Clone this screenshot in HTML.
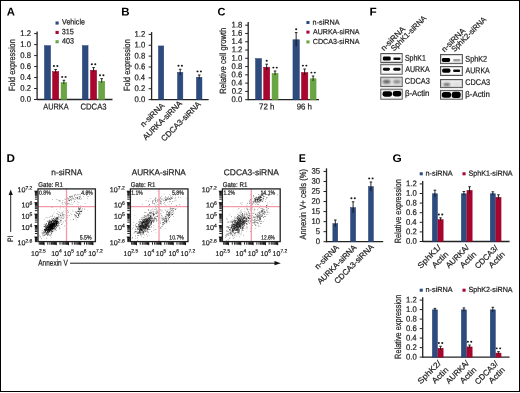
<!DOCTYPE html>
<html><head><meta charset="utf-8"><style>
html,body{margin:0;padding:0;background:#fff;}
svg{display:block;font-family:"Liberation Sans", sans-serif;will-change:transform;text-rendering:geometricPrecision;}
text:not([font-weight]){stroke:#1e1e1e;stroke-width:0.22px;}
</style></head><body>
<svg width="520" height="393" viewBox="0 0 520 393">
<rect width="520" height="393" fill="#fff"/>
<rect x="0.5" y="0.5" width="519" height="391" fill="none" stroke="#000" stroke-width="1"/>
<text x="6.72" y="15.40" font-size="11.2" font-weight="bold" textLength="8.18" lengthAdjust="spacingAndGlyphs" transform="rotate(0.05 6.72 15.40)" fill="#000">A</text>
<rect x="55.50" y="21.50" width="3.20" height="3.10" fill="#2e4b7e"/>
<text x="62.07" y="24.50" font-size="7.8" textLength="22.84" lengthAdjust="spacingAndGlyphs" transform="rotate(0.05 62.07 24.50)" fill="#1e1e1e">Vehicle</text>
<rect x="55.50" y="30.90" width="3.20" height="3.10" fill="#a8052f"/>
<text x="61.82" y="34.20" font-size="7.8" textLength="12.08" lengthAdjust="spacingAndGlyphs" transform="rotate(0.05 61.82 34.20)" fill="#1e1e1e">315</text>
<rect x="55.50" y="40.20" width="3.20" height="3.10" fill="#6aa545"/>
<text x="61.94" y="43.60" font-size="7.8" textLength="11.98" lengthAdjust="spacingAndGlyphs" transform="rotate(0.05 61.94 43.60)" fill="#1e1e1e">403</text>
<line x1="37.10" y1="31.50" x2="37.10" y2="100.10" stroke="#222" stroke-width="1.3"/>
<line x1="34.10" y1="99.50" x2="37.10" y2="99.50" stroke="#222" stroke-width="1.0"/>
<text x="20.29" y="101.85" font-size="8.2" textLength="10.72" lengthAdjust="spacingAndGlyphs" transform="rotate(0.05 20.29 101.85)" fill="#1e1e1e">0.0</text>
<line x1="34.10" y1="88.52" x2="37.10" y2="88.52" stroke="#222" stroke-width="1.0"/>
<text x="20.37" y="90.87" font-size="8.2" textLength="10.72" lengthAdjust="spacingAndGlyphs" transform="rotate(0.05 20.37 90.87)" fill="#1e1e1e">0.2</text>
<line x1="34.10" y1="77.54" x2="37.10" y2="77.54" stroke="#222" stroke-width="1.0"/>
<text x="20.21" y="79.89" font-size="8.2" textLength="10.72" lengthAdjust="spacingAndGlyphs" transform="rotate(0.05 20.21 79.89)" fill="#1e1e1e">0.4</text>
<line x1="34.10" y1="66.56" x2="37.10" y2="66.56" stroke="#222" stroke-width="1.0"/>
<text x="20.32" y="68.91" font-size="8.2" textLength="10.72" lengthAdjust="spacingAndGlyphs" transform="rotate(0.05 20.32 68.91)" fill="#1e1e1e">0.6</text>
<line x1="34.10" y1="55.58" x2="37.10" y2="55.58" stroke="#222" stroke-width="1.0"/>
<text x="20.32" y="57.93" font-size="8.2" textLength="10.72" lengthAdjust="spacingAndGlyphs" transform="rotate(0.05 20.32 57.93)" fill="#1e1e1e">0.8</text>
<line x1="34.10" y1="44.60" x2="37.10" y2="44.60" stroke="#222" stroke-width="1.0"/>
<text x="20.29" y="46.95" font-size="8.2" textLength="10.72" lengthAdjust="spacingAndGlyphs" transform="rotate(0.05 20.29 46.95)" fill="#1e1e1e">1.0</text>
<line x1="34.10" y1="33.62" x2="37.10" y2="33.62" stroke="#222" stroke-width="1.0"/>
<text x="20.37" y="35.97" font-size="8.2" textLength="10.72" lengthAdjust="spacingAndGlyphs" transform="rotate(0.05 20.37 35.97)" fill="#1e1e1e">1.2</text>
<line x1="37.10" y1="99.50" x2="112.50" y2="99.50" stroke="#222" stroke-width="1.3"/>
<rect x="44.45" y="45.65" width="6.10" height="53.85" fill="#2e4b7e" stroke="#223f76" stroke-width="0.5"/>
<rect x="52.55" y="71.62" width="6.20" height="27.88" fill="#a8052f" stroke="#9a0024" stroke-width="0.5"/>
<line x1="55.65" y1="69.47" x2="55.65" y2="72.87" stroke="#111" stroke-width="0.9"/>
<line x1="54.35" y1="69.47" x2="56.95" y2="69.47" stroke="#111" stroke-width="0.9"/>
<ellipse cx="53.95" cy="66.07" rx="1.05" ry="0.95" fill="#1a1a1a"/>
<ellipse cx="57.35" cy="66.07" rx="1.05" ry="0.95" fill="#1a1a1a"/>
<rect x="61.05" y="82.71" width="5.70" height="16.79" fill="#6aa545" stroke="#5a9c33" stroke-width="0.5"/>
<line x1="63.90" y1="80.29" x2="63.90" y2="83.96" stroke="#111" stroke-width="0.9"/>
<line x1="62.60" y1="80.29" x2="65.20" y2="80.29" stroke="#111" stroke-width="0.9"/>
<ellipse cx="62.20" cy="76.89" rx="1.05" ry="0.95" fill="#1a1a1a"/>
<ellipse cx="65.60" cy="76.89" rx="1.05" ry="0.95" fill="#1a1a1a"/>
<rect x="82.35" y="45.65" width="5.70" height="53.85" fill="#2e4b7e" stroke="#223f76" stroke-width="0.5"/>
<rect x="90.45" y="70.27" width="6.20" height="29.23" fill="#a8052f" stroke="#9a0024" stroke-width="0.5"/>
<line x1="93.55" y1="67.58" x2="93.55" y2="71.52" stroke="#111" stroke-width="0.9"/>
<line x1="92.25" y1="67.58" x2="94.85" y2="67.58" stroke="#111" stroke-width="0.9"/>
<ellipse cx="91.85" cy="64.18" rx="1.05" ry="0.95" fill="#1a1a1a"/>
<ellipse cx="95.25" cy="64.18" rx="1.05" ry="0.95" fill="#1a1a1a"/>
<rect x="98.65" y="81.36" width="6.10" height="18.14" fill="#6aa545" stroke="#5a9c33" stroke-width="0.5"/>
<line x1="101.70" y1="78.67" x2="101.70" y2="82.61" stroke="#111" stroke-width="0.9"/>
<line x1="100.40" y1="78.67" x2="103.00" y2="78.67" stroke="#111" stroke-width="0.9"/>
<ellipse cx="100.00" cy="75.27" rx="1.05" ry="0.95" fill="#1a1a1a"/>
<ellipse cx="103.40" cy="75.27" rx="1.05" ry="0.95" fill="#1a1a1a"/>
<text x="43.29" y="109.50" font-size="8.5" textLength="25.33" lengthAdjust="spacingAndGlyphs" transform="rotate(0.05 43.29 109.50)" fill="#1e1e1e">AURKA</text>
<text x="80.51" y="109.50" font-size="8.5" textLength="26.03" lengthAdjust="spacingAndGlyphs" transform="rotate(0.05 80.51 109.50)" fill="#1e1e1e">CDCA3</text>
<text x="14.90" y="91.10" font-size="9.0" textLength="51.88" lengthAdjust="spacingAndGlyphs" transform="rotate(-90 14.90 91.10)" fill="#1e1e1e">Fold expression</text>
<text x="121.23" y="15.40" font-size="11.2" font-weight="bold" textLength="8.29" lengthAdjust="spacingAndGlyphs" transform="rotate(0.05 121.23 15.40)" fill="#000">B</text>
<line x1="151.60" y1="32.10" x2="151.60" y2="100.20" stroke="#222" stroke-width="1.3"/>
<line x1="148.60" y1="99.60" x2="151.60" y2="99.60" stroke="#222" stroke-width="1.0"/>
<text x="134.49" y="101.95" font-size="8.2" textLength="10.72" lengthAdjust="spacingAndGlyphs" transform="rotate(0.05 134.49 101.95)" fill="#1e1e1e">0.0</text>
<line x1="148.60" y1="88.73" x2="151.60" y2="88.73" stroke="#222" stroke-width="1.0"/>
<text x="134.57" y="91.08" font-size="8.2" textLength="10.72" lengthAdjust="spacingAndGlyphs" transform="rotate(0.05 134.57 91.08)" fill="#1e1e1e">0.2</text>
<line x1="148.60" y1="77.86" x2="151.60" y2="77.86" stroke="#222" stroke-width="1.0"/>
<text x="134.41" y="80.21" font-size="8.2" textLength="10.72" lengthAdjust="spacingAndGlyphs" transform="rotate(0.05 134.41 80.21)" fill="#1e1e1e">0.4</text>
<line x1="148.60" y1="66.99" x2="151.60" y2="66.99" stroke="#222" stroke-width="1.0"/>
<text x="134.52" y="69.34" font-size="8.2" textLength="10.72" lengthAdjust="spacingAndGlyphs" transform="rotate(0.05 134.52 69.34)" fill="#1e1e1e">0.6</text>
<line x1="148.60" y1="56.12" x2="151.60" y2="56.12" stroke="#222" stroke-width="1.0"/>
<text x="134.52" y="58.47" font-size="8.2" textLength="10.72" lengthAdjust="spacingAndGlyphs" transform="rotate(0.05 134.52 58.47)" fill="#1e1e1e">0.8</text>
<line x1="148.60" y1="45.25" x2="151.60" y2="45.25" stroke="#222" stroke-width="1.0"/>
<text x="134.49" y="47.60" font-size="8.2" textLength="10.72" lengthAdjust="spacingAndGlyphs" transform="rotate(0.05 134.49 47.60)" fill="#1e1e1e">1.0</text>
<line x1="148.60" y1="34.38" x2="151.60" y2="34.38" stroke="#222" stroke-width="1.0"/>
<text x="134.57" y="36.73" font-size="8.2" textLength="10.72" lengthAdjust="spacingAndGlyphs" transform="rotate(0.05 134.57 36.73)" fill="#1e1e1e">1.2</text>
<line x1="151.60" y1="99.60" x2="208.70" y2="99.60" stroke="#222" stroke-width="1.3"/>
<rect x="158.45" y="45.95" width="5.30" height="53.65" fill="#2e4b7e" stroke="#223f76" stroke-width="0.5"/>
<rect x="177.55" y="72.35" width="5.30" height="27.25" fill="#2e4b7e" stroke="#223f76" stroke-width="0.5"/>
<line x1="180.20" y1="69.30" x2="180.20" y2="75.00" stroke="#111" stroke-width="0.9"/>
<line x1="178.90" y1="69.30" x2="181.50" y2="69.30" stroke="#111" stroke-width="0.9"/>
<ellipse cx="178.50" cy="65.70" rx="1.05" ry="0.95" fill="#1a1a1a"/>
<ellipse cx="181.90" cy="65.70" rx="1.05" ry="0.95" fill="#1a1a1a"/>
<rect x="196.45" y="77.35" width="5.50" height="22.25" fill="#2e4b7e" stroke="#223f76" stroke-width="0.5"/>
<line x1="199.20" y1="75.00" x2="199.20" y2="79.00" stroke="#111" stroke-width="0.9"/>
<line x1="197.90" y1="75.00" x2="200.50" y2="75.00" stroke="#111" stroke-width="0.9"/>
<ellipse cx="197.50" cy="71.40" rx="1.05" ry="0.95" fill="#1a1a1a"/>
<ellipse cx="200.90" cy="71.40" rx="1.05" ry="0.95" fill="#1a1a1a"/>
<text x="129.90" y="91.10" font-size="9.0" textLength="51.88" lengthAdjust="spacingAndGlyphs" transform="rotate(-90 129.90 91.10)" fill="#1e1e1e">Fold expression</text>
<text x="143.62" y="127.48" font-size="8.0" textLength="30.26" lengthAdjust="spacingAndGlyphs" transform="rotate(-45 143.62 127.48)" fill="#1e1e1e">n-siRNA</text>
<text x="145.99" y="140.51" font-size="8.0" textLength="51.53" lengthAdjust="spacingAndGlyphs" transform="rotate(-45 145.99 140.51)" fill="#1e1e1e">AURKA-siRNA</text>
<text x="164.31" y="141.79" font-size="8.0" textLength="52.42" lengthAdjust="spacingAndGlyphs" transform="rotate(-45 164.31 141.79)" fill="#1e1e1e">CDCA3-siRNA</text>
<text x="217.55" y="15.40" font-size="11.2" font-weight="bold" textLength="7.95" lengthAdjust="spacingAndGlyphs" transform="rotate(0.05 217.55 15.40)" fill="#000">C</text>
<line x1="248.20" y1="22.00" x2="248.20" y2="100.30" stroke="#222" stroke-width="1.3"/>
<line x1="245.20" y1="99.70" x2="248.20" y2="99.70" stroke="#222" stroke-width="1.0"/>
<text x="231.59" y="102.05" font-size="8.2" textLength="10.72" lengthAdjust="spacingAndGlyphs" transform="rotate(0.05 231.59 102.05)" fill="#1e1e1e">0.0</text>
<line x1="245.20" y1="91.42" x2="248.20" y2="91.42" stroke="#222" stroke-width="1.0"/>
<text x="231.67" y="93.77" font-size="8.2" textLength="10.72" lengthAdjust="spacingAndGlyphs" transform="rotate(0.05 231.67 93.77)" fill="#1e1e1e">0.2</text>
<line x1="245.20" y1="83.14" x2="248.20" y2="83.14" stroke="#222" stroke-width="1.0"/>
<text x="231.51" y="85.49" font-size="8.2" textLength="10.72" lengthAdjust="spacingAndGlyphs" transform="rotate(0.05 231.51 85.49)" fill="#1e1e1e">0.4</text>
<line x1="245.20" y1="74.86" x2="248.20" y2="74.86" stroke="#222" stroke-width="1.0"/>
<text x="231.62" y="77.21" font-size="8.2" textLength="10.72" lengthAdjust="spacingAndGlyphs" transform="rotate(0.05 231.62 77.21)" fill="#1e1e1e">0.6</text>
<line x1="245.20" y1="66.58" x2="248.20" y2="66.58" stroke="#222" stroke-width="1.0"/>
<text x="231.62" y="68.93" font-size="8.2" textLength="10.72" lengthAdjust="spacingAndGlyphs" transform="rotate(0.05 231.62 68.93)" fill="#1e1e1e">0.8</text>
<line x1="245.20" y1="58.30" x2="248.20" y2="58.30" stroke="#222" stroke-width="1.0"/>
<text x="231.59" y="60.65" font-size="8.2" textLength="10.72" lengthAdjust="spacingAndGlyphs" transform="rotate(0.05 231.59 60.65)" fill="#1e1e1e">1.0</text>
<line x1="245.20" y1="50.02" x2="248.20" y2="50.02" stroke="#222" stroke-width="1.0"/>
<text x="231.67" y="52.37" font-size="8.2" textLength="10.72" lengthAdjust="spacingAndGlyphs" transform="rotate(0.05 231.67 52.37)" fill="#1e1e1e">1.2</text>
<line x1="245.20" y1="41.74" x2="248.20" y2="41.74" stroke="#222" stroke-width="1.0"/>
<text x="231.51" y="44.09" font-size="8.2" textLength="10.72" lengthAdjust="spacingAndGlyphs" transform="rotate(0.05 231.51 44.09)" fill="#1e1e1e">1.4</text>
<line x1="245.20" y1="33.46" x2="248.20" y2="33.46" stroke="#222" stroke-width="1.0"/>
<text x="231.62" y="35.81" font-size="8.2" textLength="10.72" lengthAdjust="spacingAndGlyphs" transform="rotate(0.05 231.62 35.81)" fill="#1e1e1e">1.6</text>
<line x1="245.20" y1="25.18" x2="248.20" y2="25.18" stroke="#222" stroke-width="1.0"/>
<text x="231.62" y="27.53" font-size="8.2" textLength="10.72" lengthAdjust="spacingAndGlyphs" transform="rotate(0.05 231.62 27.53)" fill="#1e1e1e">1.8</text>
<line x1="248.20" y1="99.70" x2="319.00" y2="99.70" stroke="#222" stroke-width="1.3"/>
<rect x="255.55" y="58.55" width="6.00" height="41.15" fill="#2e4b7e" stroke="#223f76" stroke-width="0.5"/>
<rect x="263.65" y="67.25" width="6.10" height="32.45" fill="#a8052f" stroke="#9a0024" stroke-width="0.5"/>
<line x1="266.70" y1="64.20" x2="266.70" y2="70.00" stroke="#111" stroke-width="0.9"/>
<line x1="265.40" y1="64.20" x2="268.00" y2="64.20" stroke="#111" stroke-width="0.9"/>
<ellipse cx="266.70" cy="60.80" rx="1.05" ry="0.95" fill="#1a1a1a"/>
<rect x="272.05" y="73.45" width="6.00" height="26.25" fill="#6aa545" stroke="#5a9c33" stroke-width="0.5"/>
<line x1="275.05" y1="71.00" x2="275.05" y2="75.00" stroke="#111" stroke-width="0.9"/>
<line x1="273.75" y1="71.00" x2="276.35" y2="71.00" stroke="#111" stroke-width="0.9"/>
<ellipse cx="273.35" cy="67.60" rx="1.05" ry="0.95" fill="#1a1a1a"/>
<ellipse cx="276.75" cy="67.60" rx="1.05" ry="0.95" fill="#1a1a1a"/>
<rect x="292.95" y="39.75" width="6.40" height="59.95" fill="#2e4b7e" stroke="#223f76" stroke-width="0.5"/>
<line x1="296.15" y1="32.60" x2="296.15" y2="46.40" stroke="#111" stroke-width="0.9"/>
<line x1="294.85" y1="32.60" x2="297.45" y2="32.60" stroke="#111" stroke-width="0.9"/>
<ellipse cx="296.15" cy="29.20" rx="1.05" ry="0.95" fill="#1a1a1a"/>
<rect x="301.45" y="72.55" width="6.40" height="27.15" fill="#a8052f" stroke="#9a0024" stroke-width="0.5"/>
<line x1="304.65" y1="69.00" x2="304.65" y2="75.00" stroke="#111" stroke-width="0.9"/>
<line x1="303.35" y1="69.00" x2="305.95" y2="69.00" stroke="#111" stroke-width="0.9"/>
<ellipse cx="302.95" cy="65.60" rx="1.05" ry="0.95" fill="#1a1a1a"/>
<ellipse cx="306.35" cy="65.60" rx="1.05" ry="0.95" fill="#1a1a1a"/>
<rect x="310.15" y="78.75" width="5.90" height="20.95" fill="#6aa545" stroke="#5a9c33" stroke-width="0.5"/>
<line x1="313.10" y1="76.00" x2="313.10" y2="81.00" stroke="#111" stroke-width="0.9"/>
<line x1="311.80" y1="76.00" x2="314.40" y2="76.00" stroke="#111" stroke-width="0.9"/>
<ellipse cx="311.40" cy="72.60" rx="1.05" ry="0.95" fill="#1a1a1a"/>
<ellipse cx="314.80" cy="72.60" rx="1.05" ry="0.95" fill="#1a1a1a"/>
<text x="259.09" y="109.40" font-size="8.6" textLength="15.42" lengthAdjust="spacingAndGlyphs" transform="rotate(0.05 259.09 109.40)" fill="#1e1e1e">72 h</text>
<text x="296.63" y="109.40" font-size="8.6" textLength="15.38" lengthAdjust="spacingAndGlyphs" transform="rotate(0.05 296.63 109.40)" fill="#1e1e1e">96 h</text>
<rect x="306.40" y="21.00" width="3.10" height="3.00" fill="#2e4b7e"/>
<text x="312.62" y="24.70" font-size="7.4" textLength="26.89" lengthAdjust="spacingAndGlyphs" transform="rotate(0.05 312.62 24.70)" fill="#1e1e1e">n-siRNA</text>
<rect x="306.40" y="30.60" width="3.10" height="3.00" fill="#a8052f"/>
<text x="313.09" y="34.20" font-size="7.4" textLength="46.43" lengthAdjust="spacingAndGlyphs" transform="rotate(0.05 313.09 34.20)" fill="#1e1e1e">AURKA-siRNA</text>
<rect x="306.40" y="40.40" width="3.10" height="3.00" fill="#6aa545"/>
<text x="312.74" y="44.00" font-size="7.4" textLength="46.78" lengthAdjust="spacingAndGlyphs" transform="rotate(0.05 312.74 44.00)" fill="#1e1e1e">CDCA3-siRNA</text>
<text x="225.70" y="93.62" font-size="9.0" textLength="65.92" lengthAdjust="spacingAndGlyphs" transform="rotate(-90 225.70 93.62)" fill="#1e1e1e">Relative cell growth</text>
<text x="369.61" y="15.40" font-size="11.2" font-weight="bold" textLength="7.22" lengthAdjust="spacingAndGlyphs" transform="rotate(0.05 369.61 15.40)" fill="#000">F</text>
<text x="383.91" y="51.29" font-size="7.8" textLength="30.56" lengthAdjust="spacingAndGlyphs" transform="rotate(-45 383.91 51.29)" fill="#1e1e1e">n-siRNA</text>
<text x="393.96" y="51.54" font-size="7.8" textLength="46.56" lengthAdjust="spacingAndGlyphs" transform="rotate(-45 393.96 51.54)" fill="#1e1e1e">SphK1-siRNA</text>
<text x="444.52" y="52.48" font-size="7.8" textLength="30.05" lengthAdjust="spacingAndGlyphs" transform="rotate(-45 444.52 52.48)" fill="#1e1e1e">n-siRNA</text>
<text x="454.46" y="52.34" font-size="7.8" textLength="45.85" lengthAdjust="spacingAndGlyphs" transform="rotate(-45 454.46 52.34)" fill="#1e1e1e">SphK2-siRNA</text>
<defs>
<filter id="bl" x="-40%" y="-80%" width="180%" height="260%"><feGaussianBlur stdDeviation="0.6"/></filter>
<filter id="bl2" x="-40%" y="-80%" width="180%" height="260%"><feGaussianBlur stdDeviation="0.9"/></filter>
</defs>
<rect x="380.80" y="53.50" width="21.40" height="9.00" fill="#fbfbfb" stroke="#555" stroke-width="1.0"/>
<rect x="381.80" y="54.50" width="19.40" height="7.00" fill="none" stroke="#c4c4c4" stroke-width="0.6"/>
<rect x="382.90" y="56.40" width="7.80" height="4.20" rx="1.4" fill="#000" filter="url(#bl)"/>
<rect x="393.30" y="57.40" width="7.20" height="2.50" rx="1.0" fill="#111" filter="url(#bl)"/>
<rect x="380.80" y="64.30" width="21.40" height="9.90" fill="#fbfbfb" stroke="#555" stroke-width="1.0"/>
<rect x="381.80" y="65.30" width="19.40" height="7.90" fill="none" stroke="#c4c4c4" stroke-width="0.6"/>
<rect x="382.90" y="67.70" width="7.00" height="3.00" rx="1.4" fill="#080808" filter="url(#bl)"/>
<rect x="393.30" y="67.80" width="7.20" height="2.90" rx="1.4" fill="#080808" filter="url(#bl)"/>
<rect x="380.80" y="77.20" width="21.40" height="9.40" fill="#e6e6e6" stroke="#555" stroke-width="1.0"/>
<rect x="381.80" y="78.20" width="19.40" height="7.40" fill="none" stroke="#c4c4c4" stroke-width="0.6"/>
<rect x="382.90" y="80.10" width="7.40" height="3.40" rx="1.4" fill="#5e5e5e" filter="url(#bl2)"/>
<rect x="393.40" y="80.10" width="7.10" height="3.40" rx="1.4" fill="#888" filter="url(#bl2)"/>
<rect x="380.80" y="89.20" width="21.40" height="10.00" fill="#fbfbfb" stroke="#555" stroke-width="1.0"/>
<rect x="381.80" y="90.20" width="19.40" height="8.00" fill="none" stroke="#c4c4c4" stroke-width="0.6"/>
<rect x="382.50" y="91.30" width="9.60" height="5.40" rx="2.4" fill="#000" filter="url(#bl)"/>
<rect x="392.70" y="91.00" width="8.70" height="5.40" rx="2.4" fill="#000" filter="url(#bl)"/>
<text x="404.88" y="60.70" font-size="8.4" textLength="21.06" lengthAdjust="spacingAndGlyphs" transform="rotate(0.05 404.88 60.70)" fill="#1e1e1e">SphK1</text>
<text x="405.19" y="72.10" font-size="8.4" textLength="24.43" lengthAdjust="spacingAndGlyphs" transform="rotate(0.05 405.19 72.10)" fill="#1e1e1e">AURKA</text>
<text x="404.82" y="83.80" font-size="8.4" textLength="25.10" lengthAdjust="spacingAndGlyphs" transform="rotate(0.05 404.82 83.80)" fill="#1e1e1e">CDCA3</text>
<text x="404.90" y="95.90" font-size="8.4" textLength="24.60" lengthAdjust="spacingAndGlyphs" transform="rotate(0.05 404.90 95.90)" fill="#1e1e1e">&#946;-Actin</text>
<rect x="440.50" y="54.50" width="21.90" height="9.10" fill="#fbfbfb" stroke="#555" stroke-width="1.0"/>
<rect x="441.50" y="55.50" width="19.90" height="7.10" fill="none" stroke="#c4c4c4" stroke-width="0.6"/>
<rect x="441.90" y="58.10" width="8.20" height="3.80" rx="1.4" fill="#000" filter="url(#bl)"/>
<rect x="453.10" y="59.10" width="7.30" height="2.50" rx="1.0" fill="#a0a0a0" filter="url(#bl)"/>
<rect x="440.50" y="66.50" width="21.90" height="9.00" fill="#fbfbfb" stroke="#555" stroke-width="1.0"/>
<rect x="441.50" y="67.50" width="19.90" height="7.00" fill="none" stroke="#c4c4c4" stroke-width="0.6"/>
<rect x="442.10" y="68.40" width="8.40" height="4.30" rx="1.8" fill="#000" filter="url(#bl)"/>
<rect x="453.10" y="69.50" width="7.00" height="2.40" rx="1.0" fill="#111" filter="url(#bl)"/>
<rect x="440.50" y="79.50" width="21.90" height="8.10" fill="#ececec" stroke="#555" stroke-width="1.0"/>
<rect x="441.50" y="80.50" width="19.90" height="6.10" fill="none" stroke="#c4c4c4" stroke-width="0.6"/>
<rect x="443.40" y="83.30" width="6.70" height="2.40" rx="1.4" fill="#555" filter="url(#bl2)"/>
<rect x="453.40" y="83.20" width="6.70" height="2.40" rx="1.4" fill="#d6d6d6" filter="url(#bl2)"/>
<rect x="440.50" y="90.40" width="21.90" height="8.80" fill="#fbfbfb" stroke="#555" stroke-width="1.0"/>
<rect x="441.50" y="91.40" width="19.90" height="6.80" fill="none" stroke="#c4c4c4" stroke-width="0.6"/>
<rect x="441.80" y="92.00" width="9.30" height="5.70" rx="2.5" fill="#000" filter="url(#bl)"/>
<rect x="451.70" y="91.70" width="9.00" height="6.40" rx="2.5" fill="#000" filter="url(#bl)"/>
<text x="465.27" y="61.70" font-size="8.4" textLength="21.90" lengthAdjust="spacingAndGlyphs" transform="rotate(0.05 465.27 61.70)" fill="#1e1e1e">SphK2</text>
<text x="465.59" y="73.20" font-size="8.4" textLength="24.23" lengthAdjust="spacingAndGlyphs" transform="rotate(0.05 465.59 73.20)" fill="#1e1e1e">AURKA</text>
<text x="465.23" y="84.90" font-size="8.4" textLength="24.90" lengthAdjust="spacingAndGlyphs" transform="rotate(0.05 465.23 84.90)" fill="#1e1e1e">CDCA3</text>
<text x="465.30" y="96.90" font-size="8.4" textLength="24.60" lengthAdjust="spacingAndGlyphs" transform="rotate(0.05 465.30 96.90)" fill="#1e1e1e">&#946;-Actin</text>
<text x="6.61" y="162.10" font-size="11.2" font-weight="bold" textLength="8.48" lengthAdjust="spacingAndGlyphs" transform="rotate(0.05 6.61 162.10)" fill="#000">D</text>
<text x="51.25" y="175.20" font-size="8.6" textLength="30.97" lengthAdjust="spacingAndGlyphs" transform="rotate(0.05 51.25 175.20)" fill="#1e1e1e">n-siRNA</text>
<text x="38.29" y="187.00" font-size="6.9" textLength="24.61" lengthAdjust="spacingAndGlyphs" transform="rotate(0.05 38.29 187.00)" fill="#1e1e1e">Gate: R1</text>
<path d="M57.4 221.0h0.62v0.62h-0.62zM51.1 227.7h0.62v0.62h-0.62zM51.9 229.6h0.62v0.62h-0.62zM42.5 234.2h0.62v0.62h-0.62zM52.0 226.8h0.62v0.62h-0.62zM49.8 226.6h0.62v0.62h-0.62zM50.9 229.0h0.62v0.62h-0.62zM53.8 226.4h0.62v0.62h-0.62zM53.1 225.2h0.62v0.62h-0.62zM48.9 230.4h0.62v0.62h-0.62zM47.2 227.7h0.62v0.62h-0.62zM50.5 228.3h0.62v0.62h-0.62zM51.5 222.0h0.62v0.62h-0.62zM56.0 227.0h0.62v0.62h-0.62zM48.8 231.7h0.62v0.62h-0.62zM45.4 227.5h0.62v0.62h-0.62zM49.4 219.8h0.62v0.62h-0.62zM57.8 222.5h0.62v0.62h-0.62zM49.7 224.8h0.62v0.62h-0.62zM49.8 228.8h0.62v0.62h-0.62zM52.5 220.5h0.62v0.62h-0.62zM50.2 227.0h0.62v0.62h-0.62zM52.3 222.6h0.62v0.62h-0.62zM56.7 221.6h0.62v0.62h-0.62zM52.5 223.3h0.62v0.62h-0.62zM53.4 227.6h0.62v0.62h-0.62zM52.2 222.4h0.62v0.62h-0.62zM50.9 229.7h0.62v0.62h-0.62zM50.5 226.4h0.62v0.62h-0.62zM50.0 228.4h0.62v0.62h-0.62zM48.1 224.3h0.62v0.62h-0.62zM47.0 225.0h0.62v0.62h-0.62zM52.0 227.9h0.62v0.62h-0.62zM48.1 225.4h0.62v0.62h-0.62zM50.8 225.1h0.62v0.62h-0.62zM50.7 225.2h0.62v0.62h-0.62zM50.6 223.6h0.62v0.62h-0.62zM55.6 221.5h0.62v0.62h-0.62zM44.2 229.0h0.62v0.62h-0.62zM53.3 219.9h0.62v0.62h-0.62zM51.6 227.9h0.62v0.62h-0.62zM46.1 228.8h0.62v0.62h-0.62zM51.6 227.4h0.62v0.62h-0.62zM52.3 226.4h0.62v0.62h-0.62zM56.5 224.4h0.62v0.62h-0.62zM48.4 229.9h0.62v0.62h-0.62zM49.0 222.6h0.62v0.62h-0.62zM50.4 224.5h0.62v0.62h-0.62zM45.2 230.8h0.62v0.62h-0.62zM49.2 231.4h0.62v0.62h-0.62zM53.4 224.3h0.62v0.62h-0.62zM52.4 222.8h0.62v0.62h-0.62zM55.0 222.8h0.62v0.62h-0.62zM52.1 223.6h0.62v0.62h-0.62zM53.0 225.2h0.62v0.62h-0.62zM51.6 225.6h0.62v0.62h-0.62zM56.3 223.3h0.62v0.62h-0.62zM48.9 229.0h0.62v0.62h-0.62zM52.0 227.6h0.62v0.62h-0.62zM52.2 224.5h0.62v0.62h-0.62zM47.2 232.0h0.62v0.62h-0.62zM54.8 221.3h0.62v0.62h-0.62zM49.5 229.3h0.62v0.62h-0.62zM51.1 226.3h0.62v0.62h-0.62zM57.4 218.5h0.62v0.62h-0.62zM47.8 228.0h0.62v0.62h-0.62zM49.0 227.2h0.62v0.62h-0.62zM56.5 221.3h0.62v0.62h-0.62zM44.3 226.2h0.62v0.62h-0.62zM51.5 228.9h0.62v0.62h-0.62zM49.1 220.9h0.62v0.62h-0.62zM52.1 224.0h0.62v0.62h-0.62zM52.3 223.4h0.62v0.62h-0.62zM53.2 225.6h0.62v0.62h-0.62zM55.5 221.7h0.62v0.62h-0.62zM54.1 222.4h0.62v0.62h-0.62zM52.9 224.0h0.62v0.62h-0.62zM50.3 229.3h0.62v0.62h-0.62zM52.2 231.3h0.62v0.62h-0.62zM45.7 232.6h0.62v0.62h-0.62zM50.1 220.7h0.62v0.62h-0.62zM44.8 231.2h0.62v0.62h-0.62zM54.3 223.5h0.62v0.62h-0.62zM61.5 224.2h0.62v0.62h-0.62zM46.6 228.2h0.62v0.62h-0.62zM48.4 227.5h0.62v0.62h-0.62zM50.4 228.1h0.62v0.62h-0.62zM54.0 223.5h0.62v0.62h-0.62zM46.4 226.8h0.62v0.62h-0.62zM52.0 227.5h0.62v0.62h-0.62zM47.5 225.7h0.62v0.62h-0.62zM49.8 226.3h0.62v0.62h-0.62zM56.9 223.4h0.62v0.62h-0.62zM46.1 227.2h0.62v0.62h-0.62zM50.7 225.1h0.62v0.62h-0.62zM54.3 227.2h0.62v0.62h-0.62zM53.3 222.6h0.62v0.62h-0.62zM45.6 228.5h0.62v0.62h-0.62zM53.6 221.3h0.62v0.62h-0.62zM53.6 225.5h0.62v0.62h-0.62zM51.4 220.8h0.62v0.62h-0.62zM50.3 224.7h0.62v0.62h-0.62zM43.8 229.2h0.62v0.62h-0.62zM47.3 226.4h0.62v0.62h-0.62zM55.4 224.9h0.62v0.62h-0.62zM51.0 225.6h0.62v0.62h-0.62zM50.2 225.4h0.62v0.62h-0.62zM57.1 220.5h0.62v0.62h-0.62zM56.7 217.6h0.62v0.62h-0.62zM49.1 224.3h0.62v0.62h-0.62zM58.6 221.0h0.62v0.62h-0.62zM46.2 233.6h0.62v0.62h-0.62zM43.5 231.4h0.62v0.62h-0.62zM54.7 223.9h0.62v0.62h-0.62zM52.3 228.7h0.62v0.62h-0.62zM53.5 224.6h0.62v0.62h-0.62zM53.3 224.8h0.62v0.62h-0.62zM48.9 224.4h0.62v0.62h-0.62zM52.9 223.4h0.62v0.62h-0.62zM48.7 222.7h0.62v0.62h-0.62zM47.9 232.4h0.62v0.62h-0.62zM51.4 224.8h0.62v0.62h-0.62zM53.5 227.0h0.62v0.62h-0.62zM55.5 218.7h0.62v0.62h-0.62zM48.8 230.7h0.62v0.62h-0.62zM48.7 223.6h0.62v0.62h-0.62zM49.1 226.6h0.62v0.62h-0.62zM51.4 227.0h0.62v0.62h-0.62zM56.6 220.8h0.62v0.62h-0.62zM52.1 224.5h0.62v0.62h-0.62zM47.1 225.1h0.62v0.62h-0.62zM53.4 227.1h0.62v0.62h-0.62zM54.3 224.2h0.62v0.62h-0.62zM49.6 230.6h0.62v0.62h-0.62zM51.8 228.2h0.62v0.62h-0.62zM55.2 220.2h0.62v0.62h-0.62zM54.2 223.5h0.62v0.62h-0.62zM54.8 229.6h0.62v0.62h-0.62zM48.3 226.2h0.62v0.62h-0.62zM51.1 226.9h0.62v0.62h-0.62zM45.4 230.1h0.62v0.62h-0.62zM56.5 225.1h0.62v0.62h-0.62zM52.3 224.9h0.62v0.62h-0.62zM49.9 223.9h0.62v0.62h-0.62zM46.1 229.2h0.62v0.62h-0.62zM46.7 226.2h0.62v0.62h-0.62zM49.2 221.0h0.62v0.62h-0.62zM47.8 221.2h0.62v0.62h-0.62zM48.4 226.4h0.62v0.62h-0.62zM50.9 222.6h0.62v0.62h-0.62zM54.1 222.9h0.62v0.62h-0.62zM47.7 226.9h0.62v0.62h-0.62zM49.7 227.9h0.62v0.62h-0.62zM50.9 231.1h0.62v0.62h-0.62zM45.7 228.0h0.62v0.62h-0.62zM51.6 221.5h0.62v0.62h-0.62zM54.0 225.5h0.62v0.62h-0.62zM55.5 227.9h0.62v0.62h-0.62zM46.1 228.4h0.62v0.62h-0.62zM45.3 226.9h0.62v0.62h-0.62zM50.4 225.6h0.62v0.62h-0.62zM49.1 226.6h0.62v0.62h-0.62zM52.4 226.4h0.62v0.62h-0.62zM47.3 226.6h0.62v0.62h-0.62zM52.6 223.3h0.62v0.62h-0.62zM56.1 219.4h0.62v0.62h-0.62zM53.4 218.5h0.62v0.62h-0.62zM53.6 218.3h0.62v0.62h-0.62zM51.9 226.2h0.62v0.62h-0.62zM54.6 223.5h0.62v0.62h-0.62zM48.7 225.9h0.62v0.62h-0.62zM56.1 224.9h0.62v0.62h-0.62zM51.2 228.3h0.62v0.62h-0.62zM50.2 228.0h0.62v0.62h-0.62zM49.9 228.8h0.62v0.62h-0.62zM53.7 224.0h0.62v0.62h-0.62zM52.9 225.9h0.62v0.62h-0.62zM52.8 226.4h0.62v0.62h-0.62zM47.6 229.6h0.62v0.62h-0.62zM48.4 222.5h0.62v0.62h-0.62zM46.3 230.3h0.62v0.62h-0.62zM54.3 219.8h0.62v0.62h-0.62zM48.8 224.6h0.62v0.62h-0.62zM52.5 226.0h0.62v0.62h-0.62zM48.0 223.7h0.62v0.62h-0.62zM47.4 232.2h0.62v0.62h-0.62zM45.8 229.4h0.62v0.62h-0.62zM49.1 224.2h0.62v0.62h-0.62zM54.3 219.7h0.62v0.62h-0.62zM51.0 232.7h0.62v0.62h-0.62zM51.0 230.2h0.62v0.62h-0.62zM50.4 225.6h0.62v0.62h-0.62zM47.4 232.8h0.62v0.62h-0.62zM48.4 233.8h0.62v0.62h-0.62zM48.4 225.9h0.62v0.62h-0.62zM50.4 225.5h0.62v0.62h-0.62zM51.2 228.4h0.62v0.62h-0.62zM56.3 221.3h0.62v0.62h-0.62zM49.9 225.8h0.62v0.62h-0.62zM54.5 226.9h0.62v0.62h-0.62zM56.7 221.2h0.62v0.62h-0.62zM57.4 221.3h0.62v0.62h-0.62zM49.7 234.3h0.62v0.62h-0.62zM50.6 227.7h0.62v0.62h-0.62zM58.5 225.6h0.62v0.62h-0.62zM47.2 230.8h0.62v0.62h-0.62zM47.9 228.6h0.62v0.62h-0.62zM47.2 230.2h0.62v0.62h-0.62zM48.1 231.5h0.62v0.62h-0.62zM48.5 230.4h0.62v0.62h-0.62zM52.1 225.7h0.62v0.62h-0.62zM52.7 219.5h0.62v0.62h-0.62zM54.1 219.2h0.62v0.62h-0.62zM50.6 225.4h0.62v0.62h-0.62zM46.0 233.3h0.62v0.62h-0.62zM53.0 228.0h0.62v0.62h-0.62zM46.4 223.6h0.62v0.62h-0.62zM51.8 224.4h0.62v0.62h-0.62zM49.9 225.6h0.62v0.62h-0.62zM45.3 231.5h0.62v0.62h-0.62zM52.6 224.7h0.62v0.62h-0.62zM43.4 231.4h0.62v0.62h-0.62zM46.9 226.2h0.62v0.62h-0.62zM53.4 226.2h0.62v0.62h-0.62zM53.2 225.7h0.62v0.62h-0.62zM55.2 220.0h0.62v0.62h-0.62zM43.5 233.4h0.62v0.62h-0.62zM51.0 223.7h0.62v0.62h-0.62zM51.0 221.5h0.62v0.62h-0.62zM50.9 227.8h0.62v0.62h-0.62zM51.9 222.7h0.62v0.62h-0.62zM45.9 227.8h0.62v0.62h-0.62zM52.1 222.8h0.62v0.62h-0.62zM55.1 226.3h0.62v0.62h-0.62zM48.6 229.6h0.62v0.62h-0.62zM49.3 228.3h0.62v0.62h-0.62zM50.5 226.5h0.62v0.62h-0.62zM50.2 229.1h0.62v0.62h-0.62zM55.3 223.4h0.62v0.62h-0.62zM49.6 223.4h0.62v0.62h-0.62zM54.6 221.1h0.62v0.62h-0.62zM53.6 221.0h0.62v0.62h-0.62zM51.5 225.9h0.62v0.62h-0.62zM50.3 226.3h0.62v0.62h-0.62zM45.1 226.1h0.62v0.62h-0.62zM50.2 230.0h0.62v0.62h-0.62zM48.9 228.8h0.62v0.62h-0.62zM49.4 222.2h0.62v0.62h-0.62zM50.0 230.3h0.62v0.62h-0.62zM51.4 225.7h0.62v0.62h-0.62zM52.3 225.8h0.62v0.62h-0.62zM49.5 227.4h0.62v0.62h-0.62zM50.6 226.6h0.62v0.62h-0.62zM54.6 220.3h0.62v0.62h-0.62zM53.4 218.1h0.62v0.62h-0.62zM47.6 227.5h0.62v0.62h-0.62zM50.6 226.6h0.62v0.62h-0.62zM49.9 227.0h0.62v0.62h-0.62zM51.1 227.6h0.62v0.62h-0.62zM55.5 220.6h0.62v0.62h-0.62zM49.7 220.3h0.62v0.62h-0.62zM55.9 222.6h0.62v0.62h-0.62zM55.2 218.8h0.62v0.62h-0.62zM47.6 225.3h0.62v0.62h-0.62zM49.9 225.9h0.62v0.62h-0.62zM49.0 223.7h0.62v0.62h-0.62zM54.6 222.8h0.62v0.62h-0.62zM49.2 224.7h0.62v0.62h-0.62zM55.8 226.3h0.62v0.62h-0.62zM54.1 221.5h0.62v0.62h-0.62zM53.6 221.1h0.62v0.62h-0.62zM51.3 223.3h0.62v0.62h-0.62zM45.3 225.3h0.62v0.62h-0.62zM44.8 229.6h0.62v0.62h-0.62zM53.2 221.0h0.62v0.62h-0.62zM51.8 223.7h0.62v0.62h-0.62zM44.7 225.7h0.62v0.62h-0.62zM49.4 227.4h0.62v0.62h-0.62zM51.4 229.0h0.62v0.62h-0.62zM45.1 230.6h0.62v0.62h-0.62zM51.6 224.8h0.62v0.62h-0.62zM49.1 228.9h0.62v0.62h-0.62zM48.8 225.6h0.62v0.62h-0.62zM52.5 222.7h0.62v0.62h-0.62zM52.0 227.4h0.62v0.62h-0.62zM52.9 224.2h0.62v0.62h-0.62zM50.4 222.6h0.62v0.62h-0.62zM48.4 223.1h0.62v0.62h-0.62zM54.5 228.7h0.62v0.62h-0.62zM57.3 220.2h0.62v0.62h-0.62zM48.0 224.1h0.62v0.62h-0.62zM56.2 220.6h0.62v0.62h-0.62zM49.1 229.7h0.62v0.62h-0.62zM53.4 223.5h0.62v0.62h-0.62zM48.7 222.6h0.62v0.62h-0.62zM51.4 230.7h0.62v0.62h-0.62zM43.7 235.3h0.62v0.62h-0.62zM55.6 220.2h0.62v0.62h-0.62zM48.4 230.5h0.62v0.62h-0.62zM47.7 228.6h0.62v0.62h-0.62zM50.9 224.9h0.62v0.62h-0.62zM52.5 226.8h0.62v0.62h-0.62zM48.9 222.1h0.62v0.62h-0.62zM51.7 228.0h0.62v0.62h-0.62zM47.0 231.3h0.62v0.62h-0.62zM54.8 224.0h0.62v0.62h-0.62zM49.6 230.0h0.62v0.62h-0.62zM54.0 227.2h0.62v0.62h-0.62zM54.9 225.9h0.62v0.62h-0.62zM55.9 223.1h0.62v0.62h-0.62zM49.8 226.0h0.62v0.62h-0.62zM51.1 227.8h0.62v0.62h-0.62zM49.6 225.9h0.62v0.62h-0.62zM43.9 230.6h0.62v0.62h-0.62zM49.4 228.9h0.62v0.62h-0.62zM48.5 229.6h0.62v0.62h-0.62zM49.3 231.3h0.62v0.62h-0.62zM48.4 222.3h0.62v0.62h-0.62zM51.0 227.7h0.62v0.62h-0.62zM56.9 221.5h0.62v0.62h-0.62zM55.8 221.1h0.62v0.62h-0.62zM47.5 234.1h0.62v0.62h-0.62zM50.1 224.2h0.62v0.62h-0.62zM48.5 229.6h0.62v0.62h-0.62zM52.2 223.5h0.62v0.62h-0.62zM51.5 225.3h0.62v0.62h-0.62zM52.5 221.4h0.62v0.62h-0.62zM51.8 224.6h0.62v0.62h-0.62zM54.4 224.3h0.62v0.62h-0.62zM50.3 227.0h0.62v0.62h-0.62zM43.9 234.6h0.62v0.62h-0.62zM46.3 228.7h0.62v0.62h-0.62zM50.8 230.9h0.62v0.62h-0.62zM48.5 226.5h0.62v0.62h-0.62zM48.0 229.2h0.62v0.62h-0.62zM56.9 221.3h0.62v0.62h-0.62zM50.3 226.2h0.62v0.62h-0.62zM56.2 222.6h0.62v0.62h-0.62zM50.3 227.2h0.62v0.62h-0.62zM58.7 222.8h0.62v0.62h-0.62zM48.2 230.6h0.62v0.62h-0.62zM53.5 224.4h0.62v0.62h-0.62zM45.8 229.1h0.62v0.62h-0.62zM53.1 225.0h0.62v0.62h-0.62zM57.4 222.0h0.62v0.62h-0.62zM46.7 231.8h0.62v0.62h-0.62zM47.0 227.4h0.62v0.62h-0.62zM51.0 224.3h0.62v0.62h-0.62zM50.1 226.1h0.62v0.62h-0.62zM46.9 230.4h0.62v0.62h-0.62zM52.5 220.1h0.62v0.62h-0.62zM54.0 228.3h0.62v0.62h-0.62zM54.9 221.5h0.62v0.62h-0.62zM52.2 225.0h0.62v0.62h-0.62zM46.9 229.0h0.62v0.62h-0.62zM49.5 227.4h0.62v0.62h-0.62zM58.1 223.9h0.62v0.62h-0.62zM45.4 229.1h0.62v0.62h-0.62zM48.8 226.7h0.62v0.62h-0.62zM51.3 222.4h0.62v0.62h-0.62zM53.3 221.7h0.62v0.62h-0.62zM55.8 225.2h0.62v0.62h-0.62zM45.6 229.8h0.62v0.62h-0.62zM56.8 218.3h0.62v0.62h-0.62zM47.9 223.9h0.62v0.62h-0.62zM50.5 225.3h0.62v0.62h-0.62zM51.4 226.1h0.62v0.62h-0.62zM49.6 225.9h0.62v0.62h-0.62zM47.5 228.5h0.62v0.62h-0.62zM51.2 228.0h0.62v0.62h-0.62zM55.9 222.2h0.62v0.62h-0.62zM46.7 230.2h0.62v0.62h-0.62zM42.4 232.8h0.62v0.62h-0.62zM50.4 222.0h0.62v0.62h-0.62zM54.5 227.0h0.62v0.62h-0.62zM51.0 221.3h0.62v0.62h-0.62zM57.3 221.0h0.62v0.62h-0.62zM48.5 227.9h0.62v0.62h-0.62zM50.5 224.2h0.62v0.62h-0.62zM53.9 225.4h0.62v0.62h-0.62zM53.7 220.8h0.62v0.62h-0.62zM56.0 224.2h0.62v0.62h-0.62zM46.9 227.2h0.62v0.62h-0.62zM47.5 231.0h0.62v0.62h-0.62zM52.1 228.5h0.62v0.62h-0.62zM44.7 229.8h0.62v0.62h-0.62zM57.5 225.1h0.62v0.62h-0.62zM51.1 228.3h0.62v0.62h-0.62zM46.7 224.0h0.62v0.62h-0.62zM50.3 230.7h0.62v0.62h-0.62zM58.5 223.4h0.62v0.62h-0.62zM51.5 224.5h0.62v0.62h-0.62zM49.5 226.9h0.62v0.62h-0.62zM53.5 224.3h0.62v0.62h-0.62zM48.0 223.5h0.62v0.62h-0.62zM53.1 224.1h0.62v0.62h-0.62zM56.5 222.8h0.62v0.62h-0.62zM49.4 225.9h0.62v0.62h-0.62zM54.2 225.7h0.62v0.62h-0.62zM55.7 227.3h0.62v0.62h-0.62zM51.6 219.4h0.62v0.62h-0.62zM50.2 221.4h0.62v0.62h-0.62zM50.1 224.8h0.62v0.62h-0.62zM50.0 228.8h0.62v0.62h-0.62zM52.5 225.4h0.62v0.62h-0.62zM46.5 228.0h0.62v0.62h-0.62zM51.4 222.1h0.62v0.62h-0.62zM50.1 224.6h0.62v0.62h-0.62zM55.2 226.4h0.62v0.62h-0.62zM48.0 226.2h0.62v0.62h-0.62zM47.7 227.7h0.62v0.62h-0.62zM49.6 230.1h0.62v0.62h-0.62zM54.0 221.8h0.62v0.62h-0.62zM48.9 225.2h0.62v0.62h-0.62zM52.4 228.6h0.62v0.62h-0.62zM46.0 232.2h0.62v0.62h-0.62zM49.8 225.1h0.62v0.62h-0.62zM39.8 236.7h0.62v0.62h-0.62zM56.6 222.6h0.62v0.62h-0.62zM49.8 226.1h0.62v0.62h-0.62zM51.5 226.1h0.62v0.62h-0.62zM48.0 231.8h0.62v0.62h-0.62zM49.1 230.8h0.62v0.62h-0.62zM50.2 221.3h0.62v0.62h-0.62zM49.7 225.9h0.62v0.62h-0.62zM51.9 224.0h0.62v0.62h-0.62zM55.1 221.8h0.62v0.62h-0.62zM54.2 224.7h0.62v0.62h-0.62zM46.9 233.7h0.62v0.62h-0.62zM47.4 228.5h0.62v0.62h-0.62zM46.0 228.1h0.62v0.62h-0.62zM48.6 229.1h0.62v0.62h-0.62zM43.8 231.9h0.62v0.62h-0.62zM47.3 235.0h0.62v0.62h-0.62zM49.3 228.8h0.62v0.62h-0.62zM49.3 227.9h0.62v0.62h-0.62zM54.1 225.5h0.62v0.62h-0.62zM49.1 226.0h0.62v0.62h-0.62zM54.9 220.7h0.62v0.62h-0.62zM45.2 231.6h0.62v0.62h-0.62zM47.8 231.3h0.62v0.62h-0.62zM53.8 226.8h0.62v0.62h-0.62zM51.4 227.9h0.62v0.62h-0.62zM49.2 230.2h0.62v0.62h-0.62zM53.1 223.0h0.62v0.62h-0.62zM55.0 222.8h0.62v0.62h-0.62zM54.8 221.3h0.62v0.62h-0.62zM51.6 228.8h0.62v0.62h-0.62zM50.1 225.0h0.62v0.62h-0.62zM51.7 225.0h0.62v0.62h-0.62zM51.6 226.0h0.62v0.62h-0.62zM55.4 223.6h0.62v0.62h-0.62zM48.5 226.5h0.62v0.62h-0.62zM51.9 224.4h0.62v0.62h-0.62zM43.1 232.0h0.62v0.62h-0.62zM51.4 221.6h0.62v0.62h-0.62zM57.7 222.0h0.62v0.62h-0.62zM51.7 226.6h0.62v0.62h-0.62zM52.1 220.4h0.62v0.62h-0.62zM44.5 230.0h0.62v0.62h-0.62zM50.9 227.7h0.62v0.62h-0.62zM45.4 230.1h0.62v0.62h-0.62zM50.5 223.4h0.62v0.62h-0.62zM54.5 225.9h0.62v0.62h-0.62zM46.1 229.7h0.62v0.62h-0.62zM47.9 228.2h0.62v0.62h-0.62zM50.1 228.6h0.62v0.62h-0.62zM57.5 216.9h0.62v0.62h-0.62zM50.9 226.1h0.62v0.62h-0.62zM51.7 225.7h0.62v0.62h-0.62zM53.3 225.7h0.62v0.62h-0.62zM50.9 223.9h0.62v0.62h-0.62zM51.9 228.1h0.62v0.62h-0.62zM47.5 230.7h0.62v0.62h-0.62zM51.6 230.6h0.62v0.62h-0.62zM56.4 220.8h0.62v0.62h-0.62zM51.1 224.3h0.62v0.62h-0.62zM49.1 226.4h0.62v0.62h-0.62zM45.2 228.8h0.62v0.62h-0.62zM50.9 226.0h0.62v0.62h-0.62zM51.0 225.7h0.62v0.62h-0.62zM50.4 229.2h0.62v0.62h-0.62zM53.9 223.0h0.62v0.62h-0.62zM48.0 226.6h0.62v0.62h-0.62zM52.0 227.8h0.62v0.62h-0.62zM53.0 222.5h0.62v0.62h-0.62zM52.1 225.5h0.62v0.62h-0.62zM56.6 224.1h0.62v0.62h-0.62zM52.2 228.3h0.62v0.62h-0.62zM48.6 226.3h0.62v0.62h-0.62zM52.3 224.1h0.62v0.62h-0.62zM53.7 227.0h0.62v0.62h-0.62zM56.1 223.3h0.62v0.62h-0.62zM53.1 225.2h0.62v0.62h-0.62zM52.2 227.1h0.62v0.62h-0.62zM49.2 221.4h0.62v0.62h-0.62zM52.6 223.3h0.62v0.62h-0.62zM45.5 227.5h0.62v0.62h-0.62zM49.6 225.4h0.62v0.62h-0.62zM49.4 226.4h0.62v0.62h-0.62zM55.4 222.5h0.62v0.62h-0.62zM51.2 229.0h0.62v0.62h-0.62zM55.4 223.4h0.62v0.62h-0.62zM47.5 230.3h0.62v0.62h-0.62zM50.3 225.5h0.62v0.62h-0.62zM56.1 224.0h0.62v0.62h-0.62zM50.6 227.0h0.62v0.62h-0.62zM51.9 219.5h0.62v0.62h-0.62zM44.6 232.3h0.62v0.62h-0.62zM51.8 226.4h0.62v0.62h-0.62zM50.0 223.9h0.62v0.62h-0.62zM50.9 226.5h0.62v0.62h-0.62zM48.5 232.8h0.62v0.62h-0.62zM52.6 223.2h0.62v0.62h-0.62zM43.7 233.3h0.62v0.62h-0.62zM53.8 222.6h0.62v0.62h-0.62zM50.4 223.4h0.62v0.62h-0.62zM53.3 221.8h0.62v0.62h-0.62zM48.7 225.2h0.62v0.62h-0.62zM47.1 229.0h0.62v0.62h-0.62zM48.1 226.3h0.62v0.62h-0.62zM50.9 228.6h0.62v0.62h-0.62zM52.6 223.6h0.62v0.62h-0.62zM51.2 227.9h0.62v0.62h-0.62zM50.3 222.6h0.62v0.62h-0.62zM52.4 224.1h0.62v0.62h-0.62zM56.1 221.8h0.62v0.62h-0.62zM45.8 233.2h0.62v0.62h-0.62zM48.7 226.2h0.62v0.62h-0.62zM52.9 223.3h0.62v0.62h-0.62zM53.2 223.6h0.62v0.62h-0.62zM48.7 227.0h0.62v0.62h-0.62zM49.5 226.0h0.62v0.62h-0.62zM51.4 226.7h0.62v0.62h-0.62zM49.6 223.6h0.62v0.62h-0.62zM46.5 225.0h0.62v0.62h-0.62zM48.2 227.1h0.62v0.62h-0.62zM47.9 229.7h0.62v0.62h-0.62zM46.4 223.8h0.62v0.62h-0.62zM57.2 222.9h0.62v0.62h-0.62zM48.2 228.9h0.62v0.62h-0.62zM54.8 223.3h0.62v0.62h-0.62zM55.7 218.1h0.62v0.62h-0.62zM51.5 224.9h0.62v0.62h-0.62zM60.9 220.4h0.62v0.62h-0.62zM53.3 228.7h0.62v0.62h-0.62zM57.0 221.0h0.62v0.62h-0.62zM50.4 225.4h0.62v0.62h-0.62zM47.1 229.5h0.62v0.62h-0.62zM54.0 226.3h0.62v0.62h-0.62zM55.7 218.4h0.62v0.62h-0.62zM47.8 226.3h0.62v0.62h-0.62zM52.3 223.8h0.62v0.62h-0.62zM49.3 230.1h0.62v0.62h-0.62zM46.7 227.0h0.62v0.62h-0.62zM52.9 224.6h0.62v0.62h-0.62zM51.0 226.7h0.62v0.62h-0.62zM52.9 223.9h0.62v0.62h-0.62zM54.7 221.2h0.62v0.62h-0.62zM48.8 230.7h0.62v0.62h-0.62zM49.8 228.6h0.62v0.62h-0.62zM49.0 223.4h0.62v0.62h-0.62zM60.5 220.1h0.62v0.62h-0.62zM50.7 227.2h0.62v0.62h-0.62zM50.0 227.5h0.62v0.62h-0.62zM51.8 223.6h0.62v0.62h-0.62zM57.1 218.2h0.62v0.62h-0.62zM45.5 223.9h0.62v0.62h-0.62zM49.7 226.2h0.62v0.62h-0.62zM52.0 226.1h0.62v0.62h-0.62zM54.3 223.8h0.62v0.62h-0.62zM56.7 217.3h0.62v0.62h-0.62zM43.7 226.3h0.62v0.62h-0.62zM44.3 229.3h0.62v0.62h-0.62zM51.1 224.5h0.62v0.62h-0.62zM54.6 225.4h0.62v0.62h-0.62zM41.8 230.5h0.62v0.62h-0.62zM49.2 227.4h0.62v0.62h-0.62zM54.9 223.0h0.62v0.62h-0.62zM50.4 228.0h0.62v0.62h-0.62zM52.4 223.7h0.62v0.62h-0.62zM47.5 221.0h0.62v0.62h-0.62zM54.0 224.1h0.62v0.62h-0.62zM52.6 224.1h0.62v0.62h-0.62zM52.7 225.2h0.62v0.62h-0.62zM53.5 219.9h0.62v0.62h-0.62zM48.7 226.5h0.62v0.62h-0.62zM53.7 227.0h0.62v0.62h-0.62zM54.5 221.5h0.62v0.62h-0.62zM49.4 227.2h0.62v0.62h-0.62zM49.0 225.6h0.62v0.62h-0.62zM50.7 229.6h0.62v0.62h-0.62zM45.9 226.2h0.62v0.62h-0.62zM56.6 218.0h0.62v0.62h-0.62zM53.3 224.4h0.62v0.62h-0.62zM56.9 219.1h0.62v0.62h-0.62zM54.8 224.2h0.62v0.62h-0.62zM52.1 225.7h0.62v0.62h-0.62zM52.5 228.3h0.62v0.62h-0.62zM51.7 224.2h0.62v0.62h-0.62zM50.9 225.3h0.62v0.62h-0.62zM54.4 222.7h0.62v0.62h-0.62zM45.9 225.8h0.62v0.62h-0.62zM53.8 226.8h0.62v0.62h-0.62zM51.3 222.6h0.62v0.62h-0.62zM52.2 227.7h0.62v0.62h-0.62zM52.7 228.1h0.62v0.62h-0.62zM54.4 225.0h0.62v0.62h-0.62zM53.3 223.8h0.62v0.62h-0.62zM50.0 224.9h0.62v0.62h-0.62zM48.1 222.5h0.62v0.62h-0.62zM50.4 228.0h0.62v0.62h-0.62zM52.6 223.2h0.62v0.62h-0.62zM53.4 228.2h0.62v0.62h-0.62zM46.0 230.2h0.62v0.62h-0.62zM51.2 227.3h0.62v0.62h-0.62zM52.5 222.9h0.62v0.62h-0.62zM52.7 225.1h0.62v0.62h-0.62zM48.0 227.9h0.62v0.62h-0.62zM53.2 222.8h0.62v0.62h-0.62z" fill="#000" fill-opacity="1.0"/>
<path d="M42.6 235.5h0.62v0.62h-0.62zM51.4 231.0h0.62v0.62h-0.62zM52.8 225.9h0.62v0.62h-0.62zM60.5 217.2h0.62v0.62h-0.62zM56.2 224.4h0.62v0.62h-0.62zM44.4 229.8h0.62v0.62h-0.62zM62.0 215.2h0.62v0.62h-0.62zM49.5 216.8h0.62v0.62h-0.62zM58.1 216.7h0.62v0.62h-0.62zM51.5 233.3h0.62v0.62h-0.62zM48.4 228.6h0.62v0.62h-0.62zM45.9 229.0h0.62v0.62h-0.62zM51.7 220.0h0.62v0.62h-0.62zM45.2 234.3h0.62v0.62h-0.62zM47.6 229.2h0.62v0.62h-0.62zM47.8 234.8h0.62v0.62h-0.62zM51.3 221.1h0.62v0.62h-0.62zM47.6 229.6h0.62v0.62h-0.62zM59.9 215.4h0.62v0.62h-0.62zM55.9 218.1h0.62v0.62h-0.62zM60.5 222.0h0.62v0.62h-0.62zM49.8 223.5h0.62v0.62h-0.62zM52.4 220.9h0.62v0.62h-0.62zM64.3 225.6h0.62v0.62h-0.62zM47.9 228.8h0.62v0.62h-0.62zM59.6 216.4h0.62v0.62h-0.62zM53.7 225.7h0.62v0.62h-0.62zM57.6 214.2h0.62v0.62h-0.62zM66.8 212.0h0.62v0.62h-0.62zM58.9 212.1h0.62v0.62h-0.62zM45.6 229.0h0.62v0.62h-0.62zM58.5 215.6h0.62v0.62h-0.62zM54.6 229.3h0.62v0.62h-0.62zM52.2 228.1h0.62v0.62h-0.62zM56.3 230.1h0.62v0.62h-0.62zM50.5 235.1h0.62v0.62h-0.62zM52.6 220.9h0.62v0.62h-0.62zM50.2 229.5h0.62v0.62h-0.62zM58.3 216.5h0.62v0.62h-0.62zM53.2 220.6h0.62v0.62h-0.62zM51.1 233.3h0.62v0.62h-0.62zM47.5 230.2h0.62v0.62h-0.62zM49.8 228.9h0.62v0.62h-0.62zM49.9 228.6h0.62v0.62h-0.62zM54.9 223.7h0.62v0.62h-0.62zM52.9 225.9h0.62v0.62h-0.62zM44.1 227.8h0.62v0.62h-0.62zM57.0 223.2h0.62v0.62h-0.62zM56.4 217.1h0.62v0.62h-0.62zM50.0 221.0h0.62v0.62h-0.62zM59.3 217.0h0.62v0.62h-0.62zM56.1 222.3h0.62v0.62h-0.62zM51.9 229.4h0.62v0.62h-0.62zM51.6 227.3h0.62v0.62h-0.62zM53.7 224.8h0.62v0.62h-0.62zM54.3 219.3h0.62v0.62h-0.62zM54.9 224.1h0.62v0.62h-0.62zM59.1 219.0h0.62v0.62h-0.62zM60.3 218.2h0.62v0.62h-0.62zM45.3 228.0h0.62v0.62h-0.62zM50.6 235.0h0.62v0.62h-0.62zM54.3 226.6h0.62v0.62h-0.62zM57.3 223.2h0.62v0.62h-0.62zM58.4 219.1h0.62v0.62h-0.62zM55.9 219.6h0.62v0.62h-0.62zM58.8 222.9h0.62v0.62h-0.62zM44.3 226.0h0.62v0.62h-0.62zM53.9 220.7h0.62v0.62h-0.62zM48.5 227.0h0.62v0.62h-0.62zM56.8 223.1h0.62v0.62h-0.62zM57.3 218.1h0.62v0.62h-0.62zM52.7 231.5h0.62v0.62h-0.62zM47.1 220.9h0.62v0.62h-0.62zM71.0 214.0h0.62v0.62h-0.62zM49.4 229.2h0.62v0.62h-0.62zM52.4 229.3h0.62v0.62h-0.62zM45.4 229.0h0.62v0.62h-0.62zM47.4 234.9h0.62v0.62h-0.62zM57.8 217.5h0.62v0.62h-0.62zM49.7 228.6h0.62v0.62h-0.62zM45.6 223.8h0.62v0.62h-0.62zM49.7 230.0h0.62v0.62h-0.62zM52.4 215.0h0.62v0.62h-0.62zM49.5 226.9h0.62v0.62h-0.62zM51.8 223.5h0.62v0.62h-0.62zM62.8 218.3h0.62v0.62h-0.62zM50.4 223.1h0.62v0.62h-0.62zM54.1 223.8h0.62v0.62h-0.62zM57.2 226.3h0.62v0.62h-0.62zM58.0 214.5h0.62v0.62h-0.62zM50.0 236.5h0.62v0.62h-0.62zM50.3 227.9h0.62v0.62h-0.62zM39.9 235.9h0.62v0.62h-0.62zM49.6 220.4h0.62v0.62h-0.62zM52.1 215.8h0.62v0.62h-0.62zM53.0 228.9h0.62v0.62h-0.62zM63.2 211.4h0.62v0.62h-0.62zM57.0 216.8h0.62v0.62h-0.62zM66.9 215.5h0.62v0.62h-0.62zM55.7 224.7h0.62v0.62h-0.62zM63.7 213.9h0.62v0.62h-0.62zM46.4 223.1h0.62v0.62h-0.62zM50.5 216.5h0.62v0.62h-0.62zM56.2 225.5h0.62v0.62h-0.62zM50.6 226.1h0.62v0.62h-0.62zM62.0 213.7h0.62v0.62h-0.62zM65.6 221.1h0.62v0.62h-0.62zM48.2 226.6h0.62v0.62h-0.62zM58.1 220.7h0.62v0.62h-0.62zM59.3 228.6h0.62v0.62h-0.62zM55.8 224.3h0.62v0.62h-0.62zM55.4 218.8h0.62v0.62h-0.62zM48.3 224.3h0.62v0.62h-0.62zM57.6 225.6h0.62v0.62h-0.62zM51.9 218.7h0.62v0.62h-0.62zM52.1 229.2h0.62v0.62h-0.62zM54.6 230.7h0.62v0.62h-0.62zM58.1 218.4h0.62v0.62h-0.62zM55.7 225.5h0.62v0.62h-0.62zM67.1 210.3h0.62v0.62h-0.62zM69.2 215.1h0.62v0.62h-0.62zM49.9 228.5h0.62v0.62h-0.62zM53.3 220.1h0.62v0.62h-0.62zM42.7 236.2h0.62v0.62h-0.62zM49.9 227.9h0.62v0.62h-0.62zM46.5 227.4h0.62v0.62h-0.62zM48.1 227.7h0.62v0.62h-0.62zM52.5 220.3h0.62v0.62h-0.62zM55.5 224.8h0.62v0.62h-0.62zM43.7 223.9h0.62v0.62h-0.62zM53.3 225.2h0.62v0.62h-0.62zM58.3 218.8h0.62v0.62h-0.62zM60.7 213.3h0.62v0.62h-0.62zM49.0 235.2h0.62v0.62h-0.62zM63.9 216.7h0.62v0.62h-0.62zM41.7 232.3h0.62v0.62h-0.62zM48.8 229.3h0.62v0.62h-0.62zM53.1 228.6h0.62v0.62h-0.62zM57.8 211.2h0.62v0.62h-0.62zM57.0 221.1h0.62v0.62h-0.62zM55.7 220.1h0.62v0.62h-0.62zM62.9 216.2h0.62v0.62h-0.62zM59.7 228.2h0.62v0.62h-0.62zM48.8 225.0h0.62v0.62h-0.62zM60.5 214.8h0.62v0.62h-0.62zM48.7 222.2h0.62v0.62h-0.62zM46.3 231.9h0.62v0.62h-0.62zM44.7 235.5h0.62v0.62h-0.62zM47.6 216.9h0.62v0.62h-0.62zM67.4 217.1h0.62v0.62h-0.62zM61.3 223.9h0.62v0.62h-0.62zM46.4 216.9h0.62v0.62h-0.62zM56.1 213.2h0.62v0.62h-0.62zM45.7 233.8h0.62v0.62h-0.62zM55.7 221.8h0.62v0.62h-0.62zM52.9 230.1h0.62v0.62h-0.62zM60.2 215.5h0.62v0.62h-0.62zM51.5 232.2h0.62v0.62h-0.62zM54.1 216.0h0.62v0.62h-0.62zM55.2 224.0h0.62v0.62h-0.62zM52.0 222.9h0.62v0.62h-0.62zM55.8 218.9h0.62v0.62h-0.62zM47.8 220.3h0.62v0.62h-0.62zM60.2 214.9h0.62v0.62h-0.62zM55.4 228.8h0.62v0.62h-0.62zM39.0 234.9h0.62v0.62h-0.62zM60.7 215.3h0.62v0.62h-0.62zM61.0 216.8h0.62v0.62h-0.62zM53.5 218.7h0.62v0.62h-0.62zM61.7 216.8h0.62v0.62h-0.62zM58.5 221.6h0.62v0.62h-0.62zM47.7 228.3h0.62v0.62h-0.62zM51.0 234.0h0.62v0.62h-0.62zM51.6 225.9h0.62v0.62h-0.62zM56.0 221.1h0.62v0.62h-0.62zM44.4 231.7h0.62v0.62h-0.62zM46.4 227.8h0.62v0.62h-0.62zM57.5 211.2h0.62v0.62h-0.62zM49.0 228.0h0.62v0.62h-0.62zM49.3 228.7h0.62v0.62h-0.62zM50.2 232.1h0.62v0.62h-0.62zM66.5 219.1h0.62v0.62h-0.62zM55.7 217.8h0.62v0.62h-0.62zM62.3 223.2h0.62v0.62h-0.62zM62.7 214.9h0.62v0.62h-0.62zM60.1 220.2h0.62v0.62h-0.62zM58.1 213.9h0.62v0.62h-0.62zM56.1 223.0h0.62v0.62h-0.62zM55.7 216.8h0.62v0.62h-0.62zM58.4 222.3h0.62v0.62h-0.62zM53.9 217.0h0.62v0.62h-0.62zM46.5 230.9h0.62v0.62h-0.62zM50.8 224.3h0.62v0.62h-0.62zM51.9 227.2h0.62v0.62h-0.62zM50.0 228.5h0.62v0.62h-0.62zM53.3 224.8h0.62v0.62h-0.62zM62.1 212.6h0.62v0.62h-0.62zM60.7 221.0h0.62v0.62h-0.62zM55.1 225.1h0.62v0.62h-0.62zM53.0 220.3h0.62v0.62h-0.62zM63.0 218.1h0.62v0.62h-0.62zM44.5 229.5h0.62v0.62h-0.62zM55.5 222.2h0.62v0.62h-0.62zM62.3 214.5h0.62v0.62h-0.62zM63.1 213.8h0.62v0.62h-0.62zM60.3 221.2h0.62v0.62h-0.62zM51.6 216.5h0.62v0.62h-0.62zM46.0 237.8h0.62v0.62h-0.62zM44.5 223.8h0.62v0.62h-0.62zM56.0 227.7h0.62v0.62h-0.62zM56.7 223.6h0.62v0.62h-0.62zM51.6 218.2h0.62v0.62h-0.62zM41.0 238.3h0.62v0.62h-0.62zM49.2 226.6h0.62v0.62h-0.62zM51.6 219.8h0.62v0.62h-0.62zM51.8 231.8h0.62v0.62h-0.62zM54.7 228.5h0.62v0.62h-0.62zM57.0 222.5h0.62v0.62h-0.62zM59.2 227.0h0.62v0.62h-0.62zM54.5 223.8h0.62v0.62h-0.62zM56.6 219.5h0.62v0.62h-0.62zM62.9 221.4h0.62v0.62h-0.62zM49.6 224.2h0.62v0.62h-0.62zM49.2 232.5h0.62v0.62h-0.62zM52.1 231.3h0.62v0.62h-0.62zM50.9 227.8h0.62v0.62h-0.62zM53.2 225.0h0.62v0.62h-0.62zM45.9 234.3h0.62v0.62h-0.62zM49.5 229.4h0.62v0.62h-0.62zM50.0 224.1h0.62v0.62h-0.62zM51.7 207.5h0.62v0.62h-0.62zM54.9 220.2h0.62v0.62h-0.62zM48.6 221.5h0.62v0.62h-0.62zM60.7 221.9h0.62v0.62h-0.62zM53.1 222.2h0.62v0.62h-0.62z" fill="#000" fill-opacity="0.6"/>
<path d="M74.1 195.7h0.62v0.62h-0.62zM77.5 194.6h0.62v0.62h-0.62zM80.1 197.2h0.62v0.62h-0.62zM67.1 202.8h0.62v0.62h-0.62zM88.0 195.9h0.62v0.62h-0.62zM79.1 196.4h0.62v0.62h-0.62zM77.5 198.1h0.62v0.62h-0.62zM66.8 200.8h0.62v0.62h-0.62zM87.1 196.2h0.62v0.62h-0.62zM77.5 197.4h0.62v0.62h-0.62zM80.2 194.7h0.62v0.62h-0.62zM70.4 196.6h0.62v0.62h-0.62zM85.9 194.5h0.62v0.62h-0.62zM83.1 195.9h0.62v0.62h-0.62zM71.7 196.0h0.62v0.62h-0.62zM87.4 198.4h0.62v0.62h-0.62zM65.8 201.0h0.62v0.62h-0.62zM78.7 196.0h0.62v0.62h-0.62zM77.7 198.8h0.62v0.62h-0.62zM78.6 201.9h0.62v0.62h-0.62zM68.0 199.8h0.62v0.62h-0.62zM70.3 199.3h0.62v0.62h-0.62zM79.8 198.9h0.62v0.62h-0.62zM79.6 194.3h0.62v0.62h-0.62zM72.1 197.4h0.62v0.62h-0.62zM70.5 197.3h0.62v0.62h-0.62zM69.3 200.6h0.62v0.62h-0.62zM81.2 193.3h0.62v0.62h-0.62zM71.6 199.2h0.62v0.62h-0.62zM68.5 198.3h0.62v0.62h-0.62zM59.1 200.7h0.62v0.62h-0.62zM59.8 200.0h0.62v0.62h-0.62zM65.1 202.8h0.62v0.62h-0.62zM57.8 199.8h0.62v0.62h-0.62zM68.9 196.8h0.62v0.62h-0.62zM70.2 199.5h0.62v0.62h-0.62zM65.0 198.9h0.62v0.62h-0.62zM69.3 200.1h0.62v0.62h-0.62zM71.4 198.5h0.62v0.62h-0.62zM59.8 201.2h0.62v0.62h-0.62zM77.0 197.6h0.62v0.62h-0.62zM52.2 199.4h0.62v0.62h-0.62zM84.7 191.9h0.62v0.62h-0.62zM62.6 204.4h0.62v0.62h-0.62zM71.7 196.3h0.62v0.62h-0.62zM69.7 200.0h0.62v0.62h-0.62zM74.1 195.9h0.62v0.62h-0.62zM66.7 199.4h0.62v0.62h-0.62zM75.6 197.2h0.62v0.62h-0.62zM61.7 203.5h0.62v0.62h-0.62zM77.2 197.0h0.62v0.62h-0.62zM69.4 196.1h0.62v0.62h-0.62zM74.0 195.3h0.62v0.62h-0.62zM79.2 197.6h0.62v0.62h-0.62zM64.0 201.9h0.62v0.62h-0.62zM68.6 203.1h0.62v0.62h-0.62zM67.6 203.6h0.62v0.62h-0.62zM70.7 196.0h0.62v0.62h-0.62zM73.1 198.0h0.62v0.62h-0.62zM76.5 195.2h0.62v0.62h-0.62zM73.6 198.7h0.62v0.62h-0.62zM71.2 200.2h0.62v0.62h-0.62zM75.0 194.3h0.62v0.62h-0.62zM79.4 198.6h0.62v0.62h-0.62zM79.0 198.4h0.62v0.62h-0.62zM86.4 194.9h0.62v0.62h-0.62zM67.4 198.3h0.62v0.62h-0.62zM74.2 201.3h0.62v0.62h-0.62zM62.6 200.2h0.62v0.62h-0.62zM66.8 197.5h0.62v0.62h-0.62zM76.3 197.8h0.62v0.62h-0.62zM81.1 198.6h0.62v0.62h-0.62zM68.8 200.5h0.62v0.62h-0.62zM74.5 194.2h0.62v0.62h-0.62zM72.0 195.8h0.62v0.62h-0.62zM75.4 197.0h0.62v0.62h-0.62zM73.6 198.4h0.62v0.62h-0.62zM68.8 199.5h0.62v0.62h-0.62zM56.0 199.4h0.62v0.62h-0.62zM62.0 202.4h0.62v0.62h-0.62zM74.9 198.8h0.62v0.62h-0.62zM70.8 195.7h0.62v0.62h-0.62zM86.0 193.6h0.62v0.62h-0.62zM72.3 198.2h0.62v0.62h-0.62zM77.7 194.3h0.62v0.62h-0.62z" fill="#000" fill-opacity="0.75"/>
<path d="M75.6 211.2h0.62v0.62h-0.62zM78.7 212.9h0.62v0.62h-0.62zM76.3 213.5h0.62v0.62h-0.62zM78.2 210.9h0.62v0.62h-0.62zM80.1 207.4h0.62v0.62h-0.62zM78.5 216.0h0.62v0.62h-0.62zM77.7 210.9h0.62v0.62h-0.62zM78.5 215.1h0.62v0.62h-0.62zM81.7 209.6h0.62v0.62h-0.62zM79.4 209.1h0.62v0.62h-0.62zM79.4 214.0h0.62v0.62h-0.62zM78.7 215.9h0.62v0.62h-0.62zM80.0 211.3h0.62v0.62h-0.62zM77.6 213.0h0.62v0.62h-0.62zM76.8 217.0h0.62v0.62h-0.62zM75.1 214.9h0.62v0.62h-0.62zM78.4 213.9h0.62v0.62h-0.62zM84.2 208.8h0.62v0.62h-0.62zM78.2 208.8h0.62v0.62h-0.62zM78.1 207.6h0.62v0.62h-0.62zM80.8 211.2h0.62v0.62h-0.62zM79.3 208.5h0.62v0.62h-0.62zM80.2 208.6h0.62v0.62h-0.62zM76.2 216.1h0.62v0.62h-0.62zM78.3 210.8h0.62v0.62h-0.62zM79.4 211.5h0.62v0.62h-0.62zM77.6 210.7h0.62v0.62h-0.62zM78.1 211.4h0.62v0.62h-0.62zM73.3 219.5h0.62v0.62h-0.62zM79.1 213.1h0.62v0.62h-0.62zM74.9 216.2h0.62v0.62h-0.62zM80.3 210.8h0.62v0.62h-0.62zM77.9 215.0h0.62v0.62h-0.62zM78.2 214.2h0.62v0.62h-0.62zM77.8 213.0h0.62v0.62h-0.62zM76.1 219.7h0.62v0.62h-0.62zM76.6 212.7h0.62v0.62h-0.62zM77.1 217.4h0.62v0.62h-0.62zM81.2 211.5h0.62v0.62h-0.62zM78.3 215.3h0.62v0.62h-0.62zM75.2 215.5h0.62v0.62h-0.62zM81.6 210.7h0.62v0.62h-0.62zM78.1 214.3h0.62v0.62h-0.62zM74.7 214.5h0.62v0.62h-0.62zM77.4 213.0h0.62v0.62h-0.62zM75.8 212.3h0.62v0.62h-0.62zM79.0 212.8h0.62v0.62h-0.62zM78.1 217.0h0.62v0.62h-0.62zM81.3 211.1h0.62v0.62h-0.62zM77.2 211.2h0.62v0.62h-0.62zM79.6 207.8h0.62v0.62h-0.62zM78.8 211.4h0.62v0.62h-0.62zM76.0 215.5h0.62v0.62h-0.62zM81.0 211.0h0.62v0.62h-0.62zM77.1 213.4h0.62v0.62h-0.62zM79.8 213.9h0.62v0.62h-0.62zM72.8 219.0h0.62v0.62h-0.62zM77.2 217.3h0.62v0.62h-0.62zM78.5 208.0h0.62v0.62h-0.62zM79.3 209.6h0.62v0.62h-0.62zM74.9 217.7h0.62v0.62h-0.62zM79.8 213.0h0.62v0.62h-0.62zM79.4 212.6h0.62v0.62h-0.62zM79.1 208.9h0.62v0.62h-0.62zM74.2 214.6h0.62v0.62h-0.62z" fill="#000" fill-opacity="0.85"/>
<path d="M64.8 210.4h0.62v0.62h-0.62zM59.9 205.6h0.62v0.62h-0.62zM60.7 211.8h0.62v0.62h-0.62zM65.8 211.6h0.62v0.62h-0.62zM57.2 223.7h0.62v0.62h-0.62zM72.9 210.9h0.62v0.62h-0.62zM81.4 212.8h0.62v0.62h-0.62zM58.6 217.7h0.62v0.62h-0.62zM63.0 222.4h0.62v0.62h-0.62zM77.7 204.3h0.62v0.62h-0.62zM71.5 199.7h0.62v0.62h-0.62zM60.9 218.8h0.62v0.62h-0.62zM61.9 218.2h0.62v0.62h-0.62zM54.2 227.2h0.62v0.62h-0.62zM72.4 210.6h0.62v0.62h-0.62zM68.5 211.0h0.62v0.62h-0.62zM63.1 207.5h0.62v0.62h-0.62zM84.1 194.4h0.62v0.62h-0.62zM65.9 214.4h0.62v0.62h-0.62zM67.8 215.6h0.62v0.62h-0.62zM71.6 213.7h0.62v0.62h-0.62zM66.1 214.8h0.62v0.62h-0.62zM78.1 206.9h0.62v0.62h-0.62zM70.5 219.5h0.62v0.62h-0.62zM68.2 211.8h0.62v0.62h-0.62zM83.2 193.4h0.62v0.62h-0.62zM56.0 209.3h0.62v0.62h-0.62zM56.4 220.3h0.62v0.62h-0.62zM70.1 213.4h0.62v0.62h-0.62zM59.7 214.3h0.62v0.62h-0.62zM66.7 223.0h0.62v0.62h-0.62zM64.9 206.2h0.62v0.62h-0.62zM72.1 204.0h0.62v0.62h-0.62zM53.3 222.3h0.62v0.62h-0.62zM59.8 207.4h0.62v0.62h-0.62zM52.6 231.1h0.62v0.62h-0.62zM71.1 201.8h0.62v0.62h-0.62zM52.9 213.6h0.62v0.62h-0.62zM64.5 198.8h0.62v0.62h-0.62zM84.8 203.3h0.62v0.62h-0.62zM82.3 208.1h0.62v0.62h-0.62zM65.7 204.1h0.62v0.62h-0.62zM43.8 219.2h0.62v0.62h-0.62zM80.2 196.3h0.62v0.62h-0.62zM62.4 214.6h0.62v0.62h-0.62zM70.6 203.7h0.62v0.62h-0.62zM63.6 217.5h0.62v0.62h-0.62zM59.8 208.6h0.62v0.62h-0.62zM87.5 209.9h0.62v0.62h-0.62zM53.4 225.2h0.62v0.62h-0.62zM59.5 225.2h0.62v0.62h-0.62zM61.9 212.0h0.62v0.62h-0.62zM78.6 208.8h0.62v0.62h-0.62zM51.3 237.2h0.62v0.62h-0.62zM73.8 199.6h0.62v0.62h-0.62zM63.0 215.4h0.62v0.62h-0.62zM75.7 211.6h0.62v0.62h-0.62zM89.7 195.2h0.62v0.62h-0.62zM67.1 204.4h0.62v0.62h-0.62zM73.5 202.0h0.62v0.62h-0.62zM79.9 204.9h0.62v0.62h-0.62zM64.8 215.5h0.62v0.62h-0.62zM64.7 207.9h0.62v0.62h-0.62zM65.9 214.6h0.62v0.62h-0.62zM59.3 200.2h0.62v0.62h-0.62zM63.8 214.4h0.62v0.62h-0.62zM65.4 220.0h0.62v0.62h-0.62zM64.6 220.5h0.62v0.62h-0.62zM70.8 204.5h0.62v0.62h-0.62zM55.8 222.5h0.62v0.62h-0.62zM67.8 212.2h0.62v0.62h-0.62zM77.1 201.6h0.62v0.62h-0.62zM51.1 218.0h0.62v0.62h-0.62zM45.6 217.7h0.62v0.62h-0.62zM69.2 204.2h0.62v0.62h-0.62zM54.3 211.7h0.62v0.62h-0.62zM51.4 207.0h0.62v0.62h-0.62zM75.7 212.5h0.62v0.62h-0.62zM62.5 202.5h0.62v0.62h-0.62zM57.2 213.1h0.62v0.62h-0.62z" fill="#000" fill-opacity="0.45"/>
<line x1="66.50" y1="188.90" x2="66.50" y2="241.60" stroke="#f29aa9" stroke-width="1.3"/>
<line x1="38.00" y1="206.60" x2="95.40" y2="206.60" stroke="#f29aa9" stroke-width="1.3"/>
<rect x="38.00" y="188.90" width="57.40" height="52.70" fill="none" stroke="#222" stroke-width="1.3"/>
<line x1="34.90" y1="241.58" x2="37.40" y2="241.58" stroke="#000" stroke-width="0.9"/>
<line x1="34.90" y1="240.47" x2="37.40" y2="240.47" stroke="#000" stroke-width="0.9"/>
<line x1="34.90" y1="239.56" x2="37.40" y2="239.56" stroke="#000" stroke-width="0.9"/>
<line x1="34.90" y1="238.79" x2="37.40" y2="238.79" stroke="#000" stroke-width="0.9"/>
<line x1="34.90" y1="238.13" x2="37.40" y2="238.13" stroke="#000" stroke-width="0.9"/>
<line x1="34.90" y1="237.54" x2="37.40" y2="237.54" stroke="#000" stroke-width="0.9"/>
<line x1="34.40" y1="237.02" x2="37.40" y2="237.02" stroke="#000" stroke-width="0.9"/>
<line x1="34.90" y1="233.57" x2="37.40" y2="233.57" stroke="#000" stroke-width="0.9"/>
<line x1="34.90" y1="231.55" x2="37.40" y2="231.55" stroke="#000" stroke-width="0.9"/>
<line x1="34.90" y1="230.12" x2="37.40" y2="230.12" stroke="#000" stroke-width="0.9"/>
<line x1="34.90" y1="229.01" x2="37.40" y2="229.01" stroke="#000" stroke-width="0.9"/>
<line x1="34.90" y1="228.10" x2="37.40" y2="228.10" stroke="#000" stroke-width="0.9"/>
<line x1="34.90" y1="227.34" x2="37.40" y2="227.34" stroke="#000" stroke-width="0.9"/>
<line x1="34.90" y1="226.67" x2="37.40" y2="226.67" stroke="#000" stroke-width="0.9"/>
<line x1="34.90" y1="226.09" x2="37.40" y2="226.09" stroke="#000" stroke-width="0.9"/>
<line x1="34.40" y1="225.56" x2="37.40" y2="225.56" stroke="#000" stroke-width="0.9"/>
<line x1="34.90" y1="222.11" x2="37.40" y2="222.11" stroke="#000" stroke-width="0.9"/>
<line x1="34.90" y1="220.09" x2="37.40" y2="220.09" stroke="#000" stroke-width="0.9"/>
<line x1="34.90" y1="218.66" x2="37.40" y2="218.66" stroke="#000" stroke-width="0.9"/>
<line x1="34.90" y1="217.55" x2="37.40" y2="217.55" stroke="#000" stroke-width="0.9"/>
<line x1="34.90" y1="216.65" x2="37.40" y2="216.65" stroke="#000" stroke-width="0.9"/>
<line x1="34.90" y1="215.88" x2="37.40" y2="215.88" stroke="#000" stroke-width="0.9"/>
<line x1="34.90" y1="215.21" x2="37.40" y2="215.21" stroke="#000" stroke-width="0.9"/>
<line x1="34.90" y1="214.63" x2="37.40" y2="214.63" stroke="#000" stroke-width="0.9"/>
<line x1="34.40" y1="214.10" x2="37.40" y2="214.10" stroke="#000" stroke-width="0.9"/>
<line x1="34.90" y1="210.66" x2="37.40" y2="210.66" stroke="#000" stroke-width="0.9"/>
<line x1="34.90" y1="208.64" x2="37.40" y2="208.64" stroke="#000" stroke-width="0.9"/>
<line x1="34.90" y1="207.21" x2="37.40" y2="207.21" stroke="#000" stroke-width="0.9"/>
<line x1="34.90" y1="206.10" x2="37.40" y2="206.10" stroke="#000" stroke-width="0.9"/>
<line x1="34.90" y1="205.19" x2="37.40" y2="205.19" stroke="#000" stroke-width="0.9"/>
<line x1="34.90" y1="204.42" x2="37.40" y2="204.42" stroke="#000" stroke-width="0.9"/>
<line x1="34.90" y1="203.76" x2="37.40" y2="203.76" stroke="#000" stroke-width="0.9"/>
<line x1="34.90" y1="203.17" x2="37.40" y2="203.17" stroke="#000" stroke-width="0.9"/>
<line x1="34.40" y1="202.65" x2="37.40" y2="202.65" stroke="#000" stroke-width="0.9"/>
<line x1="34.90" y1="199.20" x2="37.40" y2="199.20" stroke="#000" stroke-width="0.9"/>
<line x1="34.90" y1="197.18" x2="37.40" y2="197.18" stroke="#000" stroke-width="0.9"/>
<line x1="34.90" y1="195.75" x2="37.40" y2="195.75" stroke="#000" stroke-width="0.9"/>
<line x1="34.90" y1="194.64" x2="37.40" y2="194.64" stroke="#000" stroke-width="0.9"/>
<line x1="34.90" y1="193.73" x2="37.40" y2="193.73" stroke="#000" stroke-width="0.9"/>
<line x1="34.90" y1="192.97" x2="37.40" y2="192.97" stroke="#000" stroke-width="0.9"/>
<line x1="34.90" y1="192.30" x2="37.40" y2="192.30" stroke="#000" stroke-width="0.9"/>
<line x1="34.90" y1="191.72" x2="37.40" y2="191.72" stroke="#000" stroke-width="0.9"/>
<line x1="34.40" y1="191.19" x2="37.40" y2="191.19" stroke="#000" stroke-width="0.9"/>
<line x1="39.25" y1="242.20" x2="39.25" y2="244.70" stroke="#000" stroke-width="0.9"/>
<line x1="40.43" y1="242.20" x2="40.43" y2="244.70" stroke="#000" stroke-width="0.9"/>
<line x1="41.40" y1="242.20" x2="41.40" y2="244.70" stroke="#000" stroke-width="0.9"/>
<line x1="42.21" y1="242.20" x2="42.21" y2="244.70" stroke="#000" stroke-width="0.9"/>
<line x1="42.92" y1="242.20" x2="42.92" y2="244.70" stroke="#000" stroke-width="0.9"/>
<line x1="43.55" y1="242.20" x2="43.55" y2="244.70" stroke="#000" stroke-width="0.9"/>
<line x1="44.11" y1="242.20" x2="44.11" y2="245.20" stroke="#000" stroke-width="0.9"/>
<line x1="47.78" y1="242.20" x2="47.78" y2="244.70" stroke="#000" stroke-width="0.9"/>
<line x1="49.93" y1="242.20" x2="49.93" y2="244.70" stroke="#000" stroke-width="0.9"/>
<line x1="51.46" y1="242.20" x2="51.46" y2="244.70" stroke="#000" stroke-width="0.9"/>
<line x1="52.64" y1="242.20" x2="52.64" y2="244.70" stroke="#000" stroke-width="0.9"/>
<line x1="53.61" y1="242.20" x2="53.61" y2="244.70" stroke="#000" stroke-width="0.9"/>
<line x1="54.43" y1="242.20" x2="54.43" y2="244.70" stroke="#000" stroke-width="0.9"/>
<line x1="55.14" y1="242.20" x2="55.14" y2="244.70" stroke="#000" stroke-width="0.9"/>
<line x1="55.76" y1="242.20" x2="55.76" y2="244.70" stroke="#000" stroke-width="0.9"/>
<line x1="56.32" y1="242.20" x2="56.32" y2="245.20" stroke="#000" stroke-width="0.9"/>
<line x1="60.00" y1="242.20" x2="60.00" y2="244.70" stroke="#000" stroke-width="0.9"/>
<line x1="62.15" y1="242.20" x2="62.15" y2="244.70" stroke="#000" stroke-width="0.9"/>
<line x1="63.67" y1="242.20" x2="63.67" y2="244.70" stroke="#000" stroke-width="0.9"/>
<line x1="64.86" y1="242.20" x2="64.86" y2="244.70" stroke="#000" stroke-width="0.9"/>
<line x1="65.82" y1="242.20" x2="65.82" y2="244.70" stroke="#000" stroke-width="0.9"/>
<line x1="66.64" y1="242.20" x2="66.64" y2="244.70" stroke="#000" stroke-width="0.9"/>
<line x1="67.35" y1="242.20" x2="67.35" y2="244.70" stroke="#000" stroke-width="0.9"/>
<line x1="67.97" y1="242.20" x2="67.97" y2="244.70" stroke="#000" stroke-width="0.9"/>
<line x1="68.53" y1="242.20" x2="68.53" y2="245.20" stroke="#000" stroke-width="0.9"/>
<line x1="72.21" y1="242.20" x2="72.21" y2="244.70" stroke="#000" stroke-width="0.9"/>
<line x1="74.36" y1="242.20" x2="74.36" y2="244.70" stroke="#000" stroke-width="0.9"/>
<line x1="75.88" y1="242.20" x2="75.88" y2="244.70" stroke="#000" stroke-width="0.9"/>
<line x1="77.07" y1="242.20" x2="77.07" y2="244.70" stroke="#000" stroke-width="0.9"/>
<line x1="78.04" y1="242.20" x2="78.04" y2="244.70" stroke="#000" stroke-width="0.9"/>
<line x1="78.85" y1="242.20" x2="78.85" y2="244.70" stroke="#000" stroke-width="0.9"/>
<line x1="79.56" y1="242.20" x2="79.56" y2="244.70" stroke="#000" stroke-width="0.9"/>
<line x1="80.19" y1="242.20" x2="80.19" y2="244.70" stroke="#000" stroke-width="0.9"/>
<line x1="80.74" y1="242.20" x2="80.74" y2="245.20" stroke="#000" stroke-width="0.9"/>
<line x1="84.42" y1="242.20" x2="84.42" y2="244.70" stroke="#000" stroke-width="0.9"/>
<line x1="86.57" y1="242.20" x2="86.57" y2="244.70" stroke="#000" stroke-width="0.9"/>
<line x1="88.10" y1="242.20" x2="88.10" y2="244.70" stroke="#000" stroke-width="0.9"/>
<line x1="89.28" y1="242.20" x2="89.28" y2="244.70" stroke="#000" stroke-width="0.9"/>
<line x1="90.25" y1="242.20" x2="90.25" y2="244.70" stroke="#000" stroke-width="0.9"/>
<line x1="91.07" y1="242.20" x2="91.07" y2="244.70" stroke="#000" stroke-width="0.9"/>
<line x1="91.77" y1="242.20" x2="91.77" y2="244.70" stroke="#000" stroke-width="0.9"/>
<line x1="92.40" y1="242.20" x2="92.40" y2="244.70" stroke="#000" stroke-width="0.9"/>
<line x1="92.96" y1="242.20" x2="92.96" y2="245.20" stroke="#000" stroke-width="0.9"/>
<text x="39.10" y="194.70" font-size="6.1" textLength="11.68" lengthAdjust="spacingAndGlyphs" transform="rotate(0.05 39.10 194.70)" fill="#1e1e1e">0.8%</text>
<text x="81.18" y="194.70" font-size="6.1" textLength="11.60" lengthAdjust="spacingAndGlyphs" transform="rotate(0.05 81.18 194.70)" fill="#1e1e1e">4.8%</text>
<text x="79.69" y="239.60" font-size="6.1" textLength="11.89" lengthAdjust="spacingAndGlyphs" transform="rotate(0.05 79.69 239.60)" fill="#1e1e1e">5.5%</text>
<text x="32.40" y="192.3" font-size="7.2" text-anchor="end" fill="#1e1e1e" transform="rotate(0.05 32.40 192.3)">10<tspan font-size="5.0" dy="-2.8">7.2</tspan></text>
<text x="32.40" y="207.6" font-size="7.2" text-anchor="end" fill="#1e1e1e" transform="rotate(0.05 32.40 207.6)">10<tspan font-size="5.0" dy="-2.8">6</tspan></text>
<text x="32.40" y="218.8" font-size="7.2" text-anchor="end" fill="#1e1e1e" transform="rotate(0.05 32.40 218.8)">10<tspan font-size="5.0" dy="-2.8">5</tspan></text>
<text x="32.40" y="230.0" font-size="7.2" text-anchor="end" fill="#1e1e1e" transform="rotate(0.05 32.40 230.0)">10<tspan font-size="5.0" dy="-2.8">4</tspan></text>
<text x="32.40" y="245.2" font-size="7.2" text-anchor="end" fill="#1e1e1e" transform="rotate(0.05 32.40 245.2)">10<tspan font-size="5.0" dy="-2.8">2.6</tspan></text>
<text x="31.10" y="256.1" font-size="7.0" fill="#1e1e1e" transform="rotate(0.05 31.10 256.1)">10<tspan font-size="4.9" dy="-3.5">2.5</tspan></text>
<text x="51.20" y="256.1" font-size="7.0" fill="#1e1e1e" transform="rotate(0.05 51.20 256.1)">10<tspan font-size="4.9" dy="-3.5">4</tspan></text>
<text x="63.40" y="256.1" font-size="7.0" fill="#1e1e1e" transform="rotate(0.05 63.40 256.1)">10<tspan font-size="4.9" dy="-3.5">5</tspan></text>
<text x="76.00" y="256.1" font-size="7.0" fill="#1e1e1e" transform="rotate(0.05 76.00 256.1)">10<tspan font-size="4.9" dy="-3.5">6</tspan></text>
<text x="88.20" y="256.1" font-size="7.0" fill="#1e1e1e" transform="rotate(0.05 88.20 256.1)">10<tspan font-size="4.9" dy="-3.5">7.2</tspan></text>
<text x="131.78" y="175.20" font-size="8.6" textLength="54.03" lengthAdjust="spacingAndGlyphs" transform="rotate(0.05 131.78 175.20)" fill="#1e1e1e">AURKA-siRNA</text>
<text x="130.69" y="187.00" font-size="6.9" textLength="24.61" lengthAdjust="spacingAndGlyphs" transform="rotate(0.05 130.69 187.00)" fill="#1e1e1e">Gate: R1</text>
<path d="M138.8 225.5h0.62v0.62h-0.62zM137.3 232.2h0.62v0.62h-0.62zM148.5 227.1h0.62v0.62h-0.62zM140.2 234.6h0.62v0.62h-0.62zM152.9 220.8h0.62v0.62h-0.62zM138.9 231.5h0.62v0.62h-0.62zM141.6 229.6h0.62v0.62h-0.62zM142.3 225.8h0.62v0.62h-0.62zM147.0 229.5h0.62v0.62h-0.62zM142.6 224.9h0.62v0.62h-0.62zM144.8 218.7h0.62v0.62h-0.62zM147.6 219.1h0.62v0.62h-0.62zM154.2 217.2h0.62v0.62h-0.62zM139.3 228.8h0.62v0.62h-0.62zM148.6 220.4h0.62v0.62h-0.62zM144.3 219.3h0.62v0.62h-0.62zM142.4 224.5h0.62v0.62h-0.62zM137.6 227.6h0.62v0.62h-0.62zM151.0 212.4h0.62v0.62h-0.62zM148.5 218.8h0.62v0.62h-0.62zM139.6 232.6h0.62v0.62h-0.62zM153.8 221.0h0.62v0.62h-0.62zM147.5 223.1h0.62v0.62h-0.62zM143.5 221.4h0.62v0.62h-0.62zM145.4 219.0h0.62v0.62h-0.62zM139.7 224.2h0.62v0.62h-0.62zM144.0 224.5h0.62v0.62h-0.62zM146.2 218.6h0.62v0.62h-0.62zM140.2 228.6h0.62v0.62h-0.62zM137.7 228.0h0.62v0.62h-0.62zM141.8 233.8h0.62v0.62h-0.62zM146.7 220.5h0.62v0.62h-0.62zM142.4 229.8h0.62v0.62h-0.62zM142.9 225.2h0.62v0.62h-0.62zM147.3 230.0h0.62v0.62h-0.62zM143.9 219.5h0.62v0.62h-0.62zM147.0 223.7h0.62v0.62h-0.62zM144.5 230.0h0.62v0.62h-0.62zM149.6 218.5h0.62v0.62h-0.62zM148.1 224.2h0.62v0.62h-0.62zM145.9 222.9h0.62v0.62h-0.62zM145.4 228.1h0.62v0.62h-0.62zM143.5 225.8h0.62v0.62h-0.62zM147.3 228.4h0.62v0.62h-0.62zM141.8 221.9h0.62v0.62h-0.62zM147.8 224.0h0.62v0.62h-0.62zM145.3 221.9h0.62v0.62h-0.62zM143.1 224.9h0.62v0.62h-0.62zM145.5 226.0h0.62v0.62h-0.62zM146.0 220.6h0.62v0.62h-0.62zM147.7 218.5h0.62v0.62h-0.62zM150.3 220.3h0.62v0.62h-0.62zM142.5 222.8h0.62v0.62h-0.62zM139.8 229.4h0.62v0.62h-0.62zM147.3 225.5h0.62v0.62h-0.62zM143.7 222.5h0.62v0.62h-0.62zM147.4 226.2h0.62v0.62h-0.62zM144.5 220.6h0.62v0.62h-0.62zM143.5 227.0h0.62v0.62h-0.62zM145.3 224.2h0.62v0.62h-0.62zM133.9 231.9h0.62v0.62h-0.62zM152.4 218.4h0.62v0.62h-0.62zM142.0 222.0h0.62v0.62h-0.62zM146.3 228.1h0.62v0.62h-0.62zM149.5 224.8h0.62v0.62h-0.62zM142.5 224.5h0.62v0.62h-0.62zM142.2 227.6h0.62v0.62h-0.62zM147.2 220.7h0.62v0.62h-0.62zM142.0 221.9h0.62v0.62h-0.62zM140.6 225.9h0.62v0.62h-0.62zM146.9 221.5h0.62v0.62h-0.62zM146.1 222.6h0.62v0.62h-0.62zM148.3 224.9h0.62v0.62h-0.62zM142.6 225.0h0.62v0.62h-0.62zM147.3 219.1h0.62v0.62h-0.62zM142.8 229.4h0.62v0.62h-0.62zM149.0 222.3h0.62v0.62h-0.62zM149.5 217.8h0.62v0.62h-0.62zM141.8 228.7h0.62v0.62h-0.62zM144.3 222.6h0.62v0.62h-0.62zM138.0 231.7h0.62v0.62h-0.62zM140.6 220.9h0.62v0.62h-0.62zM135.2 228.8h0.62v0.62h-0.62zM141.6 231.5h0.62v0.62h-0.62zM144.0 222.7h0.62v0.62h-0.62zM146.2 218.3h0.62v0.62h-0.62zM147.3 223.3h0.62v0.62h-0.62zM147.8 228.8h0.62v0.62h-0.62zM143.8 229.5h0.62v0.62h-0.62zM145.5 225.2h0.62v0.62h-0.62zM153.1 214.5h0.62v0.62h-0.62zM153.1 221.7h0.62v0.62h-0.62zM143.3 233.0h0.62v0.62h-0.62zM142.6 228.0h0.62v0.62h-0.62zM139.0 230.1h0.62v0.62h-0.62zM146.8 222.5h0.62v0.62h-0.62zM144.7 226.8h0.62v0.62h-0.62zM139.0 230.9h0.62v0.62h-0.62zM143.1 224.6h0.62v0.62h-0.62zM141.8 225.7h0.62v0.62h-0.62zM138.1 226.7h0.62v0.62h-0.62zM142.9 225.7h0.62v0.62h-0.62zM148.2 221.5h0.62v0.62h-0.62zM138.8 226.4h0.62v0.62h-0.62zM141.6 224.7h0.62v0.62h-0.62zM141.4 232.1h0.62v0.62h-0.62zM141.5 225.0h0.62v0.62h-0.62zM150.0 219.5h0.62v0.62h-0.62zM144.3 220.5h0.62v0.62h-0.62zM138.2 224.3h0.62v0.62h-0.62zM143.1 227.6h0.62v0.62h-0.62zM150.1 220.2h0.62v0.62h-0.62zM144.4 225.4h0.62v0.62h-0.62zM142.6 226.5h0.62v0.62h-0.62zM151.3 222.0h0.62v0.62h-0.62zM142.5 225.6h0.62v0.62h-0.62zM140.4 226.1h0.62v0.62h-0.62zM146.4 223.0h0.62v0.62h-0.62zM142.0 231.4h0.62v0.62h-0.62zM143.7 226.6h0.62v0.62h-0.62zM143.8 229.2h0.62v0.62h-0.62zM148.1 226.1h0.62v0.62h-0.62zM142.7 223.4h0.62v0.62h-0.62zM150.8 216.3h0.62v0.62h-0.62zM146.5 220.9h0.62v0.62h-0.62zM145.9 225.0h0.62v0.62h-0.62zM143.6 219.1h0.62v0.62h-0.62zM145.8 226.6h0.62v0.62h-0.62zM142.9 220.8h0.62v0.62h-0.62zM147.5 222.2h0.62v0.62h-0.62zM145.7 221.6h0.62v0.62h-0.62zM148.7 217.4h0.62v0.62h-0.62zM147.7 222.6h0.62v0.62h-0.62zM139.8 225.0h0.62v0.62h-0.62zM146.7 223.9h0.62v0.62h-0.62zM140.1 228.2h0.62v0.62h-0.62zM149.1 213.4h0.62v0.62h-0.62zM140.0 233.4h0.62v0.62h-0.62zM141.9 222.6h0.62v0.62h-0.62zM147.6 222.9h0.62v0.62h-0.62zM140.6 227.3h0.62v0.62h-0.62zM142.4 225.2h0.62v0.62h-0.62zM150.8 222.0h0.62v0.62h-0.62zM140.9 229.6h0.62v0.62h-0.62zM147.4 219.9h0.62v0.62h-0.62zM145.5 226.5h0.62v0.62h-0.62zM142.4 224.9h0.62v0.62h-0.62zM154.5 218.4h0.62v0.62h-0.62zM146.1 219.9h0.62v0.62h-0.62zM147.0 223.3h0.62v0.62h-0.62zM142.6 224.2h0.62v0.62h-0.62zM146.6 224.5h0.62v0.62h-0.62zM142.3 223.4h0.62v0.62h-0.62zM150.8 216.3h0.62v0.62h-0.62zM146.7 224.4h0.62v0.62h-0.62zM139.5 225.0h0.62v0.62h-0.62zM142.5 225.9h0.62v0.62h-0.62zM146.8 223.0h0.62v0.62h-0.62zM139.8 227.8h0.62v0.62h-0.62zM141.2 226.6h0.62v0.62h-0.62zM140.2 231.8h0.62v0.62h-0.62zM138.1 235.0h0.62v0.62h-0.62zM149.5 212.0h0.62v0.62h-0.62zM142.1 223.5h0.62v0.62h-0.62zM145.7 212.4h0.62v0.62h-0.62zM146.4 221.5h0.62v0.62h-0.62zM146.7 223.7h0.62v0.62h-0.62zM139.0 227.1h0.62v0.62h-0.62zM142.1 222.1h0.62v0.62h-0.62zM145.9 223.9h0.62v0.62h-0.62zM140.4 226.8h0.62v0.62h-0.62zM150.9 224.2h0.62v0.62h-0.62zM151.6 221.1h0.62v0.62h-0.62zM142.6 218.9h0.62v0.62h-0.62zM146.6 224.0h0.62v0.62h-0.62zM139.8 232.0h0.62v0.62h-0.62zM155.6 213.4h0.62v0.62h-0.62zM147.1 220.6h0.62v0.62h-0.62zM137.6 226.4h0.62v0.62h-0.62zM140.7 228.8h0.62v0.62h-0.62zM141.2 225.8h0.62v0.62h-0.62zM144.5 230.9h0.62v0.62h-0.62zM145.8 224.6h0.62v0.62h-0.62zM143.9 229.5h0.62v0.62h-0.62zM143.0 221.6h0.62v0.62h-0.62zM142.9 225.7h0.62v0.62h-0.62zM143.1 224.6h0.62v0.62h-0.62zM138.6 227.4h0.62v0.62h-0.62zM144.2 222.3h0.62v0.62h-0.62zM142.4 220.2h0.62v0.62h-0.62zM141.8 227.4h0.62v0.62h-0.62zM136.9 229.2h0.62v0.62h-0.62zM144.8 223.8h0.62v0.62h-0.62zM138.8 231.9h0.62v0.62h-0.62zM141.1 226.7h0.62v0.62h-0.62zM144.6 220.7h0.62v0.62h-0.62zM150.3 219.9h0.62v0.62h-0.62zM144.8 226.3h0.62v0.62h-0.62zM144.5 221.6h0.62v0.62h-0.62zM150.8 220.1h0.62v0.62h-0.62zM135.5 224.0h0.62v0.62h-0.62zM143.0 225.9h0.62v0.62h-0.62zM146.2 223.4h0.62v0.62h-0.62zM148.8 218.3h0.62v0.62h-0.62zM136.9 226.2h0.62v0.62h-0.62zM140.0 228.9h0.62v0.62h-0.62zM149.5 221.4h0.62v0.62h-0.62zM149.0 219.4h0.62v0.62h-0.62zM139.5 224.5h0.62v0.62h-0.62zM144.6 223.8h0.62v0.62h-0.62zM151.0 222.8h0.62v0.62h-0.62zM146.0 227.0h0.62v0.62h-0.62zM140.5 234.4h0.62v0.62h-0.62zM144.9 223.1h0.62v0.62h-0.62zM149.1 221.4h0.62v0.62h-0.62zM139.8 229.4h0.62v0.62h-0.62zM148.7 218.6h0.62v0.62h-0.62zM141.2 223.8h0.62v0.62h-0.62zM138.1 231.7h0.62v0.62h-0.62zM147.0 225.0h0.62v0.62h-0.62zM139.2 230.8h0.62v0.62h-0.62zM145.6 215.5h0.62v0.62h-0.62zM147.2 223.1h0.62v0.62h-0.62zM148.5 215.0h0.62v0.62h-0.62zM139.5 232.1h0.62v0.62h-0.62zM143.3 222.4h0.62v0.62h-0.62zM152.4 220.7h0.62v0.62h-0.62zM148.2 218.9h0.62v0.62h-0.62zM148.6 223.3h0.62v0.62h-0.62zM143.0 220.4h0.62v0.62h-0.62zM146.3 221.2h0.62v0.62h-0.62zM148.2 220.2h0.62v0.62h-0.62zM148.0 214.4h0.62v0.62h-0.62zM137.1 230.7h0.62v0.62h-0.62zM139.7 227.6h0.62v0.62h-0.62zM142.5 226.8h0.62v0.62h-0.62zM145.2 223.5h0.62v0.62h-0.62zM142.5 220.0h0.62v0.62h-0.62zM145.3 227.6h0.62v0.62h-0.62zM145.3 225.6h0.62v0.62h-0.62zM145.9 220.1h0.62v0.62h-0.62zM150.4 220.8h0.62v0.62h-0.62zM141.1 227.2h0.62v0.62h-0.62zM142.3 224.4h0.62v0.62h-0.62zM142.0 221.9h0.62v0.62h-0.62zM148.1 209.6h0.62v0.62h-0.62zM142.5 227.5h0.62v0.62h-0.62zM147.6 224.8h0.62v0.62h-0.62zM145.7 225.1h0.62v0.62h-0.62zM144.0 227.1h0.62v0.62h-0.62zM151.3 223.5h0.62v0.62h-0.62zM141.2 222.3h0.62v0.62h-0.62zM144.0 227.5h0.62v0.62h-0.62zM148.4 227.3h0.62v0.62h-0.62zM145.0 223.0h0.62v0.62h-0.62zM145.8 230.2h0.62v0.62h-0.62zM141.2 227.0h0.62v0.62h-0.62zM147.2 218.8h0.62v0.62h-0.62zM138.7 223.8h0.62v0.62h-0.62zM148.7 221.6h0.62v0.62h-0.62zM145.4 226.5h0.62v0.62h-0.62zM142.5 229.0h0.62v0.62h-0.62zM140.8 229.7h0.62v0.62h-0.62zM139.8 232.9h0.62v0.62h-0.62zM146.4 221.5h0.62v0.62h-0.62zM143.3 219.2h0.62v0.62h-0.62zM143.4 226.9h0.62v0.62h-0.62zM141.6 230.1h0.62v0.62h-0.62zM147.6 231.5h0.62v0.62h-0.62zM143.9 223.5h0.62v0.62h-0.62zM148.9 219.8h0.62v0.62h-0.62zM138.6 224.7h0.62v0.62h-0.62zM134.9 229.0h0.62v0.62h-0.62zM142.7 222.1h0.62v0.62h-0.62zM145.7 228.7h0.62v0.62h-0.62zM141.4 228.6h0.62v0.62h-0.62zM137.7 232.8h0.62v0.62h-0.62zM145.1 221.7h0.62v0.62h-0.62zM149.5 219.4h0.62v0.62h-0.62zM142.1 230.6h0.62v0.62h-0.62zM139.9 232.2h0.62v0.62h-0.62zM141.9 227.2h0.62v0.62h-0.62zM143.3 226.5h0.62v0.62h-0.62zM146.6 223.4h0.62v0.62h-0.62zM145.6 225.8h0.62v0.62h-0.62zM138.7 232.8h0.62v0.62h-0.62zM144.4 223.5h0.62v0.62h-0.62zM142.3 221.6h0.62v0.62h-0.62zM142.3 227.5h0.62v0.62h-0.62zM145.0 223.9h0.62v0.62h-0.62zM138.9 230.6h0.62v0.62h-0.62zM141.8 225.9h0.62v0.62h-0.62zM136.8 229.0h0.62v0.62h-0.62zM145.8 226.8h0.62v0.62h-0.62zM145.2 220.8h0.62v0.62h-0.62zM136.8 233.2h0.62v0.62h-0.62zM143.0 224.2h0.62v0.62h-0.62zM143.9 219.9h0.62v0.62h-0.62zM145.9 225.1h0.62v0.62h-0.62zM146.5 215.8h0.62v0.62h-0.62zM143.5 225.2h0.62v0.62h-0.62zM150.6 215.2h0.62v0.62h-0.62zM144.2 224.5h0.62v0.62h-0.62zM137.6 228.4h0.62v0.62h-0.62zM145.3 227.1h0.62v0.62h-0.62zM143.9 229.8h0.62v0.62h-0.62zM149.4 220.9h0.62v0.62h-0.62zM148.6 217.2h0.62v0.62h-0.62zM147.3 215.5h0.62v0.62h-0.62zM150.5 224.8h0.62v0.62h-0.62zM139.7 222.1h0.62v0.62h-0.62zM139.6 225.2h0.62v0.62h-0.62zM140.7 230.0h0.62v0.62h-0.62zM147.3 222.7h0.62v0.62h-0.62zM137.3 228.1h0.62v0.62h-0.62zM144.0 226.5h0.62v0.62h-0.62zM142.1 221.5h0.62v0.62h-0.62zM146.9 224.0h0.62v0.62h-0.62zM139.9 231.2h0.62v0.62h-0.62zM139.6 229.9h0.62v0.62h-0.62zM142.0 231.4h0.62v0.62h-0.62zM147.7 221.7h0.62v0.62h-0.62zM135.6 225.7h0.62v0.62h-0.62zM142.4 229.8h0.62v0.62h-0.62zM146.7 222.7h0.62v0.62h-0.62zM149.2 222.4h0.62v0.62h-0.62zM150.3 216.5h0.62v0.62h-0.62zM145.6 226.0h0.62v0.62h-0.62zM146.8 220.2h0.62v0.62h-0.62zM138.8 232.8h0.62v0.62h-0.62zM148.2 223.5h0.62v0.62h-0.62zM146.2 220.2h0.62v0.62h-0.62zM146.5 219.6h0.62v0.62h-0.62zM142.7 226.7h0.62v0.62h-0.62zM150.9 219.9h0.62v0.62h-0.62zM150.8 218.3h0.62v0.62h-0.62zM144.8 224.7h0.62v0.62h-0.62zM145.9 225.4h0.62v0.62h-0.62zM144.0 226.5h0.62v0.62h-0.62zM141.4 224.1h0.62v0.62h-0.62zM147.0 226.7h0.62v0.62h-0.62zM142.4 231.9h0.62v0.62h-0.62zM141.7 232.0h0.62v0.62h-0.62zM140.2 223.0h0.62v0.62h-0.62zM144.9 228.7h0.62v0.62h-0.62zM145.7 218.8h0.62v0.62h-0.62zM143.6 225.5h0.62v0.62h-0.62zM140.6 228.3h0.62v0.62h-0.62zM141.2 234.7h0.62v0.62h-0.62zM145.0 227.5h0.62v0.62h-0.62zM140.6 229.0h0.62v0.62h-0.62zM139.0 232.9h0.62v0.62h-0.62zM149.9 215.6h0.62v0.62h-0.62zM135.6 230.9h0.62v0.62h-0.62zM151.5 218.6h0.62v0.62h-0.62zM156.7 212.9h0.62v0.62h-0.62zM144.9 224.1h0.62v0.62h-0.62zM145.9 228.9h0.62v0.62h-0.62zM150.3 224.5h0.62v0.62h-0.62zM140.5 227.5h0.62v0.62h-0.62zM145.7 224.1h0.62v0.62h-0.62zM148.2 222.1h0.62v0.62h-0.62zM136.5 226.7h0.62v0.62h-0.62zM152.2 219.9h0.62v0.62h-0.62zM146.8 225.8h0.62v0.62h-0.62zM146.4 223.9h0.62v0.62h-0.62zM149.2 218.9h0.62v0.62h-0.62zM139.0 229.8h0.62v0.62h-0.62zM142.9 232.0h0.62v0.62h-0.62zM144.5 222.3h0.62v0.62h-0.62zM146.8 223.6h0.62v0.62h-0.62zM143.7 225.4h0.62v0.62h-0.62zM146.8 227.0h0.62v0.62h-0.62zM146.6 227.9h0.62v0.62h-0.62zM141.5 228.8h0.62v0.62h-0.62zM140.1 230.1h0.62v0.62h-0.62zM139.7 225.7h0.62v0.62h-0.62zM143.1 222.4h0.62v0.62h-0.62zM146.8 223.3h0.62v0.62h-0.62zM141.0 230.5h0.62v0.62h-0.62zM150.7 217.3h0.62v0.62h-0.62zM150.5 212.8h0.62v0.62h-0.62zM143.4 222.1h0.62v0.62h-0.62zM136.2 223.2h0.62v0.62h-0.62zM143.5 224.9h0.62v0.62h-0.62zM142.3 217.0h0.62v0.62h-0.62zM140.3 221.7h0.62v0.62h-0.62zM149.0 214.8h0.62v0.62h-0.62zM145.1 227.0h0.62v0.62h-0.62zM145.2 218.4h0.62v0.62h-0.62zM147.0 223.3h0.62v0.62h-0.62zM155.8 217.9h0.62v0.62h-0.62zM147.0 223.6h0.62v0.62h-0.62zM146.9 223.1h0.62v0.62h-0.62zM138.9 225.8h0.62v0.62h-0.62zM142.6 224.7h0.62v0.62h-0.62zM136.3 227.0h0.62v0.62h-0.62zM156.6 211.7h0.62v0.62h-0.62zM145.4 224.8h0.62v0.62h-0.62zM146.2 227.3h0.62v0.62h-0.62zM144.4 224.1h0.62v0.62h-0.62zM146.2 223.0h0.62v0.62h-0.62zM144.5 220.4h0.62v0.62h-0.62zM138.8 232.3h0.62v0.62h-0.62zM151.0 220.8h0.62v0.62h-0.62zM145.4 224.7h0.62v0.62h-0.62zM145.6 225.7h0.62v0.62h-0.62zM150.8 216.8h0.62v0.62h-0.62zM146.2 223.8h0.62v0.62h-0.62zM141.8 227.7h0.62v0.62h-0.62zM139.7 226.5h0.62v0.62h-0.62zM147.0 220.8h0.62v0.62h-0.62zM146.0 225.2h0.62v0.62h-0.62zM145.5 224.2h0.62v0.62h-0.62zM139.7 229.5h0.62v0.62h-0.62zM143.3 222.2h0.62v0.62h-0.62zM143.0 227.9h0.62v0.62h-0.62zM140.6 226.8h0.62v0.62h-0.62zM148.5 218.6h0.62v0.62h-0.62zM146.6 224.1h0.62v0.62h-0.62zM145.5 227.2h0.62v0.62h-0.62zM146.8 219.2h0.62v0.62h-0.62zM150.3 215.8h0.62v0.62h-0.62zM140.5 231.8h0.62v0.62h-0.62zM147.2 219.9h0.62v0.62h-0.62zM148.6 226.0h0.62v0.62h-0.62zM146.0 226.2h0.62v0.62h-0.62zM149.5 218.5h0.62v0.62h-0.62zM145.3 219.0h0.62v0.62h-0.62zM144.4 227.5h0.62v0.62h-0.62zM149.2 219.3h0.62v0.62h-0.62zM140.9 222.7h0.62v0.62h-0.62zM142.7 222.9h0.62v0.62h-0.62zM139.4 229.5h0.62v0.62h-0.62zM145.8 225.2h0.62v0.62h-0.62zM142.7 218.6h0.62v0.62h-0.62zM143.0 225.4h0.62v0.62h-0.62zM144.7 224.3h0.62v0.62h-0.62zM153.1 222.4h0.62v0.62h-0.62zM144.3 225.3h0.62v0.62h-0.62zM142.5 227.2h0.62v0.62h-0.62zM150.3 217.0h0.62v0.62h-0.62zM142.5 227.7h0.62v0.62h-0.62zM137.1 235.2h0.62v0.62h-0.62zM139.4 229.3h0.62v0.62h-0.62zM144.3 226.1h0.62v0.62h-0.62zM143.6 232.3h0.62v0.62h-0.62zM139.8 228.7h0.62v0.62h-0.62zM143.7 227.3h0.62v0.62h-0.62zM147.3 228.1h0.62v0.62h-0.62zM142.0 224.1h0.62v0.62h-0.62zM144.2 224.3h0.62v0.62h-0.62zM146.9 218.7h0.62v0.62h-0.62zM157.6 211.8h0.62v0.62h-0.62zM150.6 221.0h0.62v0.62h-0.62zM147.6 222.2h0.62v0.62h-0.62zM141.9 227.1h0.62v0.62h-0.62zM144.5 223.7h0.62v0.62h-0.62zM141.0 229.0h0.62v0.62h-0.62zM146.4 226.1h0.62v0.62h-0.62zM141.3 229.5h0.62v0.62h-0.62zM151.1 222.1h0.62v0.62h-0.62zM155.6 218.7h0.62v0.62h-0.62zM147.3 219.8h0.62v0.62h-0.62zM157.0 215.8h0.62v0.62h-0.62zM143.0 231.1h0.62v0.62h-0.62zM147.5 220.5h0.62v0.62h-0.62zM139.7 221.1h0.62v0.62h-0.62zM143.2 222.0h0.62v0.62h-0.62zM142.1 230.0h0.62v0.62h-0.62zM140.7 221.5h0.62v0.62h-0.62zM146.6 226.8h0.62v0.62h-0.62zM140.3 225.8h0.62v0.62h-0.62zM148.9 219.9h0.62v0.62h-0.62zM145.8 220.0h0.62v0.62h-0.62zM147.8 218.6h0.62v0.62h-0.62zM143.0 226.8h0.62v0.62h-0.62zM139.8 225.1h0.62v0.62h-0.62zM139.8 228.7h0.62v0.62h-0.62zM146.3 219.9h0.62v0.62h-0.62zM149.2 221.3h0.62v0.62h-0.62zM142.3 222.7h0.62v0.62h-0.62zM145.8 230.5h0.62v0.62h-0.62zM148.0 226.6h0.62v0.62h-0.62zM143.8 220.2h0.62v0.62h-0.62zM143.8 220.0h0.62v0.62h-0.62zM142.5 224.4h0.62v0.62h-0.62zM149.0 220.1h0.62v0.62h-0.62zM150.1 219.7h0.62v0.62h-0.62zM142.5 229.0h0.62v0.62h-0.62zM147.1 224.2h0.62v0.62h-0.62zM144.5 223.8h0.62v0.62h-0.62zM137.6 227.8h0.62v0.62h-0.62zM140.6 225.1h0.62v0.62h-0.62zM144.6 222.5h0.62v0.62h-0.62zM147.1 217.9h0.62v0.62h-0.62zM146.5 231.0h0.62v0.62h-0.62zM142.2 225.1h0.62v0.62h-0.62zM146.0 227.1h0.62v0.62h-0.62zM144.4 227.2h0.62v0.62h-0.62zM137.8 228.9h0.62v0.62h-0.62zM144.8 218.6h0.62v0.62h-0.62zM143.0 224.7h0.62v0.62h-0.62zM146.6 222.9h0.62v0.62h-0.62zM146.2 220.8h0.62v0.62h-0.62zM145.0 227.8h0.62v0.62h-0.62zM139.8 227.3h0.62v0.62h-0.62zM140.8 226.2h0.62v0.62h-0.62zM143.2 226.9h0.62v0.62h-0.62zM145.3 230.9h0.62v0.62h-0.62zM144.9 226.9h0.62v0.62h-0.62zM142.9 233.2h0.62v0.62h-0.62zM142.0 225.5h0.62v0.62h-0.62zM144.5 228.6h0.62v0.62h-0.62zM146.3 224.1h0.62v0.62h-0.62zM151.0 226.2h0.62v0.62h-0.62zM150.2 216.2h0.62v0.62h-0.62zM149.2 219.8h0.62v0.62h-0.62zM145.5 220.2h0.62v0.62h-0.62zM142.5 222.5h0.62v0.62h-0.62zM146.4 225.3h0.62v0.62h-0.62zM147.1 223.7h0.62v0.62h-0.62zM142.2 223.7h0.62v0.62h-0.62zM146.8 225.7h0.62v0.62h-0.62zM141.7 227.8h0.62v0.62h-0.62zM146.2 222.8h0.62v0.62h-0.62zM145.3 231.2h0.62v0.62h-0.62zM144.8 227.7h0.62v0.62h-0.62zM145.2 228.5h0.62v0.62h-0.62zM156.8 216.3h0.62v0.62h-0.62zM146.1 224.5h0.62v0.62h-0.62zM147.9 220.0h0.62v0.62h-0.62zM143.5 232.0h0.62v0.62h-0.62zM150.4 224.8h0.62v0.62h-0.62zM141.2 223.3h0.62v0.62h-0.62zM146.7 219.2h0.62v0.62h-0.62zM142.2 224.8h0.62v0.62h-0.62zM139.5 228.0h0.62v0.62h-0.62zM150.2 223.4h0.62v0.62h-0.62zM144.7 223.8h0.62v0.62h-0.62zM140.1 229.6h0.62v0.62h-0.62zM145.2 225.3h0.62v0.62h-0.62zM143.0 229.4h0.62v0.62h-0.62zM147.6 221.6h0.62v0.62h-0.62zM146.1 224.8h0.62v0.62h-0.62zM143.7 220.8h0.62v0.62h-0.62zM142.0 228.6h0.62v0.62h-0.62zM148.2 217.6h0.62v0.62h-0.62zM143.0 226.8h0.62v0.62h-0.62zM148.6 225.3h0.62v0.62h-0.62zM145.0 226.1h0.62v0.62h-0.62zM145.2 224.0h0.62v0.62h-0.62zM143.3 231.6h0.62v0.62h-0.62zM148.8 227.0h0.62v0.62h-0.62zM147.6 223.7h0.62v0.62h-0.62zM139.3 228.6h0.62v0.62h-0.62zM151.5 222.5h0.62v0.62h-0.62zM141.7 228.7h0.62v0.62h-0.62zM141.4 225.3h0.62v0.62h-0.62zM143.8 227.8h0.62v0.62h-0.62zM147.7 218.4h0.62v0.62h-0.62zM142.0 225.5h0.62v0.62h-0.62zM141.1 224.2h0.62v0.62h-0.62zM144.0 221.2h0.62v0.62h-0.62zM146.5 224.6h0.62v0.62h-0.62zM143.9 215.3h0.62v0.62h-0.62zM144.3 226.8h0.62v0.62h-0.62zM144.1 227.9h0.62v0.62h-0.62zM143.2 228.5h0.62v0.62h-0.62zM141.7 227.3h0.62v0.62h-0.62zM144.8 219.2h0.62v0.62h-0.62zM146.3 221.9h0.62v0.62h-0.62zM144.6 226.5h0.62v0.62h-0.62zM146.6 226.8h0.62v0.62h-0.62zM137.0 233.4h0.62v0.62h-0.62zM143.7 217.5h0.62v0.62h-0.62zM144.7 221.0h0.62v0.62h-0.62zM135.0 231.1h0.62v0.62h-0.62zM143.7 227.3h0.62v0.62h-0.62zM144.8 225.0h0.62v0.62h-0.62zM149.7 218.2h0.62v0.62h-0.62zM144.9 222.5h0.62v0.62h-0.62zM145.3 215.8h0.62v0.62h-0.62zM149.3 216.9h0.62v0.62h-0.62zM148.9 222.5h0.62v0.62h-0.62zM139.1 226.2h0.62v0.62h-0.62zM138.0 228.0h0.62v0.62h-0.62zM140.7 222.9h0.62v0.62h-0.62zM146.2 219.9h0.62v0.62h-0.62zM146.5 222.5h0.62v0.62h-0.62zM136.3 226.3h0.62v0.62h-0.62zM147.6 221.4h0.62v0.62h-0.62zM139.3 225.9h0.62v0.62h-0.62zM147.2 229.0h0.62v0.62h-0.62zM147.2 219.0h0.62v0.62h-0.62zM145.5 223.9h0.62v0.62h-0.62zM139.2 223.2h0.62v0.62h-0.62zM143.6 228.6h0.62v0.62h-0.62zM144.8 223.7h0.62v0.62h-0.62zM144.6 222.1h0.62v0.62h-0.62zM146.7 226.9h0.62v0.62h-0.62zM141.5 226.9h0.62v0.62h-0.62zM145.3 221.3h0.62v0.62h-0.62zM150.2 222.7h0.62v0.62h-0.62zM139.7 227.8h0.62v0.62h-0.62zM148.0 222.2h0.62v0.62h-0.62zM141.2 225.4h0.62v0.62h-0.62zM141.6 223.2h0.62v0.62h-0.62zM150.8 222.4h0.62v0.62h-0.62zM141.0 229.7h0.62v0.62h-0.62zM146.1 226.1h0.62v0.62h-0.62zM152.3 218.4h0.62v0.62h-0.62zM149.9 218.0h0.62v0.62h-0.62zM143.6 227.1h0.62v0.62h-0.62zM139.9 227.7h0.62v0.62h-0.62zM148.1 217.9h0.62v0.62h-0.62zM146.2 223.6h0.62v0.62h-0.62zM141.6 219.5h0.62v0.62h-0.62zM139.1 230.2h0.62v0.62h-0.62zM143.1 221.9h0.62v0.62h-0.62z" fill="#000" fill-opacity="0.85"/>
<path d="M145.2 221.3h0.62v0.62h-0.62zM146.9 235.8h0.62v0.62h-0.62zM156.7 215.9h0.62v0.62h-0.62zM149.6 217.1h0.62v0.62h-0.62zM144.7 228.8h0.62v0.62h-0.62zM148.3 215.8h0.62v0.62h-0.62zM137.2 237.6h0.62v0.62h-0.62zM143.1 236.9h0.62v0.62h-0.62zM150.0 218.4h0.62v0.62h-0.62zM161.2 215.1h0.62v0.62h-0.62zM145.7 221.9h0.62v0.62h-0.62zM148.0 214.0h0.62v0.62h-0.62zM147.7 220.4h0.62v0.62h-0.62zM156.5 211.1h0.62v0.62h-0.62zM146.7 228.3h0.62v0.62h-0.62zM138.1 233.5h0.62v0.62h-0.62zM140.5 225.9h0.62v0.62h-0.62zM146.5 220.8h0.62v0.62h-0.62zM150.6 218.6h0.62v0.62h-0.62zM144.7 228.2h0.62v0.62h-0.62zM150.9 212.2h0.62v0.62h-0.62zM136.0 230.9h0.62v0.62h-0.62zM148.2 220.7h0.62v0.62h-0.62zM138.1 226.7h0.62v0.62h-0.62zM147.8 228.2h0.62v0.62h-0.62zM143.6 226.3h0.62v0.62h-0.62zM150.3 212.2h0.62v0.62h-0.62zM154.2 209.5h0.62v0.62h-0.62zM137.1 240.1h0.62v0.62h-0.62zM143.4 223.5h0.62v0.62h-0.62zM146.0 217.6h0.62v0.62h-0.62zM143.6 230.1h0.62v0.62h-0.62zM149.4 226.2h0.62v0.62h-0.62zM141.6 218.5h0.62v0.62h-0.62zM152.3 217.6h0.62v0.62h-0.62zM147.4 232.2h0.62v0.62h-0.62zM158.2 222.8h0.62v0.62h-0.62zM149.0 226.4h0.62v0.62h-0.62zM149.4 223.6h0.62v0.62h-0.62zM139.6 223.3h0.62v0.62h-0.62zM148.6 224.9h0.62v0.62h-0.62zM146.1 220.2h0.62v0.62h-0.62zM161.3 204.4h0.62v0.62h-0.62zM155.1 217.4h0.62v0.62h-0.62zM147.4 217.4h0.62v0.62h-0.62zM146.8 220.0h0.62v0.62h-0.62zM148.2 232.1h0.62v0.62h-0.62zM155.9 216.5h0.62v0.62h-0.62zM135.3 225.4h0.62v0.62h-0.62zM140.6 224.8h0.62v0.62h-0.62zM148.8 213.0h0.62v0.62h-0.62zM144.5 226.6h0.62v0.62h-0.62zM138.2 225.3h0.62v0.62h-0.62zM163.1 203.4h0.62v0.62h-0.62zM141.2 228.8h0.62v0.62h-0.62zM146.5 225.6h0.62v0.62h-0.62zM139.4 231.2h0.62v0.62h-0.62zM148.7 221.5h0.62v0.62h-0.62zM153.3 214.8h0.62v0.62h-0.62zM160.2 202.2h0.62v0.62h-0.62zM157.7 215.5h0.62v0.62h-0.62zM150.8 218.1h0.62v0.62h-0.62zM145.0 219.8h0.62v0.62h-0.62zM150.5 210.3h0.62v0.62h-0.62zM147.3 222.4h0.62v0.62h-0.62zM154.1 220.1h0.62v0.62h-0.62zM139.6 231.5h0.62v0.62h-0.62zM147.1 214.3h0.62v0.62h-0.62zM137.9 229.3h0.62v0.62h-0.62zM142.3 220.9h0.62v0.62h-0.62zM135.5 232.5h0.62v0.62h-0.62zM142.2 231.9h0.62v0.62h-0.62zM156.8 211.8h0.62v0.62h-0.62zM148.8 219.2h0.62v0.62h-0.62zM139.7 226.5h0.62v0.62h-0.62zM153.3 212.1h0.62v0.62h-0.62zM135.2 235.5h0.62v0.62h-0.62zM141.0 217.0h0.62v0.62h-0.62zM138.1 228.8h0.62v0.62h-0.62zM144.8 212.3h0.62v0.62h-0.62zM155.2 218.3h0.62v0.62h-0.62zM141.9 220.6h0.62v0.62h-0.62zM147.2 226.4h0.62v0.62h-0.62zM138.3 221.8h0.62v0.62h-0.62zM158.0 219.1h0.62v0.62h-0.62zM150.7 221.9h0.62v0.62h-0.62zM159.5 208.9h0.62v0.62h-0.62zM148.1 218.4h0.62v0.62h-0.62zM147.3 219.5h0.62v0.62h-0.62zM140.0 227.4h0.62v0.62h-0.62zM143.5 230.9h0.62v0.62h-0.62zM153.0 218.4h0.62v0.62h-0.62zM148.1 225.9h0.62v0.62h-0.62zM152.0 213.2h0.62v0.62h-0.62zM150.1 216.6h0.62v0.62h-0.62zM138.9 221.0h0.62v0.62h-0.62zM139.1 219.1h0.62v0.62h-0.62zM154.1 214.6h0.62v0.62h-0.62zM150.8 213.6h0.62v0.62h-0.62zM152.9 215.7h0.62v0.62h-0.62zM141.5 226.6h0.62v0.62h-0.62zM147.5 219.1h0.62v0.62h-0.62zM142.3 226.3h0.62v0.62h-0.62zM155.2 200.4h0.62v0.62h-0.62zM144.5 222.4h0.62v0.62h-0.62zM148.0 221.8h0.62v0.62h-0.62zM145.4 222.7h0.62v0.62h-0.62zM142.8 227.6h0.62v0.62h-0.62zM144.3 211.9h0.62v0.62h-0.62zM145.9 226.9h0.62v0.62h-0.62zM149.4 221.9h0.62v0.62h-0.62zM151.8 219.1h0.62v0.62h-0.62zM148.0 221.5h0.62v0.62h-0.62zM146.3 225.0h0.62v0.62h-0.62zM153.9 219.1h0.62v0.62h-0.62zM146.1 220.0h0.62v0.62h-0.62zM139.5 229.2h0.62v0.62h-0.62zM134.9 237.9h0.62v0.62h-0.62zM135.5 226.4h0.62v0.62h-0.62zM148.9 222.7h0.62v0.62h-0.62zM152.1 211.4h0.62v0.62h-0.62zM141.1 225.0h0.62v0.62h-0.62zM145.2 219.3h0.62v0.62h-0.62zM140.6 229.9h0.62v0.62h-0.62zM147.6 213.6h0.62v0.62h-0.62zM160.7 213.5h0.62v0.62h-0.62zM139.4 226.5h0.62v0.62h-0.62zM144.3 219.7h0.62v0.62h-0.62zM163.4 212.0h0.62v0.62h-0.62zM143.7 225.0h0.62v0.62h-0.62zM136.8 223.4h0.62v0.62h-0.62zM146.9 222.0h0.62v0.62h-0.62zM151.1 221.8h0.62v0.62h-0.62zM149.4 227.1h0.62v0.62h-0.62zM149.2 224.7h0.62v0.62h-0.62zM153.4 214.3h0.62v0.62h-0.62zM148.7 234.7h0.62v0.62h-0.62zM153.5 213.9h0.62v0.62h-0.62zM138.3 221.6h0.62v0.62h-0.62zM158.2 220.7h0.62v0.62h-0.62zM158.6 217.2h0.62v0.62h-0.62zM150.3 223.7h0.62v0.62h-0.62zM151.1 231.3h0.62v0.62h-0.62zM142.9 232.0h0.62v0.62h-0.62zM138.6 231.5h0.62v0.62h-0.62zM152.4 218.5h0.62v0.62h-0.62zM134.3 231.5h0.62v0.62h-0.62zM148.2 223.5h0.62v0.62h-0.62zM142.2 222.9h0.62v0.62h-0.62zM150.3 213.3h0.62v0.62h-0.62zM139.2 221.9h0.62v0.62h-0.62zM154.7 213.4h0.62v0.62h-0.62zM147.8 224.7h0.62v0.62h-0.62zM157.9 207.1h0.62v0.62h-0.62zM139.6 220.0h0.62v0.62h-0.62zM141.5 222.2h0.62v0.62h-0.62zM140.3 228.3h0.62v0.62h-0.62zM152.9 213.2h0.62v0.62h-0.62zM142.5 223.4h0.62v0.62h-0.62zM149.1 212.3h0.62v0.62h-0.62zM149.1 229.1h0.62v0.62h-0.62zM138.6 231.4h0.62v0.62h-0.62zM156.1 213.7h0.62v0.62h-0.62zM154.3 214.3h0.62v0.62h-0.62zM141.1 221.6h0.62v0.62h-0.62zM156.2 219.1h0.62v0.62h-0.62zM133.7 233.2h0.62v0.62h-0.62zM150.7 216.3h0.62v0.62h-0.62zM143.0 222.3h0.62v0.62h-0.62zM144.7 216.9h0.62v0.62h-0.62zM145.4 223.8h0.62v0.62h-0.62zM145.1 218.4h0.62v0.62h-0.62zM145.3 223.4h0.62v0.62h-0.62zM144.6 226.1h0.62v0.62h-0.62zM150.8 227.1h0.62v0.62h-0.62zM143.8 216.8h0.62v0.62h-0.62zM156.4 220.1h0.62v0.62h-0.62zM153.0 225.0h0.62v0.62h-0.62zM141.6 224.9h0.62v0.62h-0.62zM146.4 223.7h0.62v0.62h-0.62zM148.1 227.3h0.62v0.62h-0.62zM155.1 206.9h0.62v0.62h-0.62zM144.1 234.7h0.62v0.62h-0.62zM143.7 216.9h0.62v0.62h-0.62zM141.7 231.1h0.62v0.62h-0.62zM150.3 218.7h0.62v0.62h-0.62zM140.9 223.5h0.62v0.62h-0.62zM144.7 219.9h0.62v0.62h-0.62zM143.1 225.8h0.62v0.62h-0.62zM150.8 215.3h0.62v0.62h-0.62zM153.4 213.1h0.62v0.62h-0.62zM149.3 216.8h0.62v0.62h-0.62zM154.0 218.3h0.62v0.62h-0.62zM149.9 220.0h0.62v0.62h-0.62zM141.4 230.0h0.62v0.62h-0.62zM149.5 221.0h0.62v0.62h-0.62zM147.9 228.4h0.62v0.62h-0.62zM138.2 232.1h0.62v0.62h-0.62zM135.2 236.2h0.62v0.62h-0.62zM140.6 225.4h0.62v0.62h-0.62zM152.7 208.0h0.62v0.62h-0.62zM139.2 226.3h0.62v0.62h-0.62zM153.2 213.7h0.62v0.62h-0.62zM138.3 223.9h0.62v0.62h-0.62zM154.7 219.7h0.62v0.62h-0.62zM146.7 216.4h0.62v0.62h-0.62zM141.5 228.7h0.62v0.62h-0.62zM140.2 225.4h0.62v0.62h-0.62zM143.1 227.2h0.62v0.62h-0.62zM152.3 220.4h0.62v0.62h-0.62zM141.1 236.2h0.62v0.62h-0.62zM142.7 219.6h0.62v0.62h-0.62zM145.6 229.3h0.62v0.62h-0.62zM154.9 209.3h0.62v0.62h-0.62zM143.3 234.4h0.62v0.62h-0.62zM144.7 216.3h0.62v0.62h-0.62zM145.8 219.3h0.62v0.62h-0.62zM154.9 212.5h0.62v0.62h-0.62zM156.3 218.7h0.62v0.62h-0.62zM137.5 232.8h0.62v0.62h-0.62zM160.1 213.6h0.62v0.62h-0.62zM145.3 225.8h0.62v0.62h-0.62zM151.8 221.1h0.62v0.62h-0.62zM131.9 237.8h0.62v0.62h-0.62zM154.7 211.5h0.62v0.62h-0.62zM147.4 221.7h0.62v0.62h-0.62zM147.3 221.4h0.62v0.62h-0.62zM142.8 223.9h0.62v0.62h-0.62zM152.8 213.1h0.62v0.62h-0.62zM140.7 219.2h0.62v0.62h-0.62zM138.3 226.3h0.62v0.62h-0.62zM143.9 221.9h0.62v0.62h-0.62zM151.5 209.2h0.62v0.62h-0.62zM146.3 234.1h0.62v0.62h-0.62zM142.1 221.0h0.62v0.62h-0.62zM139.7 231.8h0.62v0.62h-0.62zM153.3 219.6h0.62v0.62h-0.62zM143.2 220.8h0.62v0.62h-0.62zM154.8 216.0h0.62v0.62h-0.62zM157.0 209.8h0.62v0.62h-0.62zM137.2 237.4h0.62v0.62h-0.62zM145.2 229.8h0.62v0.62h-0.62zM155.1 229.0h0.62v0.62h-0.62zM144.7 231.0h0.62v0.62h-0.62zM147.2 215.5h0.62v0.62h-0.62zM149.3 225.8h0.62v0.62h-0.62zM133.2 227.4h0.62v0.62h-0.62zM145.2 221.7h0.62v0.62h-0.62zM133.2 222.5h0.62v0.62h-0.62zM140.8 233.0h0.62v0.62h-0.62zM145.2 224.0h0.62v0.62h-0.62zM149.8 229.3h0.62v0.62h-0.62zM153.3 220.2h0.62v0.62h-0.62zM136.2 231.6h0.62v0.62h-0.62zM138.0 235.2h0.62v0.62h-0.62zM152.7 220.4h0.62v0.62h-0.62zM142.3 222.2h0.62v0.62h-0.62zM143.6 221.7h0.62v0.62h-0.62zM145.1 224.2h0.62v0.62h-0.62zM132.9 225.5h0.62v0.62h-0.62zM148.5 220.6h0.62v0.62h-0.62zM146.5 221.0h0.62v0.62h-0.62zM143.5 222.4h0.62v0.62h-0.62zM158.0 222.9h0.62v0.62h-0.62zM156.2 212.9h0.62v0.62h-0.62zM149.2 226.4h0.62v0.62h-0.62zM151.5 218.6h0.62v0.62h-0.62zM152.9 215.3h0.62v0.62h-0.62zM144.8 221.6h0.62v0.62h-0.62zM141.3 219.4h0.62v0.62h-0.62zM139.9 229.7h0.62v0.62h-0.62zM151.7 213.6h0.62v0.62h-0.62zM151.4 221.2h0.62v0.62h-0.62zM145.3 219.3h0.62v0.62h-0.62zM140.5 224.5h0.62v0.62h-0.62zM153.2 215.3h0.62v0.62h-0.62zM132.3 228.6h0.62v0.62h-0.62zM148.5 215.2h0.62v0.62h-0.62zM153.5 214.4h0.62v0.62h-0.62zM145.4 221.9h0.62v0.62h-0.62zM139.6 228.2h0.62v0.62h-0.62zM140.7 229.5h0.62v0.62h-0.62zM152.4 217.2h0.62v0.62h-0.62zM153.2 229.9h0.62v0.62h-0.62zM150.9 216.9h0.62v0.62h-0.62zM140.0 224.9h0.62v0.62h-0.62zM142.5 233.0h0.62v0.62h-0.62zM164.8 204.5h0.62v0.62h-0.62zM140.6 228.0h0.62v0.62h-0.62zM156.1 221.0h0.62v0.62h-0.62zM148.5 210.0h0.62v0.62h-0.62zM148.1 222.9h0.62v0.62h-0.62zM147.7 219.0h0.62v0.62h-0.62zM150.5 220.1h0.62v0.62h-0.62zM158.9 210.7h0.62v0.62h-0.62zM148.2 222.7h0.62v0.62h-0.62zM153.0 219.7h0.62v0.62h-0.62zM155.9 208.1h0.62v0.62h-0.62zM140.0 226.5h0.62v0.62h-0.62zM143.3 231.8h0.62v0.62h-0.62zM148.6 220.3h0.62v0.62h-0.62zM145.6 221.4h0.62v0.62h-0.62zM151.0 211.8h0.62v0.62h-0.62zM153.2 215.1h0.62v0.62h-0.62zM144.7 217.7h0.62v0.62h-0.62zM156.9 219.9h0.62v0.62h-0.62zM154.7 229.1h0.62v0.62h-0.62zM165.6 205.2h0.62v0.62h-0.62zM153.3 210.8h0.62v0.62h-0.62zM150.9 224.0h0.62v0.62h-0.62zM159.6 199.2h0.62v0.62h-0.62zM151.6 220.9h0.62v0.62h-0.62zM153.6 214.1h0.62v0.62h-0.62zM146.5 228.5h0.62v0.62h-0.62zM140.5 226.4h0.62v0.62h-0.62zM159.7 209.5h0.62v0.62h-0.62zM149.5 225.9h0.62v0.62h-0.62zM142.4 226.3h0.62v0.62h-0.62zM148.4 229.3h0.62v0.62h-0.62zM152.8 214.1h0.62v0.62h-0.62zM145.5 223.5h0.62v0.62h-0.62zM147.4 231.0h0.62v0.62h-0.62zM132.0 237.1h0.62v0.62h-0.62zM143.6 226.3h0.62v0.62h-0.62zM147.8 217.7h0.62v0.62h-0.62zM142.8 222.1h0.62v0.62h-0.62z" fill="#000" fill-opacity="0.6"/>
<path d="M174.8 198.0h0.62v0.62h-0.62zM167.4 199.1h0.62v0.62h-0.62zM156.8 204.2h0.62v0.62h-0.62zM160.0 197.4h0.62v0.62h-0.62zM164.7 199.9h0.62v0.62h-0.62zM171.7 198.0h0.62v0.62h-0.62zM169.7 199.2h0.62v0.62h-0.62zM168.2 199.4h0.62v0.62h-0.62zM155.8 202.3h0.62v0.62h-0.62zM179.7 193.4h0.62v0.62h-0.62zM160.4 199.9h0.62v0.62h-0.62zM164.9 197.3h0.62v0.62h-0.62zM161.8 199.6h0.62v0.62h-0.62zM173.4 194.7h0.62v0.62h-0.62zM166.4 199.9h0.62v0.62h-0.62zM169.3 199.0h0.62v0.62h-0.62zM163.9 202.4h0.62v0.62h-0.62zM161.0 196.2h0.62v0.62h-0.62zM165.4 196.5h0.62v0.62h-0.62zM168.3 197.9h0.62v0.62h-0.62zM170.3 197.7h0.62v0.62h-0.62zM169.4 194.4h0.62v0.62h-0.62zM170.5 195.6h0.62v0.62h-0.62zM148.1 200.8h0.62v0.62h-0.62zM165.4 200.0h0.62v0.62h-0.62zM167.8 199.2h0.62v0.62h-0.62zM171.7 197.6h0.62v0.62h-0.62zM160.3 203.1h0.62v0.62h-0.62zM154.5 203.4h0.62v0.62h-0.62zM152.3 202.5h0.62v0.62h-0.62zM157.3 200.8h0.62v0.62h-0.62zM152.2 202.9h0.62v0.62h-0.62zM163.1 199.7h0.62v0.62h-0.62zM172.5 201.3h0.62v0.62h-0.62zM155.4 198.1h0.62v0.62h-0.62zM158.1 199.8h0.62v0.62h-0.62zM158.9 199.8h0.62v0.62h-0.62zM155.4 201.3h0.62v0.62h-0.62zM172.2 196.4h0.62v0.62h-0.62zM154.9 197.2h0.62v0.62h-0.62zM170.4 197.6h0.62v0.62h-0.62zM161.3 202.7h0.62v0.62h-0.62zM152.7 200.1h0.62v0.62h-0.62zM160.8 201.0h0.62v0.62h-0.62zM160.3 201.3h0.62v0.62h-0.62zM152.5 201.6h0.62v0.62h-0.62zM157.0 199.6h0.62v0.62h-0.62zM169.0 198.1h0.62v0.62h-0.62zM163.9 202.3h0.62v0.62h-0.62zM141.9 204.0h0.62v0.62h-0.62zM169.4 198.7h0.62v0.62h-0.62zM167.3 198.2h0.62v0.62h-0.62zM166.4 199.1h0.62v0.62h-0.62zM186.6 197.9h0.62v0.62h-0.62zM149.4 204.3h0.62v0.62h-0.62zM165.1 199.6h0.62v0.62h-0.62zM169.7 198.8h0.62v0.62h-0.62zM148.6 204.8h0.62v0.62h-0.62zM169.8 201.3h0.62v0.62h-0.62zM161.3 200.9h0.62v0.62h-0.62zM154.1 199.5h0.62v0.62h-0.62zM175.1 192.6h0.62v0.62h-0.62zM168.4 195.9h0.62v0.62h-0.62zM155.2 200.4h0.62v0.62h-0.62zM163.4 200.0h0.62v0.62h-0.62zM152.6 200.7h0.62v0.62h-0.62zM182.5 194.5h0.62v0.62h-0.62zM153.6 203.1h0.62v0.62h-0.62zM165.1 198.8h0.62v0.62h-0.62zM160.6 198.3h0.62v0.62h-0.62zM175.2 195.0h0.62v0.62h-0.62zM166.5 200.2h0.62v0.62h-0.62zM166.5 197.8h0.62v0.62h-0.62zM170.3 199.0h0.62v0.62h-0.62zM163.3 199.9h0.62v0.62h-0.62zM171.1 198.3h0.62v0.62h-0.62zM178.1 196.8h0.62v0.62h-0.62zM180.5 197.2h0.62v0.62h-0.62zM145.8 200.0h0.62v0.62h-0.62zM165.6 199.9h0.62v0.62h-0.62zM171.2 197.1h0.62v0.62h-0.62zM166.8 197.6h0.62v0.62h-0.62zM175.0 197.2h0.62v0.62h-0.62zM164.1 198.4h0.62v0.62h-0.62zM172.5 197.9h0.62v0.62h-0.62zM155.3 199.6h0.62v0.62h-0.62zM155.7 205.0h0.62v0.62h-0.62zM150.5 198.5h0.62v0.62h-0.62zM169.2 198.5h0.62v0.62h-0.62zM167.9 197.2h0.62v0.62h-0.62zM175.6 194.4h0.62v0.62h-0.62zM166.2 199.3h0.62v0.62h-0.62zM168.9 201.0h0.62v0.62h-0.62zM159.2 198.9h0.62v0.62h-0.62zM175.6 199.8h0.62v0.62h-0.62z" fill="#000" fill-opacity="0.75"/>
<path d="M163.5 223.7h0.62v0.62h-0.62zM169.2 216.9h0.62v0.62h-0.62zM164.2 221.1h0.62v0.62h-0.62zM160.2 220.7h0.62v0.62h-0.62zM163.7 219.5h0.62v0.62h-0.62zM163.9 219.9h0.62v0.62h-0.62zM168.4 215.1h0.62v0.62h-0.62zM169.8 206.4h0.62v0.62h-0.62zM172.3 214.4h0.62v0.62h-0.62zM172.0 208.2h0.62v0.62h-0.62zM167.8 217.9h0.62v0.62h-0.62zM161.7 216.4h0.62v0.62h-0.62zM173.1 209.9h0.62v0.62h-0.62zM171.3 208.4h0.62v0.62h-0.62zM166.3 221.1h0.62v0.62h-0.62zM165.9 215.6h0.62v0.62h-0.62zM171.7 214.3h0.62v0.62h-0.62zM169.3 217.3h0.62v0.62h-0.62zM161.9 219.7h0.62v0.62h-0.62zM167.7 212.7h0.62v0.62h-0.62zM160.3 222.9h0.62v0.62h-0.62zM175.9 205.1h0.62v0.62h-0.62zM169.6 214.1h0.62v0.62h-0.62zM162.1 219.8h0.62v0.62h-0.62zM170.6 210.5h0.62v0.62h-0.62zM172.1 209.6h0.62v0.62h-0.62zM172.9 210.8h0.62v0.62h-0.62zM166.9 214.0h0.62v0.62h-0.62zM163.4 222.0h0.62v0.62h-0.62zM165.2 220.4h0.62v0.62h-0.62zM175.4 208.8h0.62v0.62h-0.62zM165.5 216.3h0.62v0.62h-0.62zM166.5 221.1h0.62v0.62h-0.62zM168.1 219.6h0.62v0.62h-0.62zM162.2 223.9h0.62v0.62h-0.62zM165.8 218.2h0.62v0.62h-0.62zM169.0 215.7h0.62v0.62h-0.62zM164.6 218.5h0.62v0.62h-0.62zM173.6 208.1h0.62v0.62h-0.62zM165.4 221.6h0.62v0.62h-0.62zM171.2 210.4h0.62v0.62h-0.62zM168.9 213.6h0.62v0.62h-0.62zM173.1 208.4h0.62v0.62h-0.62zM169.0 214.7h0.62v0.62h-0.62zM162.2 225.9h0.62v0.62h-0.62zM164.5 222.9h0.62v0.62h-0.62zM166.1 213.8h0.62v0.62h-0.62zM164.3 220.2h0.62v0.62h-0.62zM171.6 210.5h0.62v0.62h-0.62zM162.8 224.7h0.62v0.62h-0.62zM171.8 214.0h0.62v0.62h-0.62zM165.6 217.5h0.62v0.62h-0.62zM168.5 213.5h0.62v0.62h-0.62zM167.7 209.8h0.62v0.62h-0.62zM161.1 226.0h0.62v0.62h-0.62zM165.9 219.6h0.62v0.62h-0.62zM168.9 214.2h0.62v0.62h-0.62zM165.8 214.3h0.62v0.62h-0.62zM162.4 222.3h0.62v0.62h-0.62zM164.8 218.1h0.62v0.62h-0.62zM165.8 215.8h0.62v0.62h-0.62zM165.6 217.9h0.62v0.62h-0.62zM167.1 211.7h0.62v0.62h-0.62zM171.9 207.9h0.62v0.62h-0.62zM165.2 210.4h0.62v0.62h-0.62zM163.1 222.3h0.62v0.62h-0.62zM166.5 222.6h0.62v0.62h-0.62zM167.0 210.9h0.62v0.62h-0.62zM171.6 212.1h0.62v0.62h-0.62zM164.7 219.2h0.62v0.62h-0.62zM164.6 218.1h0.62v0.62h-0.62zM160.5 227.3h0.62v0.62h-0.62zM169.7 208.8h0.62v0.62h-0.62zM167.6 216.7h0.62v0.62h-0.62zM164.7 217.8h0.62v0.62h-0.62zM169.5 212.6h0.62v0.62h-0.62zM166.3 212.0h0.62v0.62h-0.62zM171.8 209.6h0.62v0.62h-0.62zM164.8 220.7h0.62v0.62h-0.62zM168.0 215.2h0.62v0.62h-0.62zM160.8 218.6h0.62v0.62h-0.62zM168.9 217.3h0.62v0.62h-0.62zM166.0 218.8h0.62v0.62h-0.62zM162.6 222.9h0.62v0.62h-0.62zM164.8 221.4h0.62v0.62h-0.62zM168.4 212.9h0.62v0.62h-0.62zM166.1 220.7h0.62v0.62h-0.62zM167.6 216.8h0.62v0.62h-0.62zM158.5 226.3h0.62v0.62h-0.62zM168.4 214.4h0.62v0.62h-0.62zM159.7 228.5h0.62v0.62h-0.62zM168.9 221.0h0.62v0.62h-0.62zM167.0 214.8h0.62v0.62h-0.62zM171.0 202.9h0.62v0.62h-0.62zM168.7 215.2h0.62v0.62h-0.62zM162.8 219.2h0.62v0.62h-0.62zM165.1 218.0h0.62v0.62h-0.62zM167.7 214.0h0.62v0.62h-0.62zM169.5 214.8h0.62v0.62h-0.62zM166.3 217.7h0.62v0.62h-0.62zM169.2 211.0h0.62v0.62h-0.62zM169.2 212.6h0.62v0.62h-0.62zM163.4 218.7h0.62v0.62h-0.62zM167.6 214.8h0.62v0.62h-0.62zM169.0 213.4h0.62v0.62h-0.62zM164.0 222.8h0.62v0.62h-0.62zM162.0 218.5h0.62v0.62h-0.62zM170.0 216.5h0.62v0.62h-0.62zM164.8 215.9h0.62v0.62h-0.62zM170.9 213.0h0.62v0.62h-0.62zM173.3 216.2h0.62v0.62h-0.62zM165.4 218.1h0.62v0.62h-0.62zM173.0 212.9h0.62v0.62h-0.62zM168.1 216.1h0.62v0.62h-0.62zM169.4 212.1h0.62v0.62h-0.62zM179.5 204.6h0.62v0.62h-0.62zM162.7 217.6h0.62v0.62h-0.62zM162.7 224.1h0.62v0.62h-0.62zM170.4 211.5h0.62v0.62h-0.62zM166.5 219.9h0.62v0.62h-0.62zM166.4 220.1h0.62v0.62h-0.62zM172.1 211.7h0.62v0.62h-0.62zM166.0 217.8h0.62v0.62h-0.62zM160.8 228.0h0.62v0.62h-0.62zM170.3 208.6h0.62v0.62h-0.62zM167.9 218.6h0.62v0.62h-0.62zM166.1 221.5h0.62v0.62h-0.62zM167.8 214.0h0.62v0.62h-0.62zM168.2 215.9h0.62v0.62h-0.62zM165.3 220.4h0.62v0.62h-0.62zM172.4 214.0h0.62v0.62h-0.62zM163.4 222.0h0.62v0.62h-0.62zM168.0 214.9h0.62v0.62h-0.62zM165.6 217.5h0.62v0.62h-0.62zM168.2 212.3h0.62v0.62h-0.62zM166.6 211.7h0.62v0.62h-0.62zM166.5 221.8h0.62v0.62h-0.62zM167.2 220.2h0.62v0.62h-0.62zM174.8 209.4h0.62v0.62h-0.62zM169.9 211.9h0.62v0.62h-0.62z" fill="#000" fill-opacity="0.8"/>
<path d="M165.1 201.2h0.62v0.62h-0.62zM167.5 198.1h0.62v0.62h-0.62zM161.6 215.3h0.62v0.62h-0.62zM160.9 206.2h0.62v0.62h-0.62zM146.0 217.8h0.62v0.62h-0.62zM162.2 210.5h0.62v0.62h-0.62zM174.0 200.8h0.62v0.62h-0.62zM168.6 203.8h0.62v0.62h-0.62zM170.2 207.3h0.62v0.62h-0.62zM160.6 202.9h0.62v0.62h-0.62zM160.5 222.1h0.62v0.62h-0.62zM147.9 216.3h0.62v0.62h-0.62zM149.0 212.2h0.62v0.62h-0.62zM162.7 217.8h0.62v0.62h-0.62zM152.2 209.0h0.62v0.62h-0.62zM165.0 206.3h0.62v0.62h-0.62zM143.6 216.6h0.62v0.62h-0.62zM169.8 213.4h0.62v0.62h-0.62zM148.2 224.0h0.62v0.62h-0.62zM162.9 218.8h0.62v0.62h-0.62zM156.7 212.5h0.62v0.62h-0.62zM161.0 199.2h0.62v0.62h-0.62zM162.7 222.4h0.62v0.62h-0.62zM162.9 219.9h0.62v0.62h-0.62zM160.7 209.6h0.62v0.62h-0.62zM154.6 217.8h0.62v0.62h-0.62zM167.1 202.0h0.62v0.62h-0.62zM149.4 206.6h0.62v0.62h-0.62zM156.4 209.4h0.62v0.62h-0.62zM162.2 198.2h0.62v0.62h-0.62zM160.3 210.6h0.62v0.62h-0.62zM156.7 212.6h0.62v0.62h-0.62zM169.9 208.2h0.62v0.62h-0.62zM171.1 215.3h0.62v0.62h-0.62zM159.3 217.5h0.62v0.62h-0.62zM170.7 199.4h0.62v0.62h-0.62zM151.6 212.2h0.62v0.62h-0.62zM176.4 208.0h0.62v0.62h-0.62zM157.4 191.2h0.62v0.62h-0.62zM152.0 201.5h0.62v0.62h-0.62zM149.0 204.6h0.62v0.62h-0.62zM170.8 213.9h0.62v0.62h-0.62zM134.0 215.5h0.62v0.62h-0.62zM146.6 221.0h0.62v0.62h-0.62zM175.0 208.8h0.62v0.62h-0.62zM152.7 215.8h0.62v0.62h-0.62zM155.6 198.1h0.62v0.62h-0.62zM165.8 205.9h0.62v0.62h-0.62zM150.8 216.9h0.62v0.62h-0.62zM169.2 205.8h0.62v0.62h-0.62zM143.9 217.7h0.62v0.62h-0.62zM156.0 209.9h0.62v0.62h-0.62zM160.6 217.3h0.62v0.62h-0.62zM140.8 226.3h0.62v0.62h-0.62zM165.6 199.3h0.62v0.62h-0.62zM147.0 224.3h0.62v0.62h-0.62zM151.0 223.6h0.62v0.62h-0.62zM169.2 211.5h0.62v0.62h-0.62zM153.0 227.4h0.62v0.62h-0.62zM153.9 204.1h0.62v0.62h-0.62zM154.3 216.9h0.62v0.62h-0.62zM147.7 209.5h0.62v0.62h-0.62zM149.9 219.3h0.62v0.62h-0.62zM164.8 228.3h0.62v0.62h-0.62zM158.8 213.6h0.62v0.62h-0.62zM161.6 210.8h0.62v0.62h-0.62zM147.9 214.2h0.62v0.62h-0.62zM164.2 203.7h0.62v0.62h-0.62zM159.3 215.3h0.62v0.62h-0.62zM166.6 211.3h0.62v0.62h-0.62zM153.9 218.4h0.62v0.62h-0.62zM155.9 232.0h0.62v0.62h-0.62zM155.8 220.7h0.62v0.62h-0.62zM163.9 193.8h0.62v0.62h-0.62zM168.3 212.5h0.62v0.62h-0.62zM158.0 212.7h0.62v0.62h-0.62zM150.4 210.9h0.62v0.62h-0.62zM153.8 214.5h0.62v0.62h-0.62zM164.7 200.1h0.62v0.62h-0.62zM153.8 218.4h0.62v0.62h-0.62zM156.4 200.2h0.62v0.62h-0.62zM158.5 218.2h0.62v0.62h-0.62zM158.1 217.5h0.62v0.62h-0.62zM153.1 214.1h0.62v0.62h-0.62zM148.6 220.6h0.62v0.62h-0.62zM169.0 211.5h0.62v0.62h-0.62zM172.7 212.2h0.62v0.62h-0.62zM164.7 209.4h0.62v0.62h-0.62zM152.7 220.2h0.62v0.62h-0.62z" fill="#000" fill-opacity="0.45"/>
<line x1="159.00" y1="188.90" x2="159.00" y2="241.60" stroke="#f29aa9" stroke-width="1.3"/>
<line x1="130.40" y1="206.60" x2="188.00" y2="206.60" stroke="#f29aa9" stroke-width="1.3"/>
<rect x="130.40" y="188.90" width="57.60" height="52.70" fill="none" stroke="#222" stroke-width="1.3"/>
<line x1="127.30" y1="241.58" x2="129.80" y2="241.58" stroke="#000" stroke-width="0.9"/>
<line x1="127.30" y1="240.47" x2="129.80" y2="240.47" stroke="#000" stroke-width="0.9"/>
<line x1="127.30" y1="239.56" x2="129.80" y2="239.56" stroke="#000" stroke-width="0.9"/>
<line x1="127.30" y1="238.79" x2="129.80" y2="238.79" stroke="#000" stroke-width="0.9"/>
<line x1="127.30" y1="238.13" x2="129.80" y2="238.13" stroke="#000" stroke-width="0.9"/>
<line x1="127.30" y1="237.54" x2="129.80" y2="237.54" stroke="#000" stroke-width="0.9"/>
<line x1="126.80" y1="237.02" x2="129.80" y2="237.02" stroke="#000" stroke-width="0.9"/>
<line x1="127.30" y1="233.57" x2="129.80" y2="233.57" stroke="#000" stroke-width="0.9"/>
<line x1="127.30" y1="231.55" x2="129.80" y2="231.55" stroke="#000" stroke-width="0.9"/>
<line x1="127.30" y1="230.12" x2="129.80" y2="230.12" stroke="#000" stroke-width="0.9"/>
<line x1="127.30" y1="229.01" x2="129.80" y2="229.01" stroke="#000" stroke-width="0.9"/>
<line x1="127.30" y1="228.10" x2="129.80" y2="228.10" stroke="#000" stroke-width="0.9"/>
<line x1="127.30" y1="227.34" x2="129.80" y2="227.34" stroke="#000" stroke-width="0.9"/>
<line x1="127.30" y1="226.67" x2="129.80" y2="226.67" stroke="#000" stroke-width="0.9"/>
<line x1="127.30" y1="226.09" x2="129.80" y2="226.09" stroke="#000" stroke-width="0.9"/>
<line x1="126.80" y1="225.56" x2="129.80" y2="225.56" stroke="#000" stroke-width="0.9"/>
<line x1="127.30" y1="222.11" x2="129.80" y2="222.11" stroke="#000" stroke-width="0.9"/>
<line x1="127.30" y1="220.09" x2="129.80" y2="220.09" stroke="#000" stroke-width="0.9"/>
<line x1="127.30" y1="218.66" x2="129.80" y2="218.66" stroke="#000" stroke-width="0.9"/>
<line x1="127.30" y1="217.55" x2="129.80" y2="217.55" stroke="#000" stroke-width="0.9"/>
<line x1="127.30" y1="216.65" x2="129.80" y2="216.65" stroke="#000" stroke-width="0.9"/>
<line x1="127.30" y1="215.88" x2="129.80" y2="215.88" stroke="#000" stroke-width="0.9"/>
<line x1="127.30" y1="215.21" x2="129.80" y2="215.21" stroke="#000" stroke-width="0.9"/>
<line x1="127.30" y1="214.63" x2="129.80" y2="214.63" stroke="#000" stroke-width="0.9"/>
<line x1="126.80" y1="214.10" x2="129.80" y2="214.10" stroke="#000" stroke-width="0.9"/>
<line x1="127.30" y1="210.66" x2="129.80" y2="210.66" stroke="#000" stroke-width="0.9"/>
<line x1="127.30" y1="208.64" x2="129.80" y2="208.64" stroke="#000" stroke-width="0.9"/>
<line x1="127.30" y1="207.21" x2="129.80" y2="207.21" stroke="#000" stroke-width="0.9"/>
<line x1="127.30" y1="206.10" x2="129.80" y2="206.10" stroke="#000" stroke-width="0.9"/>
<line x1="127.30" y1="205.19" x2="129.80" y2="205.19" stroke="#000" stroke-width="0.9"/>
<line x1="127.30" y1="204.42" x2="129.80" y2="204.42" stroke="#000" stroke-width="0.9"/>
<line x1="127.30" y1="203.76" x2="129.80" y2="203.76" stroke="#000" stroke-width="0.9"/>
<line x1="127.30" y1="203.17" x2="129.80" y2="203.17" stroke="#000" stroke-width="0.9"/>
<line x1="126.80" y1="202.65" x2="129.80" y2="202.65" stroke="#000" stroke-width="0.9"/>
<line x1="127.30" y1="199.20" x2="129.80" y2="199.20" stroke="#000" stroke-width="0.9"/>
<line x1="127.30" y1="197.18" x2="129.80" y2="197.18" stroke="#000" stroke-width="0.9"/>
<line x1="127.30" y1="195.75" x2="129.80" y2="195.75" stroke="#000" stroke-width="0.9"/>
<line x1="127.30" y1="194.64" x2="129.80" y2="194.64" stroke="#000" stroke-width="0.9"/>
<line x1="127.30" y1="193.73" x2="129.80" y2="193.73" stroke="#000" stroke-width="0.9"/>
<line x1="127.30" y1="192.97" x2="129.80" y2="192.97" stroke="#000" stroke-width="0.9"/>
<line x1="127.30" y1="192.30" x2="129.80" y2="192.30" stroke="#000" stroke-width="0.9"/>
<line x1="127.30" y1="191.72" x2="129.80" y2="191.72" stroke="#000" stroke-width="0.9"/>
<line x1="126.80" y1="191.19" x2="129.80" y2="191.19" stroke="#000" stroke-width="0.9"/>
<line x1="131.65" y1="242.20" x2="131.65" y2="244.70" stroke="#000" stroke-width="0.9"/>
<line x1="132.84" y1="242.20" x2="132.84" y2="244.70" stroke="#000" stroke-width="0.9"/>
<line x1="133.81" y1="242.20" x2="133.81" y2="244.70" stroke="#000" stroke-width="0.9"/>
<line x1="134.63" y1="242.20" x2="134.63" y2="244.70" stroke="#000" stroke-width="0.9"/>
<line x1="135.34" y1="242.20" x2="135.34" y2="244.70" stroke="#000" stroke-width="0.9"/>
<line x1="135.97" y1="242.20" x2="135.97" y2="244.70" stroke="#000" stroke-width="0.9"/>
<line x1="136.53" y1="242.20" x2="136.53" y2="245.20" stroke="#000" stroke-width="0.9"/>
<line x1="140.22" y1="242.20" x2="140.22" y2="244.70" stroke="#000" stroke-width="0.9"/>
<line x1="142.37" y1="242.20" x2="142.37" y2="244.70" stroke="#000" stroke-width="0.9"/>
<line x1="143.91" y1="242.20" x2="143.91" y2="244.70" stroke="#000" stroke-width="0.9"/>
<line x1="145.09" y1="242.20" x2="145.09" y2="244.70" stroke="#000" stroke-width="0.9"/>
<line x1="146.06" y1="242.20" x2="146.06" y2="244.70" stroke="#000" stroke-width="0.9"/>
<line x1="146.88" y1="242.20" x2="146.88" y2="244.70" stroke="#000" stroke-width="0.9"/>
<line x1="147.60" y1="242.20" x2="147.60" y2="244.70" stroke="#000" stroke-width="0.9"/>
<line x1="148.22" y1="242.20" x2="148.22" y2="244.70" stroke="#000" stroke-width="0.9"/>
<line x1="148.78" y1="242.20" x2="148.78" y2="245.20" stroke="#000" stroke-width="0.9"/>
<line x1="152.47" y1="242.20" x2="152.47" y2="244.70" stroke="#000" stroke-width="0.9"/>
<line x1="154.63" y1="242.20" x2="154.63" y2="244.70" stroke="#000" stroke-width="0.9"/>
<line x1="156.16" y1="242.20" x2="156.16" y2="244.70" stroke="#000" stroke-width="0.9"/>
<line x1="157.35" y1="242.20" x2="157.35" y2="244.70" stroke="#000" stroke-width="0.9"/>
<line x1="158.32" y1="242.20" x2="158.32" y2="244.70" stroke="#000" stroke-width="0.9"/>
<line x1="159.14" y1="242.20" x2="159.14" y2="244.70" stroke="#000" stroke-width="0.9"/>
<line x1="159.85" y1="242.20" x2="159.85" y2="244.70" stroke="#000" stroke-width="0.9"/>
<line x1="160.48" y1="242.20" x2="160.48" y2="244.70" stroke="#000" stroke-width="0.9"/>
<line x1="161.04" y1="242.20" x2="161.04" y2="245.20" stroke="#000" stroke-width="0.9"/>
<line x1="164.73" y1="242.20" x2="164.73" y2="244.70" stroke="#000" stroke-width="0.9"/>
<line x1="166.89" y1="242.20" x2="166.89" y2="244.70" stroke="#000" stroke-width="0.9"/>
<line x1="168.42" y1="242.20" x2="168.42" y2="244.70" stroke="#000" stroke-width="0.9"/>
<line x1="169.60" y1="242.20" x2="169.60" y2="244.70" stroke="#000" stroke-width="0.9"/>
<line x1="170.57" y1="242.20" x2="170.57" y2="244.70" stroke="#000" stroke-width="0.9"/>
<line x1="171.40" y1="242.20" x2="171.40" y2="244.70" stroke="#000" stroke-width="0.9"/>
<line x1="172.11" y1="242.20" x2="172.11" y2="244.70" stroke="#000" stroke-width="0.9"/>
<line x1="172.73" y1="242.20" x2="172.73" y2="244.70" stroke="#000" stroke-width="0.9"/>
<line x1="173.29" y1="242.20" x2="173.29" y2="245.20" stroke="#000" stroke-width="0.9"/>
<line x1="176.98" y1="242.20" x2="176.98" y2="244.70" stroke="#000" stroke-width="0.9"/>
<line x1="179.14" y1="242.20" x2="179.14" y2="244.70" stroke="#000" stroke-width="0.9"/>
<line x1="180.67" y1="242.20" x2="180.67" y2="244.70" stroke="#000" stroke-width="0.9"/>
<line x1="181.86" y1="242.20" x2="181.86" y2="244.70" stroke="#000" stroke-width="0.9"/>
<line x1="182.83" y1="242.20" x2="182.83" y2="244.70" stroke="#000" stroke-width="0.9"/>
<line x1="183.65" y1="242.20" x2="183.65" y2="244.70" stroke="#000" stroke-width="0.9"/>
<line x1="184.36" y1="242.20" x2="184.36" y2="244.70" stroke="#000" stroke-width="0.9"/>
<line x1="184.99" y1="242.20" x2="184.99" y2="244.70" stroke="#000" stroke-width="0.9"/>
<line x1="185.55" y1="242.20" x2="185.55" y2="245.20" stroke="#000" stroke-width="0.9"/>
<text x="131.31" y="194.70" font-size="6.1" textLength="11.57" lengthAdjust="spacingAndGlyphs" transform="rotate(0.05 131.31 194.70)" fill="#1e1e1e">1.1%</text>
<text x="171.89" y="194.70" font-size="6.1" textLength="11.89" lengthAdjust="spacingAndGlyphs" transform="rotate(0.05 171.89 194.70)" fill="#1e1e1e">5.8%</text>
<text x="169.31" y="239.60" font-size="6.1" textLength="14.57" lengthAdjust="spacingAndGlyphs" transform="rotate(0.05 169.31 239.60)" fill="#1e1e1e">10.7%</text>
<text x="124.80" y="192.3" font-size="7.2" text-anchor="end" fill="#1e1e1e" transform="rotate(0.05 124.80 192.3)">10<tspan font-size="5.0" dy="-2.8">7.2</tspan></text>
<text x="124.80" y="207.6" font-size="7.2" text-anchor="end" fill="#1e1e1e" transform="rotate(0.05 124.80 207.6)">10<tspan font-size="5.0" dy="-2.8">6</tspan></text>
<text x="124.80" y="218.8" font-size="7.2" text-anchor="end" fill="#1e1e1e" transform="rotate(0.05 124.80 218.8)">10<tspan font-size="5.0" dy="-2.8">5</tspan></text>
<text x="124.80" y="230.0" font-size="7.2" text-anchor="end" fill="#1e1e1e" transform="rotate(0.05 124.80 230.0)">10<tspan font-size="5.0" dy="-2.8">4</tspan></text>
<text x="124.80" y="245.2" font-size="7.2" text-anchor="end" fill="#1e1e1e" transform="rotate(0.05 124.80 245.2)">10<tspan font-size="5.0" dy="-2.8">2.6</tspan></text>
<text x="123.50" y="256.1" font-size="7.0" fill="#1e1e1e" transform="rotate(0.05 123.50 256.1)">10<tspan font-size="4.9" dy="-3.5">2.5</tspan></text>
<text x="143.60" y="256.1" font-size="7.0" fill="#1e1e1e" transform="rotate(0.05 143.60 256.1)">10<tspan font-size="4.9" dy="-3.5">4</tspan></text>
<text x="155.80" y="256.1" font-size="7.0" fill="#1e1e1e" transform="rotate(0.05 155.80 256.1)">10<tspan font-size="4.9" dy="-3.5">5</tspan></text>
<text x="168.40" y="256.1" font-size="7.0" fill="#1e1e1e" transform="rotate(0.05 168.40 256.1)">10<tspan font-size="4.9" dy="-3.5">6</tspan></text>
<text x="180.60" y="256.1" font-size="7.0" fill="#1e1e1e" transform="rotate(0.05 180.60 256.1)">10<tspan font-size="4.9" dy="-3.5">7.2</tspan></text>
<text x="223.77" y="175.20" font-size="8.6" textLength="55.04" lengthAdjust="spacingAndGlyphs" transform="rotate(0.05 223.77 175.20)" fill="#1e1e1e">CDCA3-siRNA</text>
<text x="222.69" y="187.00" font-size="6.9" textLength="24.61" lengthAdjust="spacingAndGlyphs" transform="rotate(0.05 222.69 187.00)" fill="#1e1e1e">Gate: R1</text>
<path d="M230.0 232.3h0.62v0.62h-0.62zM233.8 228.1h0.62v0.62h-0.62zM239.0 225.1h0.62v0.62h-0.62zM235.2 225.8h0.62v0.62h-0.62zM231.9 228.8h0.62v0.62h-0.62zM242.9 229.9h0.62v0.62h-0.62zM246.8 221.4h0.62v0.62h-0.62zM240.8 217.3h0.62v0.62h-0.62zM232.0 235.1h0.62v0.62h-0.62zM236.9 222.2h0.62v0.62h-0.62zM234.7 228.1h0.62v0.62h-0.62zM241.3 221.0h0.62v0.62h-0.62zM236.0 225.8h0.62v0.62h-0.62zM237.9 224.0h0.62v0.62h-0.62zM238.4 222.6h0.62v0.62h-0.62zM236.4 228.0h0.62v0.62h-0.62zM234.1 233.1h0.62v0.62h-0.62zM233.8 234.8h0.62v0.62h-0.62zM234.7 216.8h0.62v0.62h-0.62zM238.1 230.7h0.62v0.62h-0.62zM235.5 225.2h0.62v0.62h-0.62zM237.4 218.3h0.62v0.62h-0.62zM238.2 223.5h0.62v0.62h-0.62zM246.7 224.4h0.62v0.62h-0.62zM236.4 231.9h0.62v0.62h-0.62zM246.5 220.9h0.62v0.62h-0.62zM237.9 221.5h0.62v0.62h-0.62zM244.2 224.7h0.62v0.62h-0.62zM251.1 217.7h0.62v0.62h-0.62zM244.0 224.8h0.62v0.62h-0.62zM240.0 226.8h0.62v0.62h-0.62zM239.4 221.8h0.62v0.62h-0.62zM237.8 221.7h0.62v0.62h-0.62zM238.9 220.7h0.62v0.62h-0.62zM236.8 225.6h0.62v0.62h-0.62zM240.9 221.5h0.62v0.62h-0.62zM243.5 217.8h0.62v0.62h-0.62zM233.0 227.1h0.62v0.62h-0.62zM237.5 217.6h0.62v0.62h-0.62zM236.5 224.1h0.62v0.62h-0.62zM239.4 219.5h0.62v0.62h-0.62zM238.0 226.7h0.62v0.62h-0.62zM246.5 220.4h0.62v0.62h-0.62zM240.6 223.3h0.62v0.62h-0.62zM237.8 227.5h0.62v0.62h-0.62zM237.3 226.4h0.62v0.62h-0.62zM238.3 224.0h0.62v0.62h-0.62zM239.9 218.3h0.62v0.62h-0.62zM238.9 220.2h0.62v0.62h-0.62zM244.1 217.8h0.62v0.62h-0.62zM234.5 222.8h0.62v0.62h-0.62zM239.6 226.2h0.62v0.62h-0.62zM240.0 221.5h0.62v0.62h-0.62zM248.9 213.4h0.62v0.62h-0.62zM238.0 223.1h0.62v0.62h-0.62zM241.0 218.0h0.62v0.62h-0.62zM242.7 217.7h0.62v0.62h-0.62zM233.1 231.7h0.62v0.62h-0.62zM237.9 226.7h0.62v0.62h-0.62zM239.0 222.5h0.62v0.62h-0.62zM237.1 223.5h0.62v0.62h-0.62zM241.4 221.0h0.62v0.62h-0.62zM238.5 219.2h0.62v0.62h-0.62zM233.0 228.4h0.62v0.62h-0.62zM231.6 225.8h0.62v0.62h-0.62zM233.6 226.1h0.62v0.62h-0.62zM226.0 240.0h0.62v0.62h-0.62zM230.0 233.2h0.62v0.62h-0.62zM235.3 222.5h0.62v0.62h-0.62zM234.3 224.9h0.62v0.62h-0.62zM231.4 231.5h0.62v0.62h-0.62zM232.7 224.9h0.62v0.62h-0.62zM236.4 225.8h0.62v0.62h-0.62zM238.2 229.8h0.62v0.62h-0.62zM242.8 220.0h0.62v0.62h-0.62zM239.6 226.9h0.62v0.62h-0.62zM227.9 234.6h0.62v0.62h-0.62zM243.6 224.1h0.62v0.62h-0.62zM242.5 219.8h0.62v0.62h-0.62zM244.1 217.8h0.62v0.62h-0.62zM242.3 224.2h0.62v0.62h-0.62zM237.1 223.0h0.62v0.62h-0.62zM242.9 217.7h0.62v0.62h-0.62zM239.3 220.9h0.62v0.62h-0.62zM237.4 225.3h0.62v0.62h-0.62zM239.6 221.2h0.62v0.62h-0.62zM238.2 231.4h0.62v0.62h-0.62zM236.5 220.3h0.62v0.62h-0.62zM232.8 231.6h0.62v0.62h-0.62zM236.2 222.6h0.62v0.62h-0.62zM246.6 215.4h0.62v0.62h-0.62zM236.9 229.9h0.62v0.62h-0.62zM234.4 225.3h0.62v0.62h-0.62zM232.1 221.1h0.62v0.62h-0.62zM240.7 223.4h0.62v0.62h-0.62zM234.7 232.6h0.62v0.62h-0.62zM233.8 228.3h0.62v0.62h-0.62zM234.5 225.3h0.62v0.62h-0.62zM234.0 226.0h0.62v0.62h-0.62zM232.1 231.2h0.62v0.62h-0.62zM240.2 219.5h0.62v0.62h-0.62zM237.7 217.3h0.62v0.62h-0.62zM242.8 216.3h0.62v0.62h-0.62zM238.7 222.9h0.62v0.62h-0.62zM233.3 228.5h0.62v0.62h-0.62zM233.1 229.9h0.62v0.62h-0.62zM236.0 229.0h0.62v0.62h-0.62zM234.0 234.8h0.62v0.62h-0.62zM232.5 224.9h0.62v0.62h-0.62zM241.0 223.5h0.62v0.62h-0.62zM237.1 224.2h0.62v0.62h-0.62zM236.1 225.5h0.62v0.62h-0.62zM231.5 224.3h0.62v0.62h-0.62zM244.9 220.2h0.62v0.62h-0.62zM234.0 220.0h0.62v0.62h-0.62zM239.7 220.6h0.62v0.62h-0.62zM255.3 214.3h0.62v0.62h-0.62zM234.4 226.1h0.62v0.62h-0.62zM244.3 220.6h0.62v0.62h-0.62zM239.7 219.1h0.62v0.62h-0.62zM233.8 224.9h0.62v0.62h-0.62zM239.4 224.7h0.62v0.62h-0.62zM237.2 227.4h0.62v0.62h-0.62zM234.3 226.1h0.62v0.62h-0.62zM240.9 217.4h0.62v0.62h-0.62zM235.2 224.9h0.62v0.62h-0.62zM229.2 232.8h0.62v0.62h-0.62zM241.9 216.6h0.62v0.62h-0.62zM241.6 224.8h0.62v0.62h-0.62zM233.3 226.5h0.62v0.62h-0.62zM235.2 225.3h0.62v0.62h-0.62zM238.4 220.5h0.62v0.62h-0.62zM233.5 223.6h0.62v0.62h-0.62zM239.6 224.3h0.62v0.62h-0.62zM241.3 217.9h0.62v0.62h-0.62zM238.8 224.7h0.62v0.62h-0.62zM239.8 222.0h0.62v0.62h-0.62zM244.6 228.0h0.62v0.62h-0.62zM240.0 225.1h0.62v0.62h-0.62zM238.5 232.1h0.62v0.62h-0.62zM238.6 215.5h0.62v0.62h-0.62zM235.2 227.6h0.62v0.62h-0.62zM239.6 225.3h0.62v0.62h-0.62zM229.3 229.0h0.62v0.62h-0.62zM238.1 225.5h0.62v0.62h-0.62zM237.7 221.9h0.62v0.62h-0.62zM237.5 230.8h0.62v0.62h-0.62zM234.6 226.8h0.62v0.62h-0.62zM244.7 216.6h0.62v0.62h-0.62zM246.2 224.4h0.62v0.62h-0.62zM234.7 226.8h0.62v0.62h-0.62zM239.3 218.2h0.62v0.62h-0.62zM238.8 224.9h0.62v0.62h-0.62zM239.8 219.1h0.62v0.62h-0.62zM232.9 224.0h0.62v0.62h-0.62zM240.3 222.9h0.62v0.62h-0.62zM241.3 223.0h0.62v0.62h-0.62zM234.6 221.9h0.62v0.62h-0.62zM237.8 228.2h0.62v0.62h-0.62zM242.2 213.3h0.62v0.62h-0.62zM236.2 225.1h0.62v0.62h-0.62zM244.7 221.5h0.62v0.62h-0.62zM237.9 226.4h0.62v0.62h-0.62zM232.5 224.7h0.62v0.62h-0.62zM238.3 221.9h0.62v0.62h-0.62zM229.0 229.5h0.62v0.62h-0.62zM232.0 222.7h0.62v0.62h-0.62zM241.1 223.6h0.62v0.62h-0.62zM235.8 235.7h0.62v0.62h-0.62zM232.7 225.8h0.62v0.62h-0.62zM234.0 221.5h0.62v0.62h-0.62zM238.3 221.5h0.62v0.62h-0.62zM243.8 219.7h0.62v0.62h-0.62zM243.3 221.2h0.62v0.62h-0.62zM236.8 222.7h0.62v0.62h-0.62zM232.1 235.1h0.62v0.62h-0.62zM237.5 221.9h0.62v0.62h-0.62zM238.9 224.4h0.62v0.62h-0.62zM241.8 230.1h0.62v0.62h-0.62zM239.6 224.2h0.62v0.62h-0.62zM233.8 229.4h0.62v0.62h-0.62zM242.7 221.9h0.62v0.62h-0.62zM237.9 223.6h0.62v0.62h-0.62zM232.5 230.2h0.62v0.62h-0.62zM235.7 223.0h0.62v0.62h-0.62zM238.1 219.4h0.62v0.62h-0.62zM235.1 221.7h0.62v0.62h-0.62zM238.2 226.3h0.62v0.62h-0.62zM239.0 217.8h0.62v0.62h-0.62zM238.8 224.8h0.62v0.62h-0.62zM241.7 229.8h0.62v0.62h-0.62zM239.7 225.6h0.62v0.62h-0.62zM235.9 224.1h0.62v0.62h-0.62zM236.2 227.5h0.62v0.62h-0.62zM238.9 229.0h0.62v0.62h-0.62zM239.2 220.3h0.62v0.62h-0.62zM242.8 223.9h0.62v0.62h-0.62zM234.8 220.8h0.62v0.62h-0.62zM230.3 227.5h0.62v0.62h-0.62zM240.1 226.1h0.62v0.62h-0.62zM238.2 218.9h0.62v0.62h-0.62zM244.2 223.5h0.62v0.62h-0.62zM232.2 228.3h0.62v0.62h-0.62zM241.3 222.2h0.62v0.62h-0.62zM240.2 221.4h0.62v0.62h-0.62zM238.4 219.6h0.62v0.62h-0.62zM246.0 219.0h0.62v0.62h-0.62zM225.3 237.2h0.62v0.62h-0.62zM236.9 229.1h0.62v0.62h-0.62zM231.3 225.2h0.62v0.62h-0.62zM239.6 212.4h0.62v0.62h-0.62zM237.9 223.9h0.62v0.62h-0.62zM243.1 218.6h0.62v0.62h-0.62zM236.7 224.4h0.62v0.62h-0.62zM239.5 224.8h0.62v0.62h-0.62zM236.8 226.5h0.62v0.62h-0.62zM238.2 217.0h0.62v0.62h-0.62zM232.7 224.0h0.62v0.62h-0.62zM236.8 222.4h0.62v0.62h-0.62zM240.9 220.6h0.62v0.62h-0.62zM236.3 224.8h0.62v0.62h-0.62zM232.1 231.0h0.62v0.62h-0.62zM226.8 226.0h0.62v0.62h-0.62zM236.4 229.1h0.62v0.62h-0.62zM244.5 216.5h0.62v0.62h-0.62zM235.5 227.4h0.62v0.62h-0.62zM242.2 225.2h0.62v0.62h-0.62zM242.9 220.9h0.62v0.62h-0.62zM234.3 225.4h0.62v0.62h-0.62zM238.3 222.1h0.62v0.62h-0.62zM237.8 229.4h0.62v0.62h-0.62zM240.5 221.9h0.62v0.62h-0.62zM242.1 222.7h0.62v0.62h-0.62zM233.1 229.0h0.62v0.62h-0.62zM242.3 227.1h0.62v0.62h-0.62zM241.5 231.7h0.62v0.62h-0.62zM239.9 221.0h0.62v0.62h-0.62zM242.1 219.7h0.62v0.62h-0.62zM237.2 223.7h0.62v0.62h-0.62zM232.4 226.6h0.62v0.62h-0.62zM238.8 232.6h0.62v0.62h-0.62zM246.1 222.9h0.62v0.62h-0.62zM238.2 218.4h0.62v0.62h-0.62zM238.3 220.5h0.62v0.62h-0.62zM239.5 226.6h0.62v0.62h-0.62zM236.2 226.8h0.62v0.62h-0.62zM243.0 223.9h0.62v0.62h-0.62zM240.3 219.6h0.62v0.62h-0.62zM250.0 218.3h0.62v0.62h-0.62zM238.8 217.6h0.62v0.62h-0.62zM239.4 224.5h0.62v0.62h-0.62zM246.3 213.8h0.62v0.62h-0.62zM229.7 233.0h0.62v0.62h-0.62zM237.8 227.4h0.62v0.62h-0.62zM241.9 218.8h0.62v0.62h-0.62zM237.6 223.4h0.62v0.62h-0.62zM236.6 223.6h0.62v0.62h-0.62zM243.7 225.4h0.62v0.62h-0.62zM242.4 213.7h0.62v0.62h-0.62zM237.2 224.0h0.62v0.62h-0.62zM248.4 217.1h0.62v0.62h-0.62zM233.4 224.3h0.62v0.62h-0.62zM231.8 224.8h0.62v0.62h-0.62zM234.8 229.0h0.62v0.62h-0.62zM232.3 222.8h0.62v0.62h-0.62zM226.8 226.4h0.62v0.62h-0.62zM239.2 223.3h0.62v0.62h-0.62zM240.8 219.9h0.62v0.62h-0.62zM238.8 226.6h0.62v0.62h-0.62zM232.3 226.7h0.62v0.62h-0.62zM238.3 227.2h0.62v0.62h-0.62zM237.5 222.6h0.62v0.62h-0.62zM231.0 227.1h0.62v0.62h-0.62zM240.2 226.5h0.62v0.62h-0.62zM248.9 217.9h0.62v0.62h-0.62zM235.7 222.8h0.62v0.62h-0.62zM235.2 225.5h0.62v0.62h-0.62zM234.3 228.1h0.62v0.62h-0.62zM244.0 219.9h0.62v0.62h-0.62zM235.9 225.9h0.62v0.62h-0.62zM237.3 223.2h0.62v0.62h-0.62zM249.3 218.5h0.62v0.62h-0.62zM237.6 225.9h0.62v0.62h-0.62zM237.9 218.7h0.62v0.62h-0.62zM238.2 219.8h0.62v0.62h-0.62zM234.7 225.1h0.62v0.62h-0.62zM236.2 230.1h0.62v0.62h-0.62zM248.4 217.8h0.62v0.62h-0.62zM241.7 216.7h0.62v0.62h-0.62zM240.5 226.8h0.62v0.62h-0.62zM249.2 215.0h0.62v0.62h-0.62zM238.3 227.6h0.62v0.62h-0.62zM238.8 225.9h0.62v0.62h-0.62zM232.1 227.0h0.62v0.62h-0.62zM236.9 221.4h0.62v0.62h-0.62zM242.7 224.9h0.62v0.62h-0.62zM234.9 224.5h0.62v0.62h-0.62zM237.7 226.9h0.62v0.62h-0.62zM235.7 230.4h0.62v0.62h-0.62zM233.0 228.7h0.62v0.62h-0.62zM236.9 229.5h0.62v0.62h-0.62zM244.2 221.9h0.62v0.62h-0.62zM242.1 228.1h0.62v0.62h-0.62zM239.3 224.2h0.62v0.62h-0.62zM244.0 218.2h0.62v0.62h-0.62zM242.6 220.2h0.62v0.62h-0.62zM238.0 220.1h0.62v0.62h-0.62zM242.3 221.4h0.62v0.62h-0.62zM234.6 225.0h0.62v0.62h-0.62zM236.3 226.3h0.62v0.62h-0.62zM246.5 217.9h0.62v0.62h-0.62zM245.3 217.5h0.62v0.62h-0.62zM239.1 218.3h0.62v0.62h-0.62zM246.6 219.5h0.62v0.62h-0.62zM239.2 224.2h0.62v0.62h-0.62zM237.3 222.0h0.62v0.62h-0.62zM237.8 224.6h0.62v0.62h-0.62zM235.3 233.6h0.62v0.62h-0.62zM231.8 230.1h0.62v0.62h-0.62zM237.5 224.3h0.62v0.62h-0.62zM234.7 230.5h0.62v0.62h-0.62zM237.9 228.0h0.62v0.62h-0.62zM244.4 217.3h0.62v0.62h-0.62zM235.7 221.6h0.62v0.62h-0.62zM235.3 225.6h0.62v0.62h-0.62zM238.2 219.9h0.62v0.62h-0.62zM241.6 226.7h0.62v0.62h-0.62zM237.0 227.8h0.62v0.62h-0.62zM231.9 229.8h0.62v0.62h-0.62zM236.5 217.4h0.62v0.62h-0.62zM236.6 223.4h0.62v0.62h-0.62zM237.7 229.5h0.62v0.62h-0.62zM233.2 231.2h0.62v0.62h-0.62zM237.0 224.2h0.62v0.62h-0.62zM228.5 221.6h0.62v0.62h-0.62zM234.0 227.9h0.62v0.62h-0.62zM238.3 221.5h0.62v0.62h-0.62zM237.6 228.8h0.62v0.62h-0.62zM240.0 221.3h0.62v0.62h-0.62zM242.6 221.1h0.62v0.62h-0.62zM238.2 228.5h0.62v0.62h-0.62zM236.1 223.7h0.62v0.62h-0.62zM234.9 222.7h0.62v0.62h-0.62zM234.6 224.7h0.62v0.62h-0.62zM240.2 223.9h0.62v0.62h-0.62zM239.4 230.6h0.62v0.62h-0.62zM236.6 228.8h0.62v0.62h-0.62zM231.6 228.3h0.62v0.62h-0.62zM242.6 228.0h0.62v0.62h-0.62zM239.1 221.7h0.62v0.62h-0.62zM242.2 221.9h0.62v0.62h-0.62zM236.5 225.1h0.62v0.62h-0.62zM238.1 228.4h0.62v0.62h-0.62zM230.2 229.6h0.62v0.62h-0.62zM238.4 224.2h0.62v0.62h-0.62zM242.3 223.6h0.62v0.62h-0.62zM239.2 222.7h0.62v0.62h-0.62zM238.3 224.7h0.62v0.62h-0.62zM244.9 218.3h0.62v0.62h-0.62zM234.4 222.2h0.62v0.62h-0.62zM234.1 229.7h0.62v0.62h-0.62zM234.0 224.4h0.62v0.62h-0.62zM238.7 221.7h0.62v0.62h-0.62zM236.9 223.3h0.62v0.62h-0.62zM246.6 213.9h0.62v0.62h-0.62zM239.1 226.1h0.62v0.62h-0.62zM239.2 220.7h0.62v0.62h-0.62zM236.5 228.9h0.62v0.62h-0.62zM233.3 228.9h0.62v0.62h-0.62zM240.1 220.2h0.62v0.62h-0.62zM240.1 220.0h0.62v0.62h-0.62zM230.9 231.9h0.62v0.62h-0.62zM240.4 222.7h0.62v0.62h-0.62zM238.7 220.3h0.62v0.62h-0.62zM244.7 218.1h0.62v0.62h-0.62zM237.3 223.7h0.62v0.62h-0.62zM235.3 226.9h0.62v0.62h-0.62zM236.4 225.2h0.62v0.62h-0.62zM240.2 221.2h0.62v0.62h-0.62zM231.3 227.4h0.62v0.62h-0.62zM243.0 226.1h0.62v0.62h-0.62zM239.3 226.6h0.62v0.62h-0.62zM234.3 225.8h0.62v0.62h-0.62zM232.0 228.4h0.62v0.62h-0.62zM236.3 224.3h0.62v0.62h-0.62zM244.4 222.8h0.62v0.62h-0.62zM237.9 219.8h0.62v0.62h-0.62zM244.2 221.6h0.62v0.62h-0.62zM229.9 230.8h0.62v0.62h-0.62zM238.8 221.7h0.62v0.62h-0.62zM233.2 224.3h0.62v0.62h-0.62zM242.9 221.7h0.62v0.62h-0.62zM241.2 226.6h0.62v0.62h-0.62zM246.4 218.1h0.62v0.62h-0.62zM233.8 226.2h0.62v0.62h-0.62zM234.7 220.1h0.62v0.62h-0.62zM225.8 235.5h0.62v0.62h-0.62zM247.1 216.7h0.62v0.62h-0.62zM230.9 226.2h0.62v0.62h-0.62zM234.4 228.9h0.62v0.62h-0.62zM237.4 221.4h0.62v0.62h-0.62zM242.3 214.5h0.62v0.62h-0.62zM232.9 224.2h0.62v0.62h-0.62zM244.9 222.5h0.62v0.62h-0.62zM232.9 228.1h0.62v0.62h-0.62zM240.2 216.1h0.62v0.62h-0.62zM238.1 221.6h0.62v0.62h-0.62zM237.4 215.9h0.62v0.62h-0.62zM237.4 218.3h0.62v0.62h-0.62zM234.0 221.5h0.62v0.62h-0.62zM237.3 226.3h0.62v0.62h-0.62zM243.4 222.9h0.62v0.62h-0.62zM239.7 219.3h0.62v0.62h-0.62zM245.5 221.2h0.62v0.62h-0.62zM238.7 219.7h0.62v0.62h-0.62zM240.4 227.0h0.62v0.62h-0.62zM240.1 224.7h0.62v0.62h-0.62zM237.7 226.2h0.62v0.62h-0.62zM236.3 224.4h0.62v0.62h-0.62zM234.5 216.7h0.62v0.62h-0.62zM240.8 221.1h0.62v0.62h-0.62zM237.7 222.0h0.62v0.62h-0.62zM236.8 225.8h0.62v0.62h-0.62zM241.3 223.3h0.62v0.62h-0.62zM233.2 230.2h0.62v0.62h-0.62zM240.2 220.5h0.62v0.62h-0.62zM241.5 222.7h0.62v0.62h-0.62zM234.8 227.0h0.62v0.62h-0.62zM235.0 224.1h0.62v0.62h-0.62zM243.4 220.9h0.62v0.62h-0.62zM240.8 219.0h0.62v0.62h-0.62zM236.0 223.0h0.62v0.62h-0.62zM241.9 224.0h0.62v0.62h-0.62zM227.3 233.9h0.62v0.62h-0.62zM241.8 220.4h0.62v0.62h-0.62zM241.8 214.9h0.62v0.62h-0.62zM235.5 227.9h0.62v0.62h-0.62zM232.9 237.9h0.62v0.62h-0.62zM239.2 224.3h0.62v0.62h-0.62zM243.2 220.2h0.62v0.62h-0.62zM234.5 224.0h0.62v0.62h-0.62zM244.7 220.2h0.62v0.62h-0.62zM237.0 218.4h0.62v0.62h-0.62zM235.7 221.7h0.62v0.62h-0.62zM240.7 221.2h0.62v0.62h-0.62zM246.5 223.0h0.62v0.62h-0.62zM240.2 224.5h0.62v0.62h-0.62zM231.6 228.2h0.62v0.62h-0.62zM227.9 227.3h0.62v0.62h-0.62zM231.0 232.9h0.62v0.62h-0.62zM227.7 226.7h0.62v0.62h-0.62zM239.2 215.3h0.62v0.62h-0.62zM240.7 220.2h0.62v0.62h-0.62zM232.8 228.4h0.62v0.62h-0.62zM238.8 216.2h0.62v0.62h-0.62zM231.4 226.8h0.62v0.62h-0.62zM239.4 222.7h0.62v0.62h-0.62zM237.4 222.2h0.62v0.62h-0.62zM235.3 227.3h0.62v0.62h-0.62zM238.0 226.5h0.62v0.62h-0.62zM237.4 229.9h0.62v0.62h-0.62zM240.4 228.1h0.62v0.62h-0.62zM242.7 221.9h0.62v0.62h-0.62zM233.8 228.2h0.62v0.62h-0.62zM239.5 221.4h0.62v0.62h-0.62zM237.9 233.7h0.62v0.62h-0.62zM244.2 217.1h0.62v0.62h-0.62zM232.6 228.6h0.62v0.62h-0.62zM230.3 228.4h0.62v0.62h-0.62zM239.4 229.0h0.62v0.62h-0.62zM237.2 226.9h0.62v0.62h-0.62zM234.7 224.0h0.62v0.62h-0.62zM234.3 219.4h0.62v0.62h-0.62zM229.5 229.2h0.62v0.62h-0.62zM242.9 217.4h0.62v0.62h-0.62zM234.5 227.3h0.62v0.62h-0.62zM233.6 223.8h0.62v0.62h-0.62zM233.6 226.5h0.62v0.62h-0.62zM237.2 226.7h0.62v0.62h-0.62zM244.9 222.2h0.62v0.62h-0.62zM238.7 226.2h0.62v0.62h-0.62zM240.5 223.2h0.62v0.62h-0.62zM253.0 217.4h0.62v0.62h-0.62zM242.4 219.2h0.62v0.62h-0.62zM241.7 223.5h0.62v0.62h-0.62zM229.4 227.3h0.62v0.62h-0.62zM238.8 218.8h0.62v0.62h-0.62zM240.6 219.2h0.62v0.62h-0.62zM236.0 222.9h0.62v0.62h-0.62zM228.0 227.9h0.62v0.62h-0.62zM235.1 223.7h0.62v0.62h-0.62zM233.7 227.4h0.62v0.62h-0.62zM239.7 216.8h0.62v0.62h-0.62zM241.2 224.3h0.62v0.62h-0.62zM238.3 222.6h0.62v0.62h-0.62zM235.9 229.3h0.62v0.62h-0.62zM234.4 227.0h0.62v0.62h-0.62zM239.9 219.9h0.62v0.62h-0.62zM240.8 220.3h0.62v0.62h-0.62zM243.4 218.1h0.62v0.62h-0.62zM237.5 221.9h0.62v0.62h-0.62zM238.6 225.1h0.62v0.62h-0.62zM239.7 221.1h0.62v0.62h-0.62zM237.5 231.9h0.62v0.62h-0.62zM239.9 228.0h0.62v0.62h-0.62zM234.3 225.6h0.62v0.62h-0.62zM243.6 222.9h0.62v0.62h-0.62zM233.1 230.3h0.62v0.62h-0.62zM234.9 226.9h0.62v0.62h-0.62zM240.3 227.2h0.62v0.62h-0.62zM236.8 220.0h0.62v0.62h-0.62zM236.6 224.6h0.62v0.62h-0.62zM239.1 223.3h0.62v0.62h-0.62zM238.2 227.2h0.62v0.62h-0.62zM231.5 227.8h0.62v0.62h-0.62zM237.9 224.2h0.62v0.62h-0.62zM243.3 219.4h0.62v0.62h-0.62zM236.1 223.5h0.62v0.62h-0.62zM239.1 226.2h0.62v0.62h-0.62zM240.6 225.4h0.62v0.62h-0.62zM238.3 221.5h0.62v0.62h-0.62zM240.3 226.5h0.62v0.62h-0.62zM230.4 229.6h0.62v0.62h-0.62zM242.1 220.8h0.62v0.62h-0.62zM245.8 218.1h0.62v0.62h-0.62zM234.4 227.8h0.62v0.62h-0.62zM237.6 228.8h0.62v0.62h-0.62zM237.1 221.1h0.62v0.62h-0.62zM236.4 225.6h0.62v0.62h-0.62zM228.0 231.4h0.62v0.62h-0.62zM250.2 219.9h0.62v0.62h-0.62zM237.6 231.5h0.62v0.62h-0.62zM242.8 218.1h0.62v0.62h-0.62zM237.3 226.7h0.62v0.62h-0.62zM237.6 228.3h0.62v0.62h-0.62zM231.9 229.3h0.62v0.62h-0.62zM233.2 220.6h0.62v0.62h-0.62zM237.1 222.1h0.62v0.62h-0.62zM242.8 217.9h0.62v0.62h-0.62zM236.3 222.3h0.62v0.62h-0.62zM236.3 223.9h0.62v0.62h-0.62zM237.7 223.6h0.62v0.62h-0.62zM233.7 226.6h0.62v0.62h-0.62zM242.0 222.6h0.62v0.62h-0.62zM244.2 221.0h0.62v0.62h-0.62zM235.7 221.8h0.62v0.62h-0.62zM237.0 220.2h0.62v0.62h-0.62zM240.0 225.0h0.62v0.62h-0.62zM236.8 227.4h0.62v0.62h-0.62zM246.5 219.7h0.62v0.62h-0.62zM232.9 226.9h0.62v0.62h-0.62zM242.5 222.5h0.62v0.62h-0.62zM243.3 222.3h0.62v0.62h-0.62zM234.1 228.8h0.62v0.62h-0.62zM241.2 221.1h0.62v0.62h-0.62zM233.4 232.4h0.62v0.62h-0.62zM237.3 216.4h0.62v0.62h-0.62zM232.2 231.7h0.62v0.62h-0.62zM243.4 219.6h0.62v0.62h-0.62zM240.1 225.0h0.62v0.62h-0.62zM232.5 234.0h0.62v0.62h-0.62zM232.4 229.6h0.62v0.62h-0.62zM233.1 226.8h0.62v0.62h-0.62zM233.4 225.7h0.62v0.62h-0.62zM236.9 229.1h0.62v0.62h-0.62zM233.2 224.0h0.62v0.62h-0.62zM236.2 222.9h0.62v0.62h-0.62zM231.9 228.3h0.62v0.62h-0.62zM237.5 227.0h0.62v0.62h-0.62zM235.2 222.6h0.62v0.62h-0.62zM248.0 211.6h0.62v0.62h-0.62zM238.3 223.2h0.62v0.62h-0.62zM235.0 229.2h0.62v0.62h-0.62zM238.4 222.9h0.62v0.62h-0.62zM246.0 220.8h0.62v0.62h-0.62zM240.8 219.6h0.62v0.62h-0.62zM237.1 226.3h0.62v0.62h-0.62zM243.0 221.7h0.62v0.62h-0.62zM229.9 229.5h0.62v0.62h-0.62zM239.5 223.6h0.62v0.62h-0.62zM240.8 220.2h0.62v0.62h-0.62zM234.7 225.6h0.62v0.62h-0.62zM243.5 217.3h0.62v0.62h-0.62zM239.4 226.6h0.62v0.62h-0.62zM235.4 221.4h0.62v0.62h-0.62zM233.5 228.7h0.62v0.62h-0.62zM241.5 228.1h0.62v0.62h-0.62zM235.3 220.3h0.62v0.62h-0.62zM239.8 223.5h0.62v0.62h-0.62zM238.1 231.8h0.62v0.62h-0.62z" fill="#000" fill-opacity="0.85"/>
<path d="M246.4 226.0h0.62v0.62h-0.62zM262.6 209.0h0.62v0.62h-0.62zM234.4 218.2h0.62v0.62h-0.62zM251.1 223.4h0.62v0.62h-0.62zM237.9 221.9h0.62v0.62h-0.62zM226.4 218.6h0.62v0.62h-0.62zM249.3 219.7h0.62v0.62h-0.62zM245.2 221.0h0.62v0.62h-0.62zM229.0 230.4h0.62v0.62h-0.62zM240.7 218.6h0.62v0.62h-0.62zM245.7 216.7h0.62v0.62h-0.62zM245.8 213.9h0.62v0.62h-0.62zM247.8 215.4h0.62v0.62h-0.62zM244.2 215.7h0.62v0.62h-0.62zM253.4 212.9h0.62v0.62h-0.62zM231.8 226.4h0.62v0.62h-0.62zM243.3 221.5h0.62v0.62h-0.62zM248.3 217.8h0.62v0.62h-0.62zM247.9 220.3h0.62v0.62h-0.62zM237.5 229.0h0.62v0.62h-0.62zM243.2 220.9h0.62v0.62h-0.62zM247.8 217.9h0.62v0.62h-0.62zM238.8 223.7h0.62v0.62h-0.62zM238.0 216.2h0.62v0.62h-0.62zM244.6 221.2h0.62v0.62h-0.62zM239.8 223.9h0.62v0.62h-0.62zM254.0 209.4h0.62v0.62h-0.62zM240.5 223.0h0.62v0.62h-0.62zM232.7 223.5h0.62v0.62h-0.62zM249.9 215.2h0.62v0.62h-0.62zM236.5 226.4h0.62v0.62h-0.62zM252.6 217.6h0.62v0.62h-0.62zM235.2 225.8h0.62v0.62h-0.62zM240.9 212.1h0.62v0.62h-0.62zM237.8 221.1h0.62v0.62h-0.62zM239.1 226.3h0.62v0.62h-0.62zM236.2 220.4h0.62v0.62h-0.62zM229.7 237.5h0.62v0.62h-0.62zM227.9 235.1h0.62v0.62h-0.62zM247.2 216.6h0.62v0.62h-0.62zM257.2 209.6h0.62v0.62h-0.62zM230.7 230.5h0.62v0.62h-0.62zM238.1 229.3h0.62v0.62h-0.62zM251.3 221.3h0.62v0.62h-0.62zM239.5 223.9h0.62v0.62h-0.62zM241.7 215.4h0.62v0.62h-0.62zM228.0 233.4h0.62v0.62h-0.62zM247.0 222.7h0.62v0.62h-0.62zM238.3 232.0h0.62v0.62h-0.62zM244.5 213.4h0.62v0.62h-0.62zM240.4 225.0h0.62v0.62h-0.62zM248.0 221.9h0.62v0.62h-0.62zM243.2 223.4h0.62v0.62h-0.62zM236.2 230.0h0.62v0.62h-0.62zM247.3 208.6h0.62v0.62h-0.62zM242.1 222.4h0.62v0.62h-0.62zM240.9 214.0h0.62v0.62h-0.62zM261.3 210.8h0.62v0.62h-0.62zM244.9 220.7h0.62v0.62h-0.62zM232.3 230.5h0.62v0.62h-0.62zM226.0 236.5h0.62v0.62h-0.62zM231.4 233.0h0.62v0.62h-0.62zM242.5 217.3h0.62v0.62h-0.62zM232.6 232.2h0.62v0.62h-0.62zM238.5 227.3h0.62v0.62h-0.62zM234.0 222.8h0.62v0.62h-0.62zM245.8 219.3h0.62v0.62h-0.62zM235.5 218.3h0.62v0.62h-0.62zM238.2 221.9h0.62v0.62h-0.62zM236.2 229.2h0.62v0.62h-0.62zM235.2 227.7h0.62v0.62h-0.62zM228.1 232.7h0.62v0.62h-0.62zM232.1 221.9h0.62v0.62h-0.62zM252.3 220.2h0.62v0.62h-0.62zM230.7 222.4h0.62v0.62h-0.62zM239.3 228.4h0.62v0.62h-0.62zM227.0 229.7h0.62v0.62h-0.62zM238.2 215.2h0.62v0.62h-0.62zM233.4 230.2h0.62v0.62h-0.62zM242.9 222.9h0.62v0.62h-0.62zM249.4 214.5h0.62v0.62h-0.62zM236.7 232.0h0.62v0.62h-0.62zM247.7 213.0h0.62v0.62h-0.62zM238.7 221.9h0.62v0.62h-0.62zM232.0 229.9h0.62v0.62h-0.62zM246.5 212.2h0.62v0.62h-0.62zM226.5 234.6h0.62v0.62h-0.62zM240.3 216.4h0.62v0.62h-0.62zM236.7 222.9h0.62v0.62h-0.62zM236.9 223.9h0.62v0.62h-0.62zM240.5 222.8h0.62v0.62h-0.62zM226.0 227.2h0.62v0.62h-0.62zM239.4 225.7h0.62v0.62h-0.62zM237.4 232.6h0.62v0.62h-0.62zM246.7 217.1h0.62v0.62h-0.62zM240.5 210.2h0.62v0.62h-0.62zM236.9 229.8h0.62v0.62h-0.62zM245.6 219.9h0.62v0.62h-0.62zM239.0 236.0h0.62v0.62h-0.62zM233.1 224.0h0.62v0.62h-0.62zM243.7 222.3h0.62v0.62h-0.62zM248.4 217.9h0.62v0.62h-0.62zM233.5 221.3h0.62v0.62h-0.62zM233.8 224.1h0.62v0.62h-0.62zM226.5 233.8h0.62v0.62h-0.62zM243.5 219.9h0.62v0.62h-0.62zM241.8 224.9h0.62v0.62h-0.62zM239.4 226.5h0.62v0.62h-0.62zM232.5 224.5h0.62v0.62h-0.62zM236.2 221.9h0.62v0.62h-0.62zM241.7 218.1h0.62v0.62h-0.62zM246.9 224.5h0.62v0.62h-0.62zM233.4 220.8h0.62v0.62h-0.62zM231.5 220.5h0.62v0.62h-0.62zM243.9 222.8h0.62v0.62h-0.62zM231.6 225.0h0.62v0.62h-0.62zM231.8 231.4h0.62v0.62h-0.62zM227.7 227.1h0.62v0.62h-0.62zM238.2 229.6h0.62v0.62h-0.62zM254.8 216.8h0.62v0.62h-0.62zM241.9 214.7h0.62v0.62h-0.62zM228.4 222.0h0.62v0.62h-0.62zM244.3 216.9h0.62v0.62h-0.62zM250.0 215.5h0.62v0.62h-0.62zM252.5 218.9h0.62v0.62h-0.62zM238.6 230.7h0.62v0.62h-0.62zM241.2 217.4h0.62v0.62h-0.62zM227.8 239.2h0.62v0.62h-0.62zM232.4 222.2h0.62v0.62h-0.62zM244.5 220.1h0.62v0.62h-0.62zM248.2 217.0h0.62v0.62h-0.62zM243.1 226.9h0.62v0.62h-0.62zM238.1 229.8h0.62v0.62h-0.62zM244.6 221.1h0.62v0.62h-0.62zM232.6 229.6h0.62v0.62h-0.62zM245.1 223.5h0.62v0.62h-0.62zM240.0 222.4h0.62v0.62h-0.62zM228.4 240.2h0.62v0.62h-0.62zM229.9 221.2h0.62v0.62h-0.62zM248.8 216.4h0.62v0.62h-0.62zM229.3 238.1h0.62v0.62h-0.62zM227.0 218.9h0.62v0.62h-0.62zM245.8 220.9h0.62v0.62h-0.62zM229.6 235.0h0.62v0.62h-0.62zM251.1 216.2h0.62v0.62h-0.62zM239.9 225.0h0.62v0.62h-0.62zM236.1 224.0h0.62v0.62h-0.62zM244.1 215.8h0.62v0.62h-0.62zM241.3 211.2h0.62v0.62h-0.62zM240.8 214.7h0.62v0.62h-0.62zM238.7 229.2h0.62v0.62h-0.62zM252.0 207.6h0.62v0.62h-0.62zM233.7 224.6h0.62v0.62h-0.62zM239.3 221.4h0.62v0.62h-0.62zM233.7 222.4h0.62v0.62h-0.62zM246.7 228.6h0.62v0.62h-0.62zM237.5 221.7h0.62v0.62h-0.62zM248.4 218.5h0.62v0.62h-0.62zM237.1 223.6h0.62v0.62h-0.62zM244.7 212.6h0.62v0.62h-0.62zM228.1 226.4h0.62v0.62h-0.62zM239.3 231.1h0.62v0.62h-0.62zM248.8 215.6h0.62v0.62h-0.62zM237.1 228.0h0.62v0.62h-0.62zM233.6 232.9h0.62v0.62h-0.62zM234.3 227.9h0.62v0.62h-0.62zM235.5 223.5h0.62v0.62h-0.62zM235.0 227.0h0.62v0.62h-0.62zM234.9 224.7h0.62v0.62h-0.62zM235.2 230.5h0.62v0.62h-0.62zM227.2 221.8h0.62v0.62h-0.62zM234.3 229.6h0.62v0.62h-0.62zM242.4 213.5h0.62v0.62h-0.62zM251.3 217.2h0.62v0.62h-0.62zM243.1 221.9h0.62v0.62h-0.62zM244.3 215.7h0.62v0.62h-0.62zM243.7 226.2h0.62v0.62h-0.62zM238.0 208.7h0.62v0.62h-0.62zM238.8 222.5h0.62v0.62h-0.62zM239.3 230.9h0.62v0.62h-0.62zM244.4 214.9h0.62v0.62h-0.62zM237.3 218.1h0.62v0.62h-0.62zM248.3 214.9h0.62v0.62h-0.62zM235.1 228.5h0.62v0.62h-0.62zM245.7 221.4h0.62v0.62h-0.62zM239.8 226.4h0.62v0.62h-0.62zM226.4 231.5h0.62v0.62h-0.62zM239.1 225.1h0.62v0.62h-0.62zM231.7 222.3h0.62v0.62h-0.62zM235.9 225.9h0.62v0.62h-0.62zM243.6 223.5h0.62v0.62h-0.62zM245.9 223.3h0.62v0.62h-0.62zM239.8 226.3h0.62v0.62h-0.62zM252.4 215.4h0.62v0.62h-0.62zM248.7 221.8h0.62v0.62h-0.62zM237.3 214.3h0.62v0.62h-0.62zM225.1 235.0h0.62v0.62h-0.62zM244.6 222.0h0.62v0.62h-0.62zM232.8 236.6h0.62v0.62h-0.62zM237.4 229.0h0.62v0.62h-0.62zM241.3 225.2h0.62v0.62h-0.62zM252.7 205.8h0.62v0.62h-0.62zM236.9 216.2h0.62v0.62h-0.62zM232.2 224.5h0.62v0.62h-0.62zM248.8 218.2h0.62v0.62h-0.62zM242.5 226.8h0.62v0.62h-0.62zM249.9 215.6h0.62v0.62h-0.62zM241.9 218.9h0.62v0.62h-0.62zM235.9 225.8h0.62v0.62h-0.62zM236.8 227.4h0.62v0.62h-0.62zM231.1 221.1h0.62v0.62h-0.62zM240.9 216.2h0.62v0.62h-0.62zM239.1 223.8h0.62v0.62h-0.62zM241.8 218.5h0.62v0.62h-0.62zM240.2 220.4h0.62v0.62h-0.62zM242.4 226.6h0.62v0.62h-0.62zM242.4 224.9h0.62v0.62h-0.62zM239.5 233.4h0.62v0.62h-0.62zM238.7 221.3h0.62v0.62h-0.62zM247.3 214.0h0.62v0.62h-0.62zM241.1 216.8h0.62v0.62h-0.62zM249.0 223.0h0.62v0.62h-0.62zM249.6 209.2h0.62v0.62h-0.62zM229.6 225.3h0.62v0.62h-0.62zM241.4 219.2h0.62v0.62h-0.62zM242.2 221.9h0.62v0.62h-0.62zM239.1 226.3h0.62v0.62h-0.62zM229.9 232.0h0.62v0.62h-0.62zM234.0 228.6h0.62v0.62h-0.62zM242.8 227.6h0.62v0.62h-0.62zM238.0 229.6h0.62v0.62h-0.62zM229.5 229.8h0.62v0.62h-0.62zM240.2 213.6h0.62v0.62h-0.62zM232.0 220.9h0.62v0.62h-0.62zM239.1 230.4h0.62v0.62h-0.62zM252.8 215.9h0.62v0.62h-0.62zM240.2 223.1h0.62v0.62h-0.62zM241.8 226.2h0.62v0.62h-0.62zM248.9 200.0h0.62v0.62h-0.62zM250.3 221.5h0.62v0.62h-0.62zM237.4 218.4h0.62v0.62h-0.62zM231.3 234.3h0.62v0.62h-0.62zM234.2 221.7h0.62v0.62h-0.62zM239.8 216.4h0.62v0.62h-0.62zM250.2 208.3h0.62v0.62h-0.62zM240.6 224.8h0.62v0.62h-0.62zM242.1 224.3h0.62v0.62h-0.62zM245.0 219.0h0.62v0.62h-0.62zM238.4 215.5h0.62v0.62h-0.62zM241.4 221.0h0.62v0.62h-0.62zM235.5 224.4h0.62v0.62h-0.62zM246.8 218.2h0.62v0.62h-0.62zM250.1 220.9h0.62v0.62h-0.62zM238.0 217.8h0.62v0.62h-0.62zM247.2 226.8h0.62v0.62h-0.62zM251.3 211.2h0.62v0.62h-0.62zM227.3 231.1h0.62v0.62h-0.62zM230.2 234.5h0.62v0.62h-0.62zM242.7 214.2h0.62v0.62h-0.62zM236.0 226.6h0.62v0.62h-0.62zM248.4 212.7h0.62v0.62h-0.62zM234.9 230.2h0.62v0.62h-0.62zM241.9 228.9h0.62v0.62h-0.62zM234.9 232.1h0.62v0.62h-0.62zM253.8 209.9h0.62v0.62h-0.62zM242.1 229.4h0.62v0.62h-0.62zM241.3 222.4h0.62v0.62h-0.62zM243.5 205.9h0.62v0.62h-0.62zM238.0 215.4h0.62v0.62h-0.62zM242.7 215.1h0.62v0.62h-0.62zM235.0 232.5h0.62v0.62h-0.62zM246.5 219.0h0.62v0.62h-0.62zM238.7 213.8h0.62v0.62h-0.62zM242.4 225.0h0.62v0.62h-0.62zM236.8 225.5h0.62v0.62h-0.62zM243.7 216.0h0.62v0.62h-0.62zM232.9 230.5h0.62v0.62h-0.62zM236.5 225.8h0.62v0.62h-0.62zM235.5 221.2h0.62v0.62h-0.62zM231.3 216.1h0.62v0.62h-0.62zM244.7 213.9h0.62v0.62h-0.62zM237.1 219.6h0.62v0.62h-0.62zM245.0 220.4h0.62v0.62h-0.62zM251.5 218.4h0.62v0.62h-0.62zM230.9 222.4h0.62v0.62h-0.62zM232.2 225.7h0.62v0.62h-0.62zM243.0 220.8h0.62v0.62h-0.62zM242.7 223.0h0.62v0.62h-0.62zM254.6 208.8h0.62v0.62h-0.62zM243.6 205.9h0.62v0.62h-0.62zM242.3 227.3h0.62v0.62h-0.62zM242.1 219.5h0.62v0.62h-0.62zM226.2 230.3h0.62v0.62h-0.62zM234.3 237.4h0.62v0.62h-0.62zM248.0 221.4h0.62v0.62h-0.62zM242.4 217.2h0.62v0.62h-0.62zM242.8 222.3h0.62v0.62h-0.62zM257.5 202.2h0.62v0.62h-0.62zM247.9 213.0h0.62v0.62h-0.62zM240.0 217.4h0.62v0.62h-0.62zM236.4 227.9h0.62v0.62h-0.62zM233.6 221.2h0.62v0.62h-0.62zM236.2 218.0h0.62v0.62h-0.62zM232.5 225.6h0.62v0.62h-0.62zM230.7 228.4h0.62v0.62h-0.62zM249.7 215.5h0.62v0.62h-0.62zM239.6 220.5h0.62v0.62h-0.62zM229.9 233.6h0.62v0.62h-0.62zM235.4 229.7h0.62v0.62h-0.62zM230.4 221.7h0.62v0.62h-0.62zM243.1 223.1h0.62v0.62h-0.62zM242.9 228.5h0.62v0.62h-0.62zM240.9 233.6h0.62v0.62h-0.62zM240.6 218.3h0.62v0.62h-0.62zM251.5 213.6h0.62v0.62h-0.62zM254.3 222.4h0.62v0.62h-0.62zM249.6 217.0h0.62v0.62h-0.62zM232.7 226.3h0.62v0.62h-0.62zM240.1 227.7h0.62v0.62h-0.62zM236.7 217.4h0.62v0.62h-0.62zM239.5 227.3h0.62v0.62h-0.62zM239.8 225.2h0.62v0.62h-0.62zM241.8 216.0h0.62v0.62h-0.62zM243.4 235.3h0.62v0.62h-0.62zM239.8 218.0h0.62v0.62h-0.62zM235.7 230.5h0.62v0.62h-0.62zM248.4 217.6h0.62v0.62h-0.62zM242.7 217.5h0.62v0.62h-0.62zM227.1 233.2h0.62v0.62h-0.62zM233.3 226.0h0.62v0.62h-0.62zM235.8 219.0h0.62v0.62h-0.62zM236.5 227.7h0.62v0.62h-0.62zM239.4 230.2h0.62v0.62h-0.62zM260.1 208.5h0.62v0.62h-0.62zM247.2 210.0h0.62v0.62h-0.62zM233.3 221.1h0.62v0.62h-0.62zM243.6 224.4h0.62v0.62h-0.62zM232.6 219.5h0.62v0.62h-0.62zM238.2 225.2h0.62v0.62h-0.62zM231.6 232.7h0.62v0.62h-0.62zM249.8 210.0h0.62v0.62h-0.62zM249.1 223.1h0.62v0.62h-0.62zM246.3 207.8h0.62v0.62h-0.62zM239.8 221.3h0.62v0.62h-0.62zM258.5 204.1h0.62v0.62h-0.62z" fill="#000" fill-opacity="0.6"/>
<path d="M257.3 199.8h0.62v0.62h-0.62zM259.1 196.9h0.62v0.62h-0.62zM258.0 197.5h0.62v0.62h-0.62zM259.1 196.7h0.62v0.62h-0.62zM254.2 198.1h0.62v0.62h-0.62zM257.8 197.4h0.62v0.62h-0.62zM258.3 201.6h0.62v0.62h-0.62zM254.6 198.7h0.62v0.62h-0.62zM260.0 199.7h0.62v0.62h-0.62zM252.4 204.4h0.62v0.62h-0.62zM259.4 198.3h0.62v0.62h-0.62zM262.3 195.5h0.62v0.62h-0.62zM259.5 201.9h0.62v0.62h-0.62zM259.8 196.8h0.62v0.62h-0.62zM255.8 201.7h0.62v0.62h-0.62zM257.3 198.8h0.62v0.62h-0.62zM260.5 200.3h0.62v0.62h-0.62zM258.5 194.1h0.62v0.62h-0.62zM252.6 201.3h0.62v0.62h-0.62zM254.7 199.0h0.62v0.62h-0.62zM253.7 203.0h0.62v0.62h-0.62zM254.5 199.9h0.62v0.62h-0.62zM263.3 198.6h0.62v0.62h-0.62zM261.2 199.3h0.62v0.62h-0.62zM260.2 196.6h0.62v0.62h-0.62zM261.9 193.5h0.62v0.62h-0.62zM263.6 196.3h0.62v0.62h-0.62zM255.0 198.8h0.62v0.62h-0.62zM260.7 195.4h0.62v0.62h-0.62zM260.9 199.7h0.62v0.62h-0.62zM262.8 199.7h0.62v0.62h-0.62zM261.9 200.9h0.62v0.62h-0.62zM256.3 199.1h0.62v0.62h-0.62zM261.4 196.7h0.62v0.62h-0.62zM255.0 199.5h0.62v0.62h-0.62zM257.6 197.6h0.62v0.62h-0.62zM259.2 196.6h0.62v0.62h-0.62zM259.9 201.4h0.62v0.62h-0.62zM259.5 200.1h0.62v0.62h-0.62zM255.2 201.5h0.62v0.62h-0.62zM258.0 196.4h0.62v0.62h-0.62zM253.4 201.8h0.62v0.62h-0.62zM257.4 200.7h0.62v0.62h-0.62zM257.6 199.1h0.62v0.62h-0.62zM258.7 197.2h0.62v0.62h-0.62zM258.0 197.9h0.62v0.62h-0.62zM260.6 195.8h0.62v0.62h-0.62zM258.7 196.8h0.62v0.62h-0.62zM258.9 197.1h0.62v0.62h-0.62zM255.6 197.8h0.62v0.62h-0.62zM258.5 199.4h0.62v0.62h-0.62zM257.7 197.1h0.62v0.62h-0.62zM259.1 200.1h0.62v0.62h-0.62zM260.0 200.5h0.62v0.62h-0.62zM257.5 202.2h0.62v0.62h-0.62zM255.7 200.2h0.62v0.62h-0.62zM259.1 199.0h0.62v0.62h-0.62zM261.6 199.7h0.62v0.62h-0.62zM259.8 196.9h0.62v0.62h-0.62zM255.6 199.3h0.62v0.62h-0.62zM258.9 199.2h0.62v0.62h-0.62zM259.1 196.5h0.62v0.62h-0.62zM257.0 200.7h0.62v0.62h-0.62zM256.4 197.2h0.62v0.62h-0.62zM260.5 199.0h0.62v0.62h-0.62zM259.6 194.9h0.62v0.62h-0.62zM260.5 197.5h0.62v0.62h-0.62zM260.9 199.2h0.62v0.62h-0.62zM263.1 196.6h0.62v0.62h-0.62zM260.1 196.3h0.62v0.62h-0.62zM258.7 198.0h0.62v0.62h-0.62zM260.5 198.8h0.62v0.62h-0.62zM255.6 201.8h0.62v0.62h-0.62zM259.6 194.9h0.62v0.62h-0.62zM255.0 200.2h0.62v0.62h-0.62zM260.0 197.1h0.62v0.62h-0.62zM260.2 199.7h0.62v0.62h-0.62zM261.6 194.9h0.62v0.62h-0.62zM257.2 199.4h0.62v0.62h-0.62zM259.0 199.9h0.62v0.62h-0.62zM261.1 197.1h0.62v0.62h-0.62zM260.6 197.1h0.62v0.62h-0.62zM255.3 200.6h0.62v0.62h-0.62zM262.8 198.0h0.62v0.62h-0.62zM258.2 200.8h0.62v0.62h-0.62z" fill="#000" fill-opacity="0.85"/>
<path d="M251.8 202.9h0.62v0.62h-0.62zM253.0 202.4h0.62v0.62h-0.62zM260.3 197.3h0.62v0.62h-0.62zM254.7 200.4h0.62v0.62h-0.62zM255.8 195.9h0.62v0.62h-0.62zM268.3 194.9h0.62v0.62h-0.62zM258.7 197.3h0.62v0.62h-0.62zM262.8 193.6h0.62v0.62h-0.62zM268.2 195.5h0.62v0.62h-0.62zM257.9 197.4h0.62v0.62h-0.62zM262.7 198.3h0.62v0.62h-0.62zM264.6 196.4h0.62v0.62h-0.62zM268.2 195.0h0.62v0.62h-0.62zM258.6 199.2h0.62v0.62h-0.62zM241.5 203.8h0.62v0.62h-0.62zM255.9 202.5h0.62v0.62h-0.62zM255.8 198.6h0.62v0.62h-0.62zM257.1 201.3h0.62v0.62h-0.62zM254.1 200.6h0.62v0.62h-0.62zM260.9 195.3h0.62v0.62h-0.62zM260.1 197.7h0.62v0.62h-0.62zM264.8 194.1h0.62v0.62h-0.62zM257.4 199.9h0.62v0.62h-0.62zM259.6 196.0h0.62v0.62h-0.62zM260.4 196.2h0.62v0.62h-0.62zM263.5 193.9h0.62v0.62h-0.62zM250.9 202.5h0.62v0.62h-0.62zM251.3 199.8h0.62v0.62h-0.62zM263.2 195.0h0.62v0.62h-0.62zM261.2 192.9h0.62v0.62h-0.62zM255.4 203.9h0.62v0.62h-0.62zM259.8 200.5h0.62v0.62h-0.62zM259.2 201.8h0.62v0.62h-0.62zM256.6 201.5h0.62v0.62h-0.62zM259.2 201.6h0.62v0.62h-0.62zM258.7 198.1h0.62v0.62h-0.62zM249.7 202.4h0.62v0.62h-0.62zM266.2 197.6h0.62v0.62h-0.62zM251.6 203.6h0.62v0.62h-0.62zM249.2 202.8h0.62v0.62h-0.62zM257.4 198.3h0.62v0.62h-0.62zM250.6 194.1h0.62v0.62h-0.62zM257.7 199.4h0.62v0.62h-0.62zM250.4 199.9h0.62v0.62h-0.62zM262.4 194.8h0.62v0.62h-0.62zM253.5 196.6h0.62v0.62h-0.62zM254.2 198.8h0.62v0.62h-0.62zM253.8 201.5h0.62v0.62h-0.62zM250.6 202.3h0.62v0.62h-0.62zM250.2 198.9h0.62v0.62h-0.62zM266.0 194.0h0.62v0.62h-0.62zM266.5 197.8h0.62v0.62h-0.62zM249.1 201.1h0.62v0.62h-0.62zM261.6 197.5h0.62v0.62h-0.62zM261.7 201.3h0.62v0.62h-0.62zM265.5 199.0h0.62v0.62h-0.62zM250.2 199.5h0.62v0.62h-0.62zM262.5 191.6h0.62v0.62h-0.62zM259.7 197.7h0.62v0.62h-0.62zM260.1 199.1h0.62v0.62h-0.62zM256.5 203.4h0.62v0.62h-0.62zM277.4 194.6h0.62v0.62h-0.62zM250.6 203.2h0.62v0.62h-0.62zM247.0 203.0h0.62v0.62h-0.62zM259.9 198.0h0.62v0.62h-0.62zM256.6 198.8h0.62v0.62h-0.62zM256.2 197.3h0.62v0.62h-0.62zM257.6 198.9h0.62v0.62h-0.62zM247.8 209.5h0.62v0.62h-0.62zM249.3 203.1h0.62v0.62h-0.62zM258.4 199.5h0.62v0.62h-0.62zM264.0 192.6h0.62v0.62h-0.62zM253.2 195.3h0.62v0.62h-0.62zM255.6 201.2h0.62v0.62h-0.62zM269.1 195.4h0.62v0.62h-0.62zM255.5 201.7h0.62v0.62h-0.62zM238.7 207.9h0.62v0.62h-0.62zM257.1 199.3h0.62v0.62h-0.62zM257.3 200.4h0.62v0.62h-0.62zM253.7 200.8h0.62v0.62h-0.62zM266.8 197.1h0.62v0.62h-0.62zM262.5 200.8h0.62v0.62h-0.62zM239.9 202.8h0.62v0.62h-0.62zM250.7 204.7h0.62v0.62h-0.62zM249.1 202.9h0.62v0.62h-0.62z" fill="#000" fill-opacity="0.65"/>
<path d="M259.3 215.5h0.62v0.62h-0.62zM266.3 207.5h0.62v0.62h-0.62zM261.7 216.0h0.62v0.62h-0.62zM266.3 210.2h0.62v0.62h-0.62zM259.9 216.8h0.62v0.62h-0.62zM256.6 216.8h0.62v0.62h-0.62zM267.9 208.1h0.62v0.62h-0.62zM260.9 210.8h0.62v0.62h-0.62zM263.1 212.8h0.62v0.62h-0.62zM255.6 220.7h0.62v0.62h-0.62zM262.1 211.7h0.62v0.62h-0.62zM264.1 216.0h0.62v0.62h-0.62zM255.6 220.6h0.62v0.62h-0.62zM251.8 225.3h0.62v0.62h-0.62zM260.3 219.5h0.62v0.62h-0.62zM262.0 211.0h0.62v0.62h-0.62zM256.7 219.9h0.62v0.62h-0.62zM250.0 231.1h0.62v0.62h-0.62zM257.3 222.8h0.62v0.62h-0.62zM257.9 225.7h0.62v0.62h-0.62zM256.4 222.5h0.62v0.62h-0.62zM256.5 215.6h0.62v0.62h-0.62zM263.9 213.2h0.62v0.62h-0.62zM257.3 222.7h0.62v0.62h-0.62zM259.4 211.5h0.62v0.62h-0.62zM258.0 217.1h0.62v0.62h-0.62zM258.6 219.7h0.62v0.62h-0.62zM263.9 209.7h0.62v0.62h-0.62zM254.3 219.6h0.62v0.62h-0.62zM259.0 212.9h0.62v0.62h-0.62zM261.1 223.5h0.62v0.62h-0.62zM254.6 218.7h0.62v0.62h-0.62zM256.8 218.1h0.62v0.62h-0.62zM258.3 220.0h0.62v0.62h-0.62zM254.0 223.2h0.62v0.62h-0.62zM260.3 223.3h0.62v0.62h-0.62zM255.7 221.9h0.62v0.62h-0.62zM263.8 216.2h0.62v0.62h-0.62zM259.2 213.0h0.62v0.62h-0.62zM265.2 200.9h0.62v0.62h-0.62zM259.2 217.2h0.62v0.62h-0.62zM260.9 215.8h0.62v0.62h-0.62zM266.6 205.5h0.62v0.62h-0.62zM258.5 215.6h0.62v0.62h-0.62zM261.7 216.5h0.62v0.62h-0.62zM266.5 206.3h0.62v0.62h-0.62zM257.2 214.5h0.62v0.62h-0.62zM261.2 215.9h0.62v0.62h-0.62zM262.2 209.9h0.62v0.62h-0.62zM262.6 208.2h0.62v0.62h-0.62zM263.1 217.2h0.62v0.62h-0.62zM266.1 214.5h0.62v0.62h-0.62zM253.9 224.2h0.62v0.62h-0.62zM254.6 221.1h0.62v0.62h-0.62zM261.6 214.1h0.62v0.62h-0.62zM258.1 223.4h0.62v0.62h-0.62zM254.1 217.1h0.62v0.62h-0.62zM261.6 210.0h0.62v0.62h-0.62zM255.2 216.7h0.62v0.62h-0.62zM267.4 210.8h0.62v0.62h-0.62zM260.4 215.2h0.62v0.62h-0.62zM266.9 202.7h0.62v0.62h-0.62zM262.9 217.0h0.62v0.62h-0.62zM255.7 225.6h0.62v0.62h-0.62zM253.4 222.4h0.62v0.62h-0.62zM263.1 213.1h0.62v0.62h-0.62zM260.1 219.1h0.62v0.62h-0.62zM260.8 211.5h0.62v0.62h-0.62zM260.2 217.7h0.62v0.62h-0.62zM262.4 210.8h0.62v0.62h-0.62zM257.6 222.0h0.62v0.62h-0.62zM258.9 215.8h0.62v0.62h-0.62zM266.8 204.7h0.62v0.62h-0.62zM262.4 214.8h0.62v0.62h-0.62zM256.8 214.9h0.62v0.62h-0.62zM261.2 211.8h0.62v0.62h-0.62zM259.1 217.9h0.62v0.62h-0.62zM258.0 225.6h0.62v0.62h-0.62zM255.8 220.1h0.62v0.62h-0.62zM255.0 225.0h0.62v0.62h-0.62zM260.0 218.1h0.62v0.62h-0.62zM259.0 216.2h0.62v0.62h-0.62zM251.4 228.8h0.62v0.62h-0.62zM260.1 218.6h0.62v0.62h-0.62zM262.5 213.3h0.62v0.62h-0.62zM259.6 226.5h0.62v0.62h-0.62zM266.1 205.3h0.62v0.62h-0.62zM256.5 215.8h0.62v0.62h-0.62zM264.6 211.1h0.62v0.62h-0.62zM252.9 220.1h0.62v0.62h-0.62zM259.2 219.6h0.62v0.62h-0.62zM260.1 214.2h0.62v0.62h-0.62zM255.6 213.8h0.62v0.62h-0.62zM257.0 219.8h0.62v0.62h-0.62zM254.8 228.2h0.62v0.62h-0.62zM262.3 208.7h0.62v0.62h-0.62zM258.1 216.3h0.62v0.62h-0.62zM263.6 209.3h0.62v0.62h-0.62zM263.7 214.0h0.62v0.62h-0.62zM257.0 216.3h0.62v0.62h-0.62zM259.1 213.8h0.62v0.62h-0.62zM257.6 213.5h0.62v0.62h-0.62zM252.7 222.8h0.62v0.62h-0.62zM262.9 209.7h0.62v0.62h-0.62zM258.8 212.2h0.62v0.62h-0.62zM261.7 216.0h0.62v0.62h-0.62zM264.3 212.3h0.62v0.62h-0.62zM259.7 218.5h0.62v0.62h-0.62zM259.8 221.4h0.62v0.62h-0.62zM259.8 217.5h0.62v0.62h-0.62zM267.0 212.5h0.62v0.62h-0.62zM255.0 224.0h0.62v0.62h-0.62zM263.0 211.4h0.62v0.62h-0.62zM259.5 212.2h0.62v0.62h-0.62zM264.3 214.2h0.62v0.62h-0.62zM258.2 215.0h0.62v0.62h-0.62zM255.0 224.0h0.62v0.62h-0.62zM260.1 212.2h0.62v0.62h-0.62zM259.4 213.0h0.62v0.62h-0.62zM271.8 203.7h0.62v0.62h-0.62zM257.6 217.0h0.62v0.62h-0.62zM265.7 212.4h0.62v0.62h-0.62zM257.3 217.7h0.62v0.62h-0.62zM261.7 215.3h0.62v0.62h-0.62zM261.0 208.5h0.62v0.62h-0.62zM258.4 212.0h0.62v0.62h-0.62zM259.9 220.7h0.62v0.62h-0.62zM264.0 211.2h0.62v0.62h-0.62zM257.2 216.2h0.62v0.62h-0.62zM261.1 210.4h0.62v0.62h-0.62zM258.1 216.5h0.62v0.62h-0.62zM264.9 212.6h0.62v0.62h-0.62zM263.4 221.0h0.62v0.62h-0.62zM260.4 216.4h0.62v0.62h-0.62zM254.0 221.8h0.62v0.62h-0.62zM257.7 219.7h0.62v0.62h-0.62zM263.0 216.9h0.62v0.62h-0.62zM259.0 215.6h0.62v0.62h-0.62zM261.6 212.0h0.62v0.62h-0.62zM262.7 212.7h0.62v0.62h-0.62zM259.4 218.0h0.62v0.62h-0.62zM268.7 212.4h0.62v0.62h-0.62zM254.3 220.0h0.62v0.62h-0.62zM254.9 222.2h0.62v0.62h-0.62zM259.8 219.2h0.62v0.62h-0.62zM258.9 220.0h0.62v0.62h-0.62zM261.5 221.1h0.62v0.62h-0.62zM257.7 213.8h0.62v0.62h-0.62zM252.5 222.0h0.62v0.62h-0.62zM266.6 208.8h0.62v0.62h-0.62zM265.9 207.3h0.62v0.62h-0.62zM257.3 214.7h0.62v0.62h-0.62zM259.5 221.3h0.62v0.62h-0.62zM259.0 215.9h0.62v0.62h-0.62zM259.0 217.8h0.62v0.62h-0.62zM262.3 210.8h0.62v0.62h-0.62zM258.5 212.0h0.62v0.62h-0.62zM259.5 218.2h0.62v0.62h-0.62zM265.1 216.3h0.62v0.62h-0.62zM260.2 213.8h0.62v0.62h-0.62z" fill="#000" fill-opacity="0.8"/>
<path d="M252.4 212.9h0.62v0.62h-0.62zM264.2 219.0h0.62v0.62h-0.62zM243.0 222.6h0.62v0.62h-0.62zM254.7 219.3h0.62v0.62h-0.62zM258.9 207.1h0.62v0.62h-0.62zM237.9 222.0h0.62v0.62h-0.62zM248.7 219.8h0.62v0.62h-0.62zM255.7 199.9h0.62v0.62h-0.62zM239.9 222.3h0.62v0.62h-0.62zM236.9 221.7h0.62v0.62h-0.62zM242.6 215.3h0.62v0.62h-0.62zM246.6 204.8h0.62v0.62h-0.62zM257.9 208.4h0.62v0.62h-0.62zM232.9 202.7h0.62v0.62h-0.62zM274.7 193.2h0.62v0.62h-0.62zM240.8 214.5h0.62v0.62h-0.62zM239.3 226.1h0.62v0.62h-0.62zM246.5 209.4h0.62v0.62h-0.62zM254.1 201.6h0.62v0.62h-0.62zM244.4 214.1h0.62v0.62h-0.62zM247.3 209.3h0.62v0.62h-0.62zM248.2 217.4h0.62v0.62h-0.62zM234.8 219.9h0.62v0.62h-0.62zM248.0 211.5h0.62v0.62h-0.62zM240.9 226.9h0.62v0.62h-0.62zM249.1 212.8h0.62v0.62h-0.62zM257.3 222.1h0.62v0.62h-0.62zM257.9 203.7h0.62v0.62h-0.62zM242.7 230.4h0.62v0.62h-0.62zM246.5 212.9h0.62v0.62h-0.62zM240.7 221.1h0.62v0.62h-0.62zM256.8 204.1h0.62v0.62h-0.62zM240.2 211.0h0.62v0.62h-0.62zM248.2 217.0h0.62v0.62h-0.62zM248.7 206.4h0.62v0.62h-0.62zM250.1 204.9h0.62v0.62h-0.62zM261.5 195.4h0.62v0.62h-0.62zM254.5 215.9h0.62v0.62h-0.62zM269.1 201.0h0.62v0.62h-0.62zM251.5 198.3h0.62v0.62h-0.62zM257.3 204.1h0.62v0.62h-0.62zM249.2 206.6h0.62v0.62h-0.62zM245.0 216.0h0.62v0.62h-0.62zM262.2 194.2h0.62v0.62h-0.62zM242.3 202.3h0.62v0.62h-0.62zM267.6 193.7h0.62v0.62h-0.62zM251.8 209.1h0.62v0.62h-0.62zM250.6 218.1h0.62v0.62h-0.62zM229.3 214.6h0.62v0.62h-0.62zM239.9 234.6h0.62v0.62h-0.62zM243.4 223.9h0.62v0.62h-0.62zM237.1 218.8h0.62v0.62h-0.62zM251.7 198.9h0.62v0.62h-0.62zM245.6 222.6h0.62v0.62h-0.62zM260.0 205.0h0.62v0.62h-0.62zM225.4 236.2h0.62v0.62h-0.62zM247.3 202.7h0.62v0.62h-0.62zM244.6 211.2h0.62v0.62h-0.62zM239.9 223.8h0.62v0.62h-0.62zM243.6 211.2h0.62v0.62h-0.62zM256.9 216.1h0.62v0.62h-0.62zM230.0 201.5h0.62v0.62h-0.62zM246.3 217.7h0.62v0.62h-0.62zM259.6 201.1h0.62v0.62h-0.62zM259.2 217.4h0.62v0.62h-0.62zM254.9 218.2h0.62v0.62h-0.62zM247.4 220.6h0.62v0.62h-0.62zM251.4 219.6h0.62v0.62h-0.62zM251.6 198.1h0.62v0.62h-0.62zM250.2 210.5h0.62v0.62h-0.62zM253.5 212.8h0.62v0.62h-0.62zM252.2 212.7h0.62v0.62h-0.62zM246.1 223.5h0.62v0.62h-0.62zM255.4 198.2h0.62v0.62h-0.62zM244.7 220.5h0.62v0.62h-0.62zM253.1 215.9h0.62v0.62h-0.62zM267.6 214.5h0.62v0.62h-0.62zM246.4 226.9h0.62v0.62h-0.62zM253.0 195.6h0.62v0.62h-0.62zM254.2 211.7h0.62v0.62h-0.62zM252.5 203.4h0.62v0.62h-0.62zM239.2 218.4h0.62v0.62h-0.62zM247.1 219.7h0.62v0.62h-0.62zM264.2 191.5h0.62v0.62h-0.62zM257.6 206.2h0.62v0.62h-0.62zM241.5 223.1h0.62v0.62h-0.62zM257.6 212.0h0.62v0.62h-0.62zM249.5 215.8h0.62v0.62h-0.62zM255.2 201.6h0.62v0.62h-0.62zM249.7 212.9h0.62v0.62h-0.62zM242.0 215.5h0.62v0.62h-0.62zM250.5 228.5h0.62v0.62h-0.62zM240.3 215.2h0.62v0.62h-0.62zM244.0 208.6h0.62v0.62h-0.62zM254.5 208.7h0.62v0.62h-0.62zM255.2 213.8h0.62v0.62h-0.62zM234.4 220.4h0.62v0.62h-0.62zM261.8 210.4h0.62v0.62h-0.62zM258.0 197.8h0.62v0.62h-0.62zM242.9 222.0h0.62v0.62h-0.62zM241.3 209.0h0.62v0.62h-0.62zM250.5 204.7h0.62v0.62h-0.62zM241.6 218.7h0.62v0.62h-0.62zM255.3 197.3h0.62v0.62h-0.62zM258.8 215.4h0.62v0.62h-0.62zM248.2 220.3h0.62v0.62h-0.62zM250.0 206.9h0.62v0.62h-0.62zM251.2 212.8h0.62v0.62h-0.62zM246.5 231.2h0.62v0.62h-0.62zM231.1 227.0h0.62v0.62h-0.62z" fill="#000" fill-opacity="0.45"/>
<line x1="251.30" y1="188.90" x2="251.30" y2="241.60" stroke="#f29aa9" stroke-width="1.3"/>
<line x1="222.40" y1="206.60" x2="280.20" y2="206.60" stroke="#f29aa9" stroke-width="1.3"/>
<rect x="222.40" y="188.90" width="57.80" height="52.70" fill="none" stroke="#222" stroke-width="1.3"/>
<line x1="219.30" y1="241.58" x2="221.80" y2="241.58" stroke="#000" stroke-width="0.9"/>
<line x1="219.30" y1="240.47" x2="221.80" y2="240.47" stroke="#000" stroke-width="0.9"/>
<line x1="219.30" y1="239.56" x2="221.80" y2="239.56" stroke="#000" stroke-width="0.9"/>
<line x1="219.30" y1="238.79" x2="221.80" y2="238.79" stroke="#000" stroke-width="0.9"/>
<line x1="219.30" y1="238.13" x2="221.80" y2="238.13" stroke="#000" stroke-width="0.9"/>
<line x1="219.30" y1="237.54" x2="221.80" y2="237.54" stroke="#000" stroke-width="0.9"/>
<line x1="218.80" y1="237.02" x2="221.80" y2="237.02" stroke="#000" stroke-width="0.9"/>
<line x1="219.30" y1="233.57" x2="221.80" y2="233.57" stroke="#000" stroke-width="0.9"/>
<line x1="219.30" y1="231.55" x2="221.80" y2="231.55" stroke="#000" stroke-width="0.9"/>
<line x1="219.30" y1="230.12" x2="221.80" y2="230.12" stroke="#000" stroke-width="0.9"/>
<line x1="219.30" y1="229.01" x2="221.80" y2="229.01" stroke="#000" stroke-width="0.9"/>
<line x1="219.30" y1="228.10" x2="221.80" y2="228.10" stroke="#000" stroke-width="0.9"/>
<line x1="219.30" y1="227.34" x2="221.80" y2="227.34" stroke="#000" stroke-width="0.9"/>
<line x1="219.30" y1="226.67" x2="221.80" y2="226.67" stroke="#000" stroke-width="0.9"/>
<line x1="219.30" y1="226.09" x2="221.80" y2="226.09" stroke="#000" stroke-width="0.9"/>
<line x1="218.80" y1="225.56" x2="221.80" y2="225.56" stroke="#000" stroke-width="0.9"/>
<line x1="219.30" y1="222.11" x2="221.80" y2="222.11" stroke="#000" stroke-width="0.9"/>
<line x1="219.30" y1="220.09" x2="221.80" y2="220.09" stroke="#000" stroke-width="0.9"/>
<line x1="219.30" y1="218.66" x2="221.80" y2="218.66" stroke="#000" stroke-width="0.9"/>
<line x1="219.30" y1="217.55" x2="221.80" y2="217.55" stroke="#000" stroke-width="0.9"/>
<line x1="219.30" y1="216.65" x2="221.80" y2="216.65" stroke="#000" stroke-width="0.9"/>
<line x1="219.30" y1="215.88" x2="221.80" y2="215.88" stroke="#000" stroke-width="0.9"/>
<line x1="219.30" y1="215.21" x2="221.80" y2="215.21" stroke="#000" stroke-width="0.9"/>
<line x1="219.30" y1="214.63" x2="221.80" y2="214.63" stroke="#000" stroke-width="0.9"/>
<line x1="218.80" y1="214.10" x2="221.80" y2="214.10" stroke="#000" stroke-width="0.9"/>
<line x1="219.30" y1="210.66" x2="221.80" y2="210.66" stroke="#000" stroke-width="0.9"/>
<line x1="219.30" y1="208.64" x2="221.80" y2="208.64" stroke="#000" stroke-width="0.9"/>
<line x1="219.30" y1="207.21" x2="221.80" y2="207.21" stroke="#000" stroke-width="0.9"/>
<line x1="219.30" y1="206.10" x2="221.80" y2="206.10" stroke="#000" stroke-width="0.9"/>
<line x1="219.30" y1="205.19" x2="221.80" y2="205.19" stroke="#000" stroke-width="0.9"/>
<line x1="219.30" y1="204.42" x2="221.80" y2="204.42" stroke="#000" stroke-width="0.9"/>
<line x1="219.30" y1="203.76" x2="221.80" y2="203.76" stroke="#000" stroke-width="0.9"/>
<line x1="219.30" y1="203.17" x2="221.80" y2="203.17" stroke="#000" stroke-width="0.9"/>
<line x1="218.80" y1="202.65" x2="221.80" y2="202.65" stroke="#000" stroke-width="0.9"/>
<line x1="219.30" y1="199.20" x2="221.80" y2="199.20" stroke="#000" stroke-width="0.9"/>
<line x1="219.30" y1="197.18" x2="221.80" y2="197.18" stroke="#000" stroke-width="0.9"/>
<line x1="219.30" y1="195.75" x2="221.80" y2="195.75" stroke="#000" stroke-width="0.9"/>
<line x1="219.30" y1="194.64" x2="221.80" y2="194.64" stroke="#000" stroke-width="0.9"/>
<line x1="219.30" y1="193.73" x2="221.80" y2="193.73" stroke="#000" stroke-width="0.9"/>
<line x1="219.30" y1="192.97" x2="221.80" y2="192.97" stroke="#000" stroke-width="0.9"/>
<line x1="219.30" y1="192.30" x2="221.80" y2="192.30" stroke="#000" stroke-width="0.9"/>
<line x1="219.30" y1="191.72" x2="221.80" y2="191.72" stroke="#000" stroke-width="0.9"/>
<line x1="218.80" y1="191.19" x2="221.80" y2="191.19" stroke="#000" stroke-width="0.9"/>
<line x1="223.66" y1="242.20" x2="223.66" y2="244.70" stroke="#000" stroke-width="0.9"/>
<line x1="224.85" y1="242.20" x2="224.85" y2="244.70" stroke="#000" stroke-width="0.9"/>
<line x1="225.82" y1="242.20" x2="225.82" y2="244.70" stroke="#000" stroke-width="0.9"/>
<line x1="226.64" y1="242.20" x2="226.64" y2="244.70" stroke="#000" stroke-width="0.9"/>
<line x1="227.36" y1="242.20" x2="227.36" y2="244.70" stroke="#000" stroke-width="0.9"/>
<line x1="227.99" y1="242.20" x2="227.99" y2="244.70" stroke="#000" stroke-width="0.9"/>
<line x1="228.55" y1="242.20" x2="228.55" y2="245.20" stroke="#000" stroke-width="0.9"/>
<line x1="232.25" y1="242.20" x2="232.25" y2="244.70" stroke="#000" stroke-width="0.9"/>
<line x1="234.42" y1="242.20" x2="234.42" y2="244.70" stroke="#000" stroke-width="0.9"/>
<line x1="235.95" y1="242.20" x2="235.95" y2="244.70" stroke="#000" stroke-width="0.9"/>
<line x1="237.14" y1="242.20" x2="237.14" y2="244.70" stroke="#000" stroke-width="0.9"/>
<line x1="238.12" y1="242.20" x2="238.12" y2="244.70" stroke="#000" stroke-width="0.9"/>
<line x1="238.94" y1="242.20" x2="238.94" y2="244.70" stroke="#000" stroke-width="0.9"/>
<line x1="239.66" y1="242.20" x2="239.66" y2="244.70" stroke="#000" stroke-width="0.9"/>
<line x1="240.28" y1="242.20" x2="240.28" y2="244.70" stroke="#000" stroke-width="0.9"/>
<line x1="240.85" y1="242.20" x2="240.85" y2="245.20" stroke="#000" stroke-width="0.9"/>
<line x1="244.55" y1="242.20" x2="244.55" y2="244.70" stroke="#000" stroke-width="0.9"/>
<line x1="246.71" y1="242.20" x2="246.71" y2="244.70" stroke="#000" stroke-width="0.9"/>
<line x1="248.25" y1="242.20" x2="248.25" y2="244.70" stroke="#000" stroke-width="0.9"/>
<line x1="249.44" y1="242.20" x2="249.44" y2="244.70" stroke="#000" stroke-width="0.9"/>
<line x1="250.42" y1="242.20" x2="250.42" y2="244.70" stroke="#000" stroke-width="0.9"/>
<line x1="251.24" y1="242.20" x2="251.24" y2="244.70" stroke="#000" stroke-width="0.9"/>
<line x1="251.95" y1="242.20" x2="251.95" y2="244.70" stroke="#000" stroke-width="0.9"/>
<line x1="252.58" y1="242.20" x2="252.58" y2="244.70" stroke="#000" stroke-width="0.9"/>
<line x1="253.14" y1="242.20" x2="253.14" y2="245.20" stroke="#000" stroke-width="0.9"/>
<line x1="256.85" y1="242.20" x2="256.85" y2="244.70" stroke="#000" stroke-width="0.9"/>
<line x1="259.01" y1="242.20" x2="259.01" y2="244.70" stroke="#000" stroke-width="0.9"/>
<line x1="260.55" y1="242.20" x2="260.55" y2="244.70" stroke="#000" stroke-width="0.9"/>
<line x1="261.74" y1="242.20" x2="261.74" y2="244.70" stroke="#000" stroke-width="0.9"/>
<line x1="262.71" y1="242.20" x2="262.71" y2="244.70" stroke="#000" stroke-width="0.9"/>
<line x1="263.54" y1="242.20" x2="263.54" y2="244.70" stroke="#000" stroke-width="0.9"/>
<line x1="264.25" y1="242.20" x2="264.25" y2="244.70" stroke="#000" stroke-width="0.9"/>
<line x1="264.88" y1="242.20" x2="264.88" y2="244.70" stroke="#000" stroke-width="0.9"/>
<line x1="265.44" y1="242.20" x2="265.44" y2="245.20" stroke="#000" stroke-width="0.9"/>
<line x1="269.14" y1="242.20" x2="269.14" y2="244.70" stroke="#000" stroke-width="0.9"/>
<line x1="271.31" y1="242.20" x2="271.31" y2="244.70" stroke="#000" stroke-width="0.9"/>
<line x1="272.85" y1="242.20" x2="272.85" y2="244.70" stroke="#000" stroke-width="0.9"/>
<line x1="274.04" y1="242.20" x2="274.04" y2="244.70" stroke="#000" stroke-width="0.9"/>
<line x1="275.01" y1="242.20" x2="275.01" y2="244.70" stroke="#000" stroke-width="0.9"/>
<line x1="275.84" y1="242.20" x2="275.84" y2="244.70" stroke="#000" stroke-width="0.9"/>
<line x1="276.55" y1="242.20" x2="276.55" y2="244.70" stroke="#000" stroke-width="0.9"/>
<line x1="277.18" y1="242.20" x2="277.18" y2="244.70" stroke="#000" stroke-width="0.9"/>
<line x1="277.74" y1="242.20" x2="277.74" y2="245.20" stroke="#000" stroke-width="0.9"/>
<text x="223.51" y="194.70" font-size="6.1" textLength="11.57" lengthAdjust="spacingAndGlyphs" transform="rotate(0.05 223.51 194.70)" fill="#1e1e1e">1.2%</text>
<text x="260.51" y="194.70" font-size="6.1" textLength="14.57" lengthAdjust="spacingAndGlyphs" transform="rotate(0.05 260.51 194.70)" fill="#1e1e1e">14.1%</text>
<text x="261.34" y="239.60" font-size="6.1" textLength="13.53" lengthAdjust="spacingAndGlyphs" transform="rotate(0.05 261.34 239.60)" fill="#1e1e1e">12.6%</text>
<text x="216.80" y="192.3" font-size="7.2" text-anchor="end" fill="#1e1e1e" transform="rotate(0.05 216.80 192.3)">10<tspan font-size="5.0" dy="-2.8">7.2</tspan></text>
<text x="216.80" y="207.6" font-size="7.2" text-anchor="end" fill="#1e1e1e" transform="rotate(0.05 216.80 207.6)">10<tspan font-size="5.0" dy="-2.8">6</tspan></text>
<text x="216.80" y="218.8" font-size="7.2" text-anchor="end" fill="#1e1e1e" transform="rotate(0.05 216.80 218.8)">10<tspan font-size="5.0" dy="-2.8">5</tspan></text>
<text x="216.80" y="230.0" font-size="7.2" text-anchor="end" fill="#1e1e1e" transform="rotate(0.05 216.80 230.0)">10<tspan font-size="5.0" dy="-2.8">4</tspan></text>
<text x="216.80" y="245.2" font-size="7.2" text-anchor="end" fill="#1e1e1e" transform="rotate(0.05 216.80 245.2)">10<tspan font-size="5.0" dy="-2.8">2.6</tspan></text>
<text x="215.50" y="256.1" font-size="7.0" fill="#1e1e1e" transform="rotate(0.05 215.50 256.1)">10<tspan font-size="4.9" dy="-3.5">2.5</tspan></text>
<text x="235.60" y="256.1" font-size="7.0" fill="#1e1e1e" transform="rotate(0.05 235.60 256.1)">10<tspan font-size="4.9" dy="-3.5">4</tspan></text>
<text x="247.80" y="256.1" font-size="7.0" fill="#1e1e1e" transform="rotate(0.05 247.80 256.1)">10<tspan font-size="4.9" dy="-3.5">5</tspan></text>
<text x="260.40" y="256.1" font-size="7.0" fill="#1e1e1e" transform="rotate(0.05 260.40 256.1)">10<tspan font-size="4.9" dy="-3.5">6</tspan></text>
<text x="272.60" y="256.1" font-size="7.0" fill="#1e1e1e" transform="rotate(0.05 272.60 256.1)">10<tspan font-size="4.9" dy="-3.5">7.2</tspan></text>
<line x1="10.70" y1="193.00" x2="10.70" y2="231.90" stroke="#222" stroke-width="1.0"/>
<path d="M8.6,195.0 L10.7,189.6 L12.8,195.0 Z" fill="#111"/>
<text x="12.80" y="241.95" font-size="7.9" textLength="6.38" lengthAdjust="spacingAndGlyphs" transform="rotate(-90 12.80 241.95)" fill="#1e1e1e">PI</text>
<text x="38.29" y="265.70" font-size="8.6" textLength="29.54" lengthAdjust="spacingAndGlyphs" transform="rotate(0.05 38.29 265.70)" fill="#1e1e1e">Annexin V</text>
<line x1="70.00" y1="263.20" x2="276.50" y2="263.20" stroke="#1a1a1a" stroke-width="1.0"/>
<path d="M274.5,261.1 L280.8,263.2 L274.5,265.3 Z" fill="#111"/>
<text x="298.68" y="162.10" font-size="11.2" font-weight="bold" textLength="7.13" lengthAdjust="spacingAndGlyphs" transform="rotate(0.05 298.68 162.10)" fill="#000">E</text>
<line x1="326.50" y1="168.30" x2="326.50" y2="242.30" stroke="#222" stroke-width="1.3"/>
<line x1="323.50" y1="241.70" x2="326.50" y2="241.70" stroke="#222" stroke-width="1.0"/>
<text x="315.81" y="244.05" font-size="8.2" textLength="4.29" lengthAdjust="spacingAndGlyphs" transform="rotate(0.05 315.81 244.05)" fill="#1e1e1e">0</text>
<line x1="323.50" y1="231.66" x2="326.50" y2="231.66" stroke="#222" stroke-width="1.0"/>
<text x="315.84" y="234.01" font-size="8.2" textLength="4.29" lengthAdjust="spacingAndGlyphs" transform="rotate(0.05 315.84 234.01)" fill="#1e1e1e">5</text>
<line x1="323.50" y1="221.62" x2="326.50" y2="221.62" stroke="#222" stroke-width="1.0"/>
<text x="311.53" y="223.97" font-size="8.2" textLength="8.57" lengthAdjust="spacingAndGlyphs" transform="rotate(0.05 311.53 223.97)" fill="#1e1e1e">10</text>
<line x1="323.50" y1="211.58" x2="326.50" y2="211.58" stroke="#222" stroke-width="1.0"/>
<text x="311.55" y="213.93" font-size="8.2" textLength="8.57" lengthAdjust="spacingAndGlyphs" transform="rotate(0.05 311.55 213.93)" fill="#1e1e1e">15</text>
<line x1="323.50" y1="201.54" x2="326.50" y2="201.54" stroke="#222" stroke-width="1.0"/>
<text x="311.53" y="203.89" font-size="8.2" textLength="8.57" lengthAdjust="spacingAndGlyphs" transform="rotate(0.05 311.53 203.89)" fill="#1e1e1e">20</text>
<line x1="323.50" y1="191.50" x2="326.50" y2="191.50" stroke="#222" stroke-width="1.0"/>
<text x="311.55" y="193.85" font-size="8.2" textLength="8.57" lengthAdjust="spacingAndGlyphs" transform="rotate(0.05 311.55 193.85)" fill="#1e1e1e">25</text>
<line x1="323.50" y1="181.46" x2="326.50" y2="181.46" stroke="#222" stroke-width="1.0"/>
<text x="311.53" y="183.81" font-size="8.2" textLength="8.57" lengthAdjust="spacingAndGlyphs" transform="rotate(0.05 311.53 183.81)" fill="#1e1e1e">30</text>
<line x1="323.50" y1="171.42" x2="326.50" y2="171.42" stroke="#222" stroke-width="1.0"/>
<text x="311.55" y="173.77" font-size="8.2" textLength="8.57" lengthAdjust="spacingAndGlyphs" transform="rotate(0.05 311.55 173.77)" fill="#1e1e1e">35</text>
<line x1="326.50" y1="241.70" x2="383.20" y2="241.70" stroke="#222" stroke-width="1.3"/>
<rect x="332.85" y="223.65" width="4.90" height="18.05" fill="#2e4b7e" stroke="#223f76" stroke-width="0.5"/>
<line x1="335.30" y1="220.00" x2="335.30" y2="226.60" stroke="#111" stroke-width="0.9"/>
<line x1="334.00" y1="220.00" x2="336.60" y2="220.00" stroke="#111" stroke-width="0.9"/>
<rect x="350.55" y="207.65" width="5.10" height="34.05" fill="#2e4b7e" stroke="#223f76" stroke-width="0.5"/>
<line x1="353.10" y1="201.80" x2="353.10" y2="213.00" stroke="#111" stroke-width="0.9"/>
<line x1="351.80" y1="201.80" x2="354.40" y2="201.80" stroke="#111" stroke-width="0.9"/>
<ellipse cx="351.40" cy="198.20" rx="1.05" ry="0.95" fill="#1a1a1a"/>
<ellipse cx="354.80" cy="198.20" rx="1.05" ry="0.95" fill="#1a1a1a"/>
<rect x="368.45" y="186.65" width="4.90" height="55.05" fill="#2e4b7e" stroke="#223f76" stroke-width="0.5"/>
<line x1="370.90" y1="182.00" x2="370.90" y2="191.00" stroke="#111" stroke-width="0.9"/>
<line x1="369.60" y1="182.00" x2="372.20" y2="182.00" stroke="#111" stroke-width="0.9"/>
<ellipse cx="369.20" cy="178.40" rx="1.05" ry="0.95" fill="#1a1a1a"/>
<ellipse cx="372.60" cy="178.40" rx="1.05" ry="0.95" fill="#1a1a1a"/>
<text x="305.70" y="239.51" font-size="9.0" textLength="70.69" lengthAdjust="spacingAndGlyphs" transform="rotate(-90 305.70 239.51)" fill="#1e1e1e">Annexin V+ cells (%)</text>
<text x="317.81" y="269.69" font-size="8.0" textLength="30.66" lengthAdjust="spacingAndGlyphs" transform="rotate(-45 317.81 269.69)" fill="#1e1e1e">n-siRNA</text>
<text x="320.49" y="284.61" font-size="8.0" textLength="51.73" lengthAdjust="spacingAndGlyphs" transform="rotate(-45 320.49 284.61)" fill="#1e1e1e">AURKA-siRNA</text>
<text x="337.52" y="284.18" font-size="8.0" textLength="51.82" lengthAdjust="spacingAndGlyphs" transform="rotate(-45 337.52 284.18)" fill="#1e1e1e">CDCA3-siRNA</text>
<text x="392.41" y="162.10" font-size="11.2" font-weight="bold" textLength="9.22" lengthAdjust="spacingAndGlyphs" transform="rotate(0.05 392.41 162.10)" fill="#000">G</text>
<rect x="419.70" y="172.30" width="3.10" height="3.00" fill="#2e4b7e"/>
<text x="425.52" y="175.70" font-size="7.4" textLength="27.10" lengthAdjust="spacingAndGlyphs" transform="rotate(0.05 425.52 175.70)" fill="#1e1e1e">n-siRNA</text>
<rect x="462.50" y="172.30" width="3.10" height="3.00" fill="#a8052f"/>
<text x="468.48" y="175.70" font-size="7.4" textLength="44.14" lengthAdjust="spacingAndGlyphs" transform="rotate(0.05 468.48 175.70)" fill="#1e1e1e">SphK1-siRNA</text>
<line x1="422.70" y1="181.10" x2="422.70" y2="242.10" stroke="#222" stroke-width="1.3"/>
<line x1="419.70" y1="241.50" x2="422.70" y2="241.50" stroke="#222" stroke-width="1.0"/>
<text x="405.99" y="243.85" font-size="8.2" textLength="10.72" lengthAdjust="spacingAndGlyphs" transform="rotate(0.05 405.99 243.85)" fill="#1e1e1e">0.0</text>
<line x1="419.70" y1="231.90" x2="422.70" y2="231.90" stroke="#222" stroke-width="1.0"/>
<text x="406.07" y="234.25" font-size="8.2" textLength="10.72" lengthAdjust="spacingAndGlyphs" transform="rotate(0.05 406.07 234.25)" fill="#1e1e1e">0.2</text>
<line x1="419.70" y1="222.30" x2="422.70" y2="222.30" stroke="#222" stroke-width="1.0"/>
<text x="405.91" y="224.65" font-size="8.2" textLength="10.72" lengthAdjust="spacingAndGlyphs" transform="rotate(0.05 405.91 224.65)" fill="#1e1e1e">0.4</text>
<line x1="419.70" y1="212.70" x2="422.70" y2="212.70" stroke="#222" stroke-width="1.0"/>
<text x="406.02" y="215.05" font-size="8.2" textLength="10.72" lengthAdjust="spacingAndGlyphs" transform="rotate(0.05 406.02 215.05)" fill="#1e1e1e">0.6</text>
<line x1="419.70" y1="203.10" x2="422.70" y2="203.10" stroke="#222" stroke-width="1.0"/>
<text x="406.02" y="205.45" font-size="8.2" textLength="10.72" lengthAdjust="spacingAndGlyphs" transform="rotate(0.05 406.02 205.45)" fill="#1e1e1e">0.8</text>
<line x1="419.70" y1="193.50" x2="422.70" y2="193.50" stroke="#222" stroke-width="1.0"/>
<text x="405.99" y="195.85" font-size="8.2" textLength="10.72" lengthAdjust="spacingAndGlyphs" transform="rotate(0.05 405.99 195.85)" fill="#1e1e1e">1.0</text>
<line x1="419.70" y1="183.90" x2="422.70" y2="183.90" stroke="#222" stroke-width="1.0"/>
<text x="406.07" y="186.25" font-size="8.2" textLength="10.72" lengthAdjust="spacingAndGlyphs" transform="rotate(0.05 406.07 186.25)" fill="#1e1e1e">1.2</text>
<line x1="422.70" y1="241.50" x2="509.60" y2="241.50" stroke="#222" stroke-width="1.3"/>
<rect x="432.35" y="193.75" width="5.10" height="47.75" fill="#2e4b7e" stroke="#223f76" stroke-width="0.5"/>
<line x1="434.90" y1="190.20" x2="434.90" y2="196.80" stroke="#111" stroke-width="0.9"/>
<line x1="433.60" y1="190.20" x2="436.20" y2="190.20" stroke="#111" stroke-width="0.9"/>
<rect x="437.95" y="219.67" width="5.20" height="21.83" fill="#a8052f" stroke="#9a0024" stroke-width="0.5"/>
<line x1="440.55" y1="217.82" x2="440.55" y2="221.02" stroke="#111" stroke-width="0.9"/>
<line x1="439.25" y1="217.82" x2="441.85" y2="217.82" stroke="#111" stroke-width="0.9"/>
<ellipse cx="438.85" cy="214.52" rx="1.05" ry="0.95" fill="#1a1a1a"/>
<ellipse cx="442.25" cy="214.52" rx="1.05" ry="0.95" fill="#1a1a1a"/>
<rect x="461.35" y="193.75" width="5.10" height="47.75" fill="#2e4b7e" stroke="#223f76" stroke-width="0.5"/>
<line x1="463.90" y1="191.50" x2="463.90" y2="195.50" stroke="#111" stroke-width="0.9"/>
<line x1="462.60" y1="191.50" x2="465.20" y2="191.50" stroke="#111" stroke-width="0.9"/>
<rect x="466.95" y="190.39" width="5.20" height="51.11" fill="#a8052f" stroke="#9a0024" stroke-width="0.5"/>
<line x1="469.55" y1="186.74" x2="469.55" y2="193.54" stroke="#111" stroke-width="0.9"/>
<line x1="468.25" y1="186.74" x2="470.85" y2="186.74" stroke="#111" stroke-width="0.9"/>
<rect x="490.25" y="193.75" width="5.10" height="47.75" fill="#2e4b7e" stroke="#223f76" stroke-width="0.5"/>
<line x1="492.80" y1="191.80" x2="492.80" y2="195.20" stroke="#111" stroke-width="0.9"/>
<line x1="491.50" y1="191.80" x2="494.10" y2="191.80" stroke="#111" stroke-width="0.9"/>
<rect x="495.85" y="197.35" width="5.20" height="44.15" fill="#a8052f" stroke="#9a0024" stroke-width="0.5"/>
<line x1="498.45" y1="194.80" x2="498.45" y2="199.40" stroke="#111" stroke-width="0.9"/>
<line x1="497.15" y1="194.80" x2="499.75" y2="194.80" stroke="#111" stroke-width="0.9"/>
<text x="400.90" y="243.30" font-size="9.0" textLength="64.18" lengthAdjust="spacingAndGlyphs" transform="rotate(-90 400.90 243.30)" fill="#1e1e1e">Relative expression</text>
<rect x="419.70" y="288.70" width="3.10" height="3.00" fill="#2e4b7e"/>
<text x="425.52" y="292.10" font-size="7.4" textLength="27.10" lengthAdjust="spacingAndGlyphs" transform="rotate(0.05 425.52 292.10)" fill="#1e1e1e">n-siRNA</text>
<rect x="462.50" y="288.70" width="3.10" height="3.00" fill="#a8052f"/>
<text x="468.48" y="292.10" font-size="7.4" textLength="44.14" lengthAdjust="spacingAndGlyphs" transform="rotate(0.05 468.48 292.10)" fill="#1e1e1e">SphK2-siRNA</text>
<line x1="422.70" y1="297.30" x2="422.70" y2="357.70" stroke="#222" stroke-width="1.3"/>
<line x1="419.70" y1="357.10" x2="422.70" y2="357.10" stroke="#222" stroke-width="1.0"/>
<text x="405.99" y="359.45" font-size="8.2" textLength="10.72" lengthAdjust="spacingAndGlyphs" transform="rotate(0.05 405.99 359.45)" fill="#1e1e1e">0.0</text>
<line x1="419.70" y1="347.60" x2="422.70" y2="347.60" stroke="#222" stroke-width="1.0"/>
<text x="406.07" y="349.95" font-size="8.2" textLength="10.72" lengthAdjust="spacingAndGlyphs" transform="rotate(0.05 406.07 349.95)" fill="#1e1e1e">0.2</text>
<line x1="419.70" y1="338.10" x2="422.70" y2="338.10" stroke="#222" stroke-width="1.0"/>
<text x="405.91" y="340.45" font-size="8.2" textLength="10.72" lengthAdjust="spacingAndGlyphs" transform="rotate(0.05 405.91 340.45)" fill="#1e1e1e">0.4</text>
<line x1="419.70" y1="328.60" x2="422.70" y2="328.60" stroke="#222" stroke-width="1.0"/>
<text x="406.02" y="330.95" font-size="8.2" textLength="10.72" lengthAdjust="spacingAndGlyphs" transform="rotate(0.05 406.02 330.95)" fill="#1e1e1e">0.6</text>
<line x1="419.70" y1="319.10" x2="422.70" y2="319.10" stroke="#222" stroke-width="1.0"/>
<text x="406.02" y="321.45" font-size="8.2" textLength="10.72" lengthAdjust="spacingAndGlyphs" transform="rotate(0.05 406.02 321.45)" fill="#1e1e1e">0.8</text>
<line x1="419.70" y1="309.60" x2="422.70" y2="309.60" stroke="#222" stroke-width="1.0"/>
<text x="405.99" y="311.95" font-size="8.2" textLength="10.72" lengthAdjust="spacingAndGlyphs" transform="rotate(0.05 405.99 311.95)" fill="#1e1e1e">1.0</text>
<line x1="419.70" y1="300.10" x2="422.70" y2="300.10" stroke="#222" stroke-width="1.0"/>
<text x="406.07" y="302.45" font-size="8.2" textLength="10.72" lengthAdjust="spacingAndGlyphs" transform="rotate(0.05 406.07 302.45)" fill="#1e1e1e">1.2</text>
<line x1="422.70" y1="357.10" x2="509.60" y2="357.10" stroke="#222" stroke-width="1.3"/>
<rect x="432.35" y="309.85" width="5.10" height="47.25" fill="#2e4b7e" stroke="#223f76" stroke-width="0.5"/>
<line x1="434.90" y1="308.40" x2="434.90" y2="310.80" stroke="#111" stroke-width="0.9"/>
<line x1="433.60" y1="308.40" x2="436.20" y2="308.40" stroke="#111" stroke-width="0.9"/>
<rect x="437.95" y="348.33" width="5.20" height="8.77" fill="#a8052f" stroke="#9a0024" stroke-width="0.5"/>
<line x1="440.55" y1="346.28" x2="440.55" y2="349.88" stroke="#111" stroke-width="0.9"/>
<line x1="439.25" y1="346.28" x2="441.85" y2="346.28" stroke="#111" stroke-width="0.9"/>
<ellipse cx="438.85" cy="342.98" rx="1.05" ry="0.95" fill="#1a1a1a"/>
<ellipse cx="442.25" cy="342.98" rx="1.05" ry="0.95" fill="#1a1a1a"/>
<rect x="461.35" y="309.85" width="5.10" height="47.25" fill="#2e4b7e" stroke="#223f76" stroke-width="0.5"/>
<line x1="463.90" y1="307.90" x2="463.90" y2="311.30" stroke="#111" stroke-width="0.9"/>
<line x1="462.60" y1="307.90" x2="465.20" y2="307.90" stroke="#111" stroke-width="0.9"/>
<rect x="466.95" y="346.90" width="5.20" height="10.20" fill="#a8052f" stroke="#9a0024" stroke-width="0.5"/>
<line x1="469.55" y1="345.05" x2="469.55" y2="348.25" stroke="#111" stroke-width="0.9"/>
<line x1="468.25" y1="345.05" x2="470.85" y2="345.05" stroke="#111" stroke-width="0.9"/>
<ellipse cx="467.85" cy="341.75" rx="1.05" ry="0.95" fill="#1a1a1a"/>
<ellipse cx="471.25" cy="341.75" rx="1.05" ry="0.95" fill="#1a1a1a"/>
<rect x="490.25" y="309.85" width="5.10" height="47.25" fill="#2e4b7e" stroke="#223f76" stroke-width="0.5"/>
<line x1="492.80" y1="307.30" x2="492.80" y2="311.90" stroke="#111" stroke-width="0.9"/>
<line x1="491.50" y1="307.30" x2="494.10" y2="307.30" stroke="#111" stroke-width="0.9"/>
<rect x="495.85" y="353.08" width="5.20" height="4.02" fill="#a8052f" stroke="#9a0024" stroke-width="0.5"/>
<line x1="498.45" y1="351.63" x2="498.45" y2="354.03" stroke="#111" stroke-width="0.9"/>
<line x1="497.15" y1="351.63" x2="499.75" y2="351.63" stroke="#111" stroke-width="0.9"/>
<ellipse cx="496.75" cy="348.33" rx="1.05" ry="0.95" fill="#1a1a1a"/>
<ellipse cx="500.15" cy="348.33" rx="1.05" ry="0.95" fill="#1a1a1a"/>
<text x="400.90" y="358.90" font-size="9.0" textLength="64.18" lengthAdjust="spacingAndGlyphs" transform="rotate(-90 400.90 358.90)" fill="#1e1e1e">Relative expression</text>
<text x="420.71" y="268.89" font-size="8.0" textLength="29.51" lengthAdjust="spacingAndGlyphs" transform="rotate(-45 420.71 268.89)" fill="#1e1e1e">SphK1/</text>
<text x="435.09" y="268.51" font-size="8.0" textLength="19.49" lengthAdjust="spacingAndGlyphs" transform="rotate(-45 435.09 268.51)" fill="#1e1e1e">Actin</text>
<text x="448.99" y="268.61" font-size="8.0" textLength="29.12" lengthAdjust="spacingAndGlyphs" transform="rotate(-45 448.99 268.61)" fill="#1e1e1e">AURKA/</text>
<text x="463.09" y="268.51" font-size="8.0" textLength="19.49" lengthAdjust="spacingAndGlyphs" transform="rotate(-45 463.09 268.51)" fill="#1e1e1e">Actin</text>
<text x="477.91" y="269.29" font-size="8.0" textLength="29.20" lengthAdjust="spacingAndGlyphs" transform="rotate(-45 477.91 269.29)" fill="#1e1e1e">CDCA3/</text>
<text x="491.79" y="268.51" font-size="8.0" textLength="19.49" lengthAdjust="spacingAndGlyphs" transform="rotate(-45 491.79 268.51)" fill="#1e1e1e">Actin</text>
<text x="420.71" y="384.49" font-size="8.0" textLength="29.51" lengthAdjust="spacingAndGlyphs" transform="rotate(-45 420.71 384.49)" fill="#1e1e1e">SphK2/</text>
<text x="435.09" y="384.11" font-size="8.0" textLength="19.49" lengthAdjust="spacingAndGlyphs" transform="rotate(-45 435.09 384.11)" fill="#1e1e1e">Actin</text>
<text x="448.99" y="384.21" font-size="8.0" textLength="29.12" lengthAdjust="spacingAndGlyphs" transform="rotate(-45 448.99 384.21)" fill="#1e1e1e">AURKA/</text>
<text x="463.09" y="384.11" font-size="8.0" textLength="19.49" lengthAdjust="spacingAndGlyphs" transform="rotate(-45 463.09 384.11)" fill="#1e1e1e">Actin</text>
<text x="477.91" y="384.89" font-size="8.0" textLength="29.20" lengthAdjust="spacingAndGlyphs" transform="rotate(-45 477.91 384.89)" fill="#1e1e1e">CDCA3/</text>
<text x="491.79" y="384.11" font-size="8.0" textLength="19.49" lengthAdjust="spacingAndGlyphs" transform="rotate(-45 491.79 384.11)" fill="#1e1e1e">Actin</text>
</svg>
</body></html>
